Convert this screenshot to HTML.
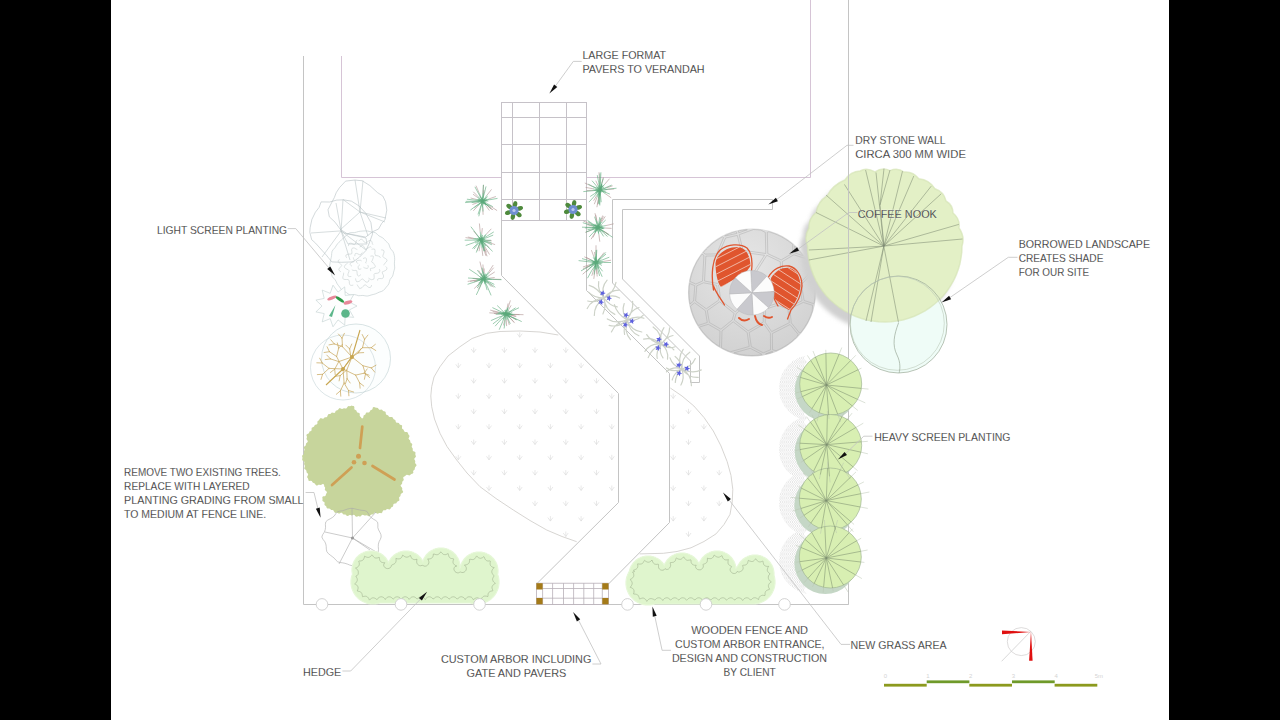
<!DOCTYPE html>
<html><head><meta charset="utf-8"><style>html,body{margin:0;padding:0;background:#000;}svg{display:block;}</style></head>
<body><svg width="1280" height="720" viewBox="0 0 1280 720">
<rect x="0" y="0" width="1280" height="720" fill="#000"/>
<rect x="111" y="0" width="1058" height="720" fill="#fff"/>
<line x1="303.5" y1="56" x2="303.5" y2="604.5" stroke="#c4c4c4" stroke-width="1"/>
<line x1="303.5" y1="604.5" x2="848.5" y2="604.5" stroke="#c4c4c4" stroke-width="1"/>
<line x1="848.5" y1="0" x2="848.5" y2="604.5" stroke="#c4c4c4" stroke-width="1"/>
<polyline points="341.5,56 341.5,177.5 501.5,177.5" stroke="#d6c4d6" stroke-width="1" fill="none"/>
<polyline points="586.5,177.5 810.5,177.5 810.5,0" stroke="#d6c4d6" stroke-width="1" fill="none"/>
<rect x="501.5" y="102.5" width="85" height="118" fill="none" stroke="#c6c2c8"/>
<line x1="512.5" y1="102.5" x2="512.5" y2="220.5" stroke="#c6c2c8" stroke-width="1"/>
<line x1="539.5" y1="102.5" x2="539.5" y2="220.5" stroke="#c6c2c8" stroke-width="1"/>
<line x1="566.5" y1="102.5" x2="566.5" y2="220.5" stroke="#c6c2c8" stroke-width="1"/>
<line x1="501.5" y1="117.5" x2="586.5" y2="117.5" stroke="#c6c2c8" stroke-width="1"/>
<line x1="501.5" y1="144.5" x2="586.5" y2="144.5" stroke="#c6c2c8" stroke-width="1"/>
<line x1="501.5" y1="172.5" x2="586.5" y2="172.5" stroke="#c6c2c8" stroke-width="1"/>
<line x1="501.5" y1="199.5" x2="586.5" y2="199.5" stroke="#c6c2c8" stroke-width="1"/>
<polyline points="501.5,220.5 501.5,275.5 618.5,393.5 618.5,502.5 536.5,584" stroke="#c4c4c4" stroke-width="1" fill="none"/>
<polyline points="586.5,220.5 586.5,290.5 669.5,373.5 669.5,522.5 608.5,584" stroke="#c4c4c4" stroke-width="1" fill="none"/>
<polyline points="612.5,283 612.5,199.5 772.5,199.5 772.5,209.5 622.5,209.5 622.5,279 699.5,356 699.5,382.5 690.5,382.5 690.5,361 612.5,283" stroke="#c4c4c4" stroke-width="1" fill="none"/>
<defs><radialGradient id="pg" cx="45%" cy="30%" r="75%"><stop offset="0" stop-color="#e6e6e6"/><stop offset="1" stop-color="#d0d0d0"/></radialGradient><filter id="blur3" x="-20%" y="-20%" width="140%" height="140%"><feGaussianBlur stdDeviation="3"/></filter><filter id="blur1" x="-20%" y="-20%" width="140%" height="140%"><feGaussianBlur stdDeviation="1.2"/></filter><filter id="blur2" x="-20%" y="-20%" width="140%" height="140%"><feGaussianBlur stdDeviation="2.2"/></filter></defs>
<circle cx="752" cy="292.5" r="64" fill="url(#pg)"/>
<path d="M693.6,301 L694.8,285.7 L689.6,283.5 L689.5,284.8 L689.3,286.3 L689.2,287.9 L689.1,289.4 L689,291 L689,292.5 L689,294 L689.1,295.6 L689.2,297.1 L689.3,298.7 L689.5,300.2 L689.7,301.7 L689.9,303.3 L690,303.9 L693.6,301Z M695.8,284 L702.5,281.1 L703.9,255.5 L702.1,254.1 L701.4,255 L700.5,256.2 L699.6,257.5 L698.8,258.8 L698,260.1 L697.2,261.4 L696.4,262.8 L695.7,264.2 L695,265.6 L694.4,267 L693.8,268.4 L693.2,269.8 L692.7,271.3 L692.2,272.7 L691.7,274.2 L691.3,275.7 L690.9,277.2 L690.5,278.7 L690.2,280.2 L690,281.5 L695.8,284Z M707.3,322.5 L705.3,310.6 L694.6,302.8 L690.5,306.1 L690.5,306.3 L690.9,307.8 L691.3,309.3 L691.7,310.8 L692.2,312.3 L692.7,313.7 L693.2,315.2 L693.8,316.6 L694.4,318 L695,319.4 L695.7,320.8 L696.4,322.2 L697.2,323.6 L698,324.9 L698.3,325.4 L707.3,322.5Z M696.8,285.8 L695.6,301 L706.3,308.8 L718.7,300.1 L716.6,285.3 L703.6,282.8 L696.8,285.8Z M705.3,254.1 L716.6,253.9 L723.6,237.5 L722.4,236.9 L722.3,236.9 L720.9,237.7 L719.6,238.5 L718.3,239.3 L717,240.1 L715.7,241 L714.5,241.9 L713.2,242.8 L712,243.8 L710.9,244.8 L709.7,245.8 L708.6,246.9 L707.5,248 L706.4,249.1 L705.3,250.2 L704.3,251.4 L703.3,252.5 L705.3,254.1Z M720,331 L708.3,324.3 L699.4,327.1 L699.6,327.5 L700.5,328.8 L701.4,330 L702.3,331.3 L703.3,332.5 L704.3,333.6 L705.3,334.8 L706.4,335.9 L707.5,337 L708.6,338.1 L709.7,339.2 L710.9,340.2 L712,341.2 L713.2,342.2 L714.5,343.1 L715.7,344 L717,344.9 L718.3,345.7 L719.5,346.5 L720,331Z M709.4,322.5 L720.9,329.2 L732.3,319.9 L734.1,313.4 L719.7,301.8 L707.3,310.5 L709.4,322.5Z M717.3,283.4 L732.6,274.7 L731.5,267.1 L717,255.9 L705.9,256.1 L704.5,281 L717.3,283.4Z M732.2,265.1 L741.2,251 L737.3,235.4 L725.6,238 L718.5,254.5 L732.2,265.1Z M725,236 L736.9,233.4 L736.2,231.5 L735.2,231.8 L733.7,232.2 L732.2,232.7 L730.8,233.2 L729.3,233.7 L727.9,234.3 L726.5,234.9 L725.1,235.5 L724.6,235.8 L725,236Z M718.6,285 L720.7,300 L735.2,311.8 L748.9,300.5 L746.4,283.9 L733.7,276.3 L718.6,285Z M721.5,347.6 L722.3,348.1 L723.7,348.8 L725.1,349.5 L726.5,350.1 L727.9,350.7 L729.3,351.3 L730.5,351.7 L749.2,346.5 L747.2,332.5 L733.2,321.8 L722,330.9 L721.5,347.6Z M743.1,250.3 L765.8,253.5 L765.3,232.4 L760.9,230.1 L759.7,230 L758.2,229.8 L756.6,229.7 L755.1,229.6 L753.5,229.5 L753.5,229.5 L739.2,234.7 L743.1,250.3Z M738.8,232.8 L747.3,229.7 L745.8,229.8 L744.3,230 L742.8,230.2 L741.2,230.4 L739.7,230.7 L738.2,231 L738.2,231 L738.8,232.8Z M733.5,266.8 L734.6,274.6 L747.3,282.1 L747.6,281.9 L764.5,255.3 L742.8,252.3 L733.5,266.8Z M733.9,352.9 L735.2,353.2 L736.7,353.6 L738.2,354 L739.7,354.3 L741.2,354.6 L742.8,354.8 L744.3,355 L745.8,355.2 L747.4,355.3 L748.9,355.4 L750.5,355.5 L752,355.5 L753.5,355.5 L755.1,355.4 L756.6,355.3 L758.2,355.2 L759.7,355 L761.2,354.8 L761.9,354.7 L762,354.4 L750.2,348.3 L733.9,352.9Z M734.3,320.1 L748.2,330.8 L763.2,322.2 L763.5,309 L750.1,302.1 L736.1,313.6 L734.3,320.1Z M750.9,300.3 L764.6,307.3 L776.7,303.5 L777.2,281.4 L748.6,283.6 L748.4,283.8 L750.9,300.3Z M750.2,281.5 L777.7,279.4 L780.7,275.6 L780.3,261.7 L766.8,255.3 L766.8,255.3 L750.2,281.5Z M751.3,346.6 L763.3,352.8 L770.5,349.8 L770.4,333.2 L763.9,324.1 L749.2,332.5 L751.3,346.6Z M765.2,322.4 L771.7,331.6 L789.3,322.7 L787.9,309.1 L777.7,305.3 L765.5,309.2 L765.2,322.4Z M771.5,351.6 L765.6,354 L765.8,354 L767.3,353.6 L768.8,353.2 L770.3,352.8 L771.8,352.3 L772.9,351.9 L771.5,351.6Z M767.8,253.6 L781.2,259.9 L792.8,253.1 L792.7,244.4 L792,243.8 L790.8,242.8 L789.5,241.9 L788.3,241 L787,240.1 L785.7,239.3 L784.4,238.5 L783.1,237.7 L781.7,236.9 L780.3,236.2 L778.9,235.5 L777.5,234.9 L776.1,234.3 L774.7,233.7 L773.2,233.2 L771.8,232.7 L770.3,232.2 L768.8,231.8 L768.7,231.8 L767.3,232.4 L767.8,253.6Z M779.2,280.7 L778.7,303.5 L788.8,307.3 L802.1,300.7 L799.5,284.9 L782,277.2 L779.2,280.7Z M772.5,349.7 L776,350.7 L776.1,350.7 L777.5,350.1 L778.9,349.5 L780.3,348.8 L781.7,348.1 L783.1,347.3 L784.4,346.5 L785.7,345.7 L787,344.9 L788.3,344 L789.5,343.1 L790.8,342.2 L792,341.2 L793.1,340.2 L794.3,339.2 L795.4,338.1 L796.5,337 L797.6,336 L798.1,334.4 L790.1,324.5 L772.4,333.5 L772.5,349.7Z M782.3,261.6 L782.7,275.3 L800.1,283 L811.3,271.2 L810.8,269.8 L810.2,268.4 L809.6,267 L809,265.6 L808.3,264.2 L807.6,262.8 L806.8,261.4 L806,260.1 L805.2,258.8 L805,258.4 L793.9,254.8 L782.3,261.6Z M789.9,308.9 L791.3,322.9 L799.5,333 L800.6,332.6 L800.7,332.5 L801.7,331.3 L802.6,330 L803.5,328.8 L804.4,327.5 L805.2,326.2 L806,324.9 L806.8,323.6 L807.6,322.2 L808.3,320.8 L809,319.4 L809.6,318 L810.2,316.6 L810.8,315.2 L811.3,313.7 L811.8,312.3 L812.2,311.2 L812.5,305.3 L803.3,302.4 L789.9,308.9Z M794.8,252.9 L803.1,255.7 L802.6,255 L801.7,253.7 L800.7,252.5 L799.7,251.4 L798.7,250.2 L797.6,249.1 L796.5,248 L795.4,246.9 L794.7,246.2 L794.8,252.9Z M801.4,284.5 L804.1,300.5 L813.5,303.6 L814,303.4 L814.1,303.3 L814.3,301.7 L814.5,300.2 L814.7,298.7 L814.8,297.1 L814.9,295.6 L815,294 L815,292.5 L815,291 L814.9,289.4 L814.8,287.9 L814.7,286.3 L814.5,284.8 L814.3,283.3 L814.1,281.7 L813.8,280.2 L813.5,278.7 L813.1,277.2 L812.7,275.7 L812.3,274.2 L812,273.3 L801.4,284.5Z" fill="none" stroke="#a8a8a8" stroke-width="0.45"/>
<clipPath id="ch1"><path d="M715.5,263 C717,253 727,247 738,247 C746,248 750,255 750.5,266 L747,271 C738,277 728,283 721,287 C717,282 715.5,272 715.5,263Z"/></clipPath>
<path d="M715.5,263 C717,253 727,247 738,247 C746,248 750,255 750.5,266 L747,271 C738,277 728,283 721,287 C717,282 715.5,272 715.5,263Z" fill="#e0552e"/>
<path d="M651.7,253.6 L794.2,181 M654.8,259.7 L797.3,187 M657.8,265.7 L800.4,193.1 M660.9,271.8 L803.5,199.2 M664,277.8 L806.6,205.2 M667.1,283.9 L809.7,211.3 M670.2,290 L812.8,217.3 M673.3,296 L815.8,223.4 M676.4,302.1 L818.9,229.4 M679.5,308.1 L822,235.5 M682.5,314.2 L825.1,241.6 M685.6,320.3 L828.2,247.6 M688.7,326.3 L831.3,253.7 M691.8,332.4 L834.4,259.7 M694.9,338.4 L837.5,265.8 M698,344.5 L840.5,271.9 M701.1,350.6 L843.6,277.9 M704.2,356.6 L846.7,284 M707.2,362.7 L849.8,290 M710.3,368.7 L852.9,296.1 M713.4,374.8 L856,302.2 M716.5,380.8 L859.1,308.2 M719.6,386.9 L862.2,314.3 M722.7,393 L865.2,320.3 M725.8,399 L868.3,326.4" stroke="#f6e0d6" stroke-width="0.7" clip-path="url(#ch1)"/>
<path d="M713.5,290 C711,275 712,258 720,250 C728,244 740,243 747,248 C752,253 752.5,263 751.5,271 M713.5,286 C716,293 721,299 724.5,305" fill="none" stroke="#e0552e" stroke-width="1.3" stroke-linecap="round" stroke-linejoin="round"/>
<path d="M739,318 C742,321 746,321 749,319 M755,316 C756,321 758,324 762,325 M764,316 C767,318 770,318 772,317" fill="none" stroke="#e0552e" stroke-width="1.9" stroke-linecap="round"/>
<clipPath id="ch2"><path d="M771,278 C776,270 783,267 790,268 C797,270 800,277 800.5,286 C799,296 795,304 789,310 C783,307 777,303 774,297 C772,291 771,284 771,278Z"/></clipPath>
<path d="M771,278 C776,270 783,267 790,268 C797,270 800,277 800.5,286 C799,296 795,304 789,310 C783,307 777,303 774,297 C772,291 771,284 771,278Z" fill="#e0552e"/>
<path d="M737.3,178 L871.5,265.1 M733.6,183.7 L867.8,270.8 M729.9,189.4 L864.1,276.5 M726.2,195.1 L860.4,282.2 M722.5,200.8 L856.7,287.9 M718.8,206.5 L853,293.7 M715.1,212.2 L849.3,299.4 M711.4,217.9 L845.6,305.1 M707.7,223.6 L841.9,310.8 M704,229.3 L838.2,316.5 M700.3,235 L834.5,322.2 M696.6,240.7 L830.8,327.9 M692.9,246.4 L827.1,333.6 M689.2,252.1 L823.4,339.3 M685.5,257.8 L819.7,345 M681.8,263.5 L816,350.7 M678.1,269.2 L812.3,356.4 M674.4,274.9 L808.6,362.1 M670.7,280.6 L804.9,367.8 M667,286.3 L801.2,373.5 M663.3,292.1 L797.5,379.2 M659.6,297.8 L793.8,384.9 M655.9,303.5 L790.1,390.6 M652.2,309.2 L786.4,396.3 M648.5,314.9 L782.7,402" stroke="#f6e0d6" stroke-width="0.7" clip-path="url(#ch2)"/>
<path d="M768.5,277 C773,269 781,265 789,266 C797,268 802,276 802,286 C801,296 797,304 791,310 L787.5,319 M769.5,279 C771,290 774,300 778,306" fill="none" stroke="#e0552e" stroke-width="1.3" stroke-linecap="round" stroke-linejoin="round"/>
<path d="" fill="none" stroke="#e0552e" stroke-width="1.9" stroke-linecap="round"/>
<path d="M751.9,292.8 L750.7,270.5 A22.3,22.3 0 0 1 766.8,276.2Z" fill="#c9c9ce" stroke="#b0b0b4" stroke-width="0.4"/>
<path d="M751.9,292.8 L766.8,276.2 A22.3,22.3 0 0 1 774.2,291.6Z" fill="#fcfcfc" stroke="#b0b0b4" stroke-width="0.4"/>
<path d="M751.9,292.8 L774.2,291.6 A22.3,22.3 0 0 1 768.5,307.7Z" fill="#c9c9ce" stroke="#b0b0b4" stroke-width="0.4"/>
<path d="M751.9,292.8 L768.5,307.7 A22.3,22.3 0 0 1 753.1,315Z" fill="#fcfcfc" stroke="#b0b0b4" stroke-width="0.4"/>
<path d="M751.9,292.8 L753.1,315 A22.3,22.3 0 0 1 737,309.3Z" fill="#c9c9ce" stroke="#b0b0b4" stroke-width="0.4"/>
<path d="M751.9,292.8 L737,309.3 A22.3,22.3 0 0 1 729.6,293.9Z" fill="#fcfcfc" stroke="#b0b0b4" stroke-width="0.4"/>
<path d="M751.9,292.8 L729.6,293.9 A22.3,22.3 0 0 1 735.3,277.8Z" fill="#c9c9ce" stroke="#b0b0b4" stroke-width="0.4"/>
<path d="M751.9,292.8 L735.3,277.8 A22.3,22.3 0 0 1 750.7,270.5Z" fill="#fcfcfc" stroke="#b0b0b4" stroke-width="0.4"/>
<path d="M807.5,246 Q803.7,236.5 809,228 Q808.3,218.7 816.2,212.5 Q817.8,201.7 827,196 Q833.1,184.5 845,180 Q850.6,171.3 860,171 Q866.6,167.3 875,171.9 Q882.4,167 890,170.6 Q897.7,167.4 904,172 Q913,171.1 918.8,178.8 Q929.5,180 935,188.8 Q943.9,191.8 946,201 Q952.8,205 953,213 Q960.3,219 959,228 Q965.1,236.5 962,246 L961.8,252 L961,257.9 L959.9,263.7 L958.2,269.5 L956.1,275.1 L953.6,280.5 L950.6,285.7 L947.2,290.7 L943.5,295.4 L939.4,299.7 L934.9,303.8 L930.2,307.5 L925.1,310.8 L919.8,313.7 L914.3,316.2 L908.6,318.3 L902.8,319.9 L896.8,321.1 L890.8,321.8 L884.8,322 L878.7,321.8 L872.7,321.1 L866.7,319.9 L860.9,318.3 L855.2,316.2 L849.7,313.7 L844.4,310.8 L839.3,307.5 L834.6,303.8 L830.1,299.7 L826,295.4 L822.3,290.7 L818.9,285.7 L815.9,280.5 L813.4,275.1 L811.3,269.5 L809.6,263.7 L808.5,257.9 L807.7,252 L807.5,246Z" transform="translate(-6,8)" fill="#d0d0d0" filter="url(#blur2)"/>
<circle cx="898.5" cy="324.5" r="48.5" fill="#effcf7"/>
<path d="M807.5,246 Q803.7,236.5 809,228 Q808.3,218.7 816.2,212.5 Q817.8,201.7 827,196 Q833.1,184.5 845,180 Q850.6,171.3 860,171 Q866.6,167.3 875,171.9 Q882.4,167 890,170.6 Q897.7,167.4 904,172 Q913,171.1 918.8,178.8 Q929.5,180 935,188.8 Q943.9,191.8 946,201 Q952.8,205 953,213 Q960.3,219 959,228 Q965.1,236.5 962,246 L961.8,252 L961,257.9 L959.9,263.7 L958.2,269.5 L956.1,275.1 L953.6,280.5 L950.6,285.7 L947.2,290.7 L943.5,295.4 L939.4,299.7 L934.9,303.8 L930.2,307.5 L925.1,310.8 L919.8,313.7 L914.3,316.2 L908.6,318.3 L902.8,319.9 L896.8,321.1 L890.8,321.8 L884.8,322 L878.7,321.8 L872.7,321.1 L866.7,319.9 L860.9,318.3 L855.2,316.2 L849.7,313.7 L844.4,310.8 L839.3,307.5 L834.6,303.8 L830.1,299.7 L826,295.4 L822.3,290.7 L818.9,285.7 L815.9,280.5 L813.4,275.1 L811.3,269.5 L809.6,263.7 L808.5,257.9 L807.7,252 L807.5,246Z" fill="#e3f0c6"/>
<path d="M807.5,246 Q803.7,236.5 809,228 Q808.3,218.7 816.2,212.5 Q817.8,201.7 827,196 Q833.1,184.5 845,180 Q850.6,171.3 860,171 Q866.6,167.3 875,171.9 Q882.4,167 890,170.6 Q897.7,167.4 904,172 Q913,171.1 918.8,178.8 Q929.5,180 935,188.8 Q943.9,191.8 946,201 Q952.8,205 953,213 Q960.3,219 959,228 Q965.1,236.5 962,246 L961.8,252 L961,257.9 L959.9,263.7 L958.2,269.5 L956.1,275.1 L953.6,280.5 L950.6,285.7 L947.2,290.7 L943.5,295.4 L939.4,299.7 L934.9,303.8 L930.2,307.5 L925.1,310.8 L919.8,313.7 L914.3,316.2 L908.6,318.3 L902.8,319.9 L896.8,321.1 L890.8,321.8 L884.8,322 L878.7,321.8 L872.7,321.1 L866.7,319.9 L860.9,318.3 L855.2,316.2 L849.7,313.7 L844.4,310.8 L839.3,307.5 L834.6,303.8 L830.1,299.7 L826,295.4 L822.3,290.7 L818.9,285.7 L815.9,280.5 L813.4,275.1 L811.3,269.5 L809.6,263.7 L808.5,257.9 L807.7,252 L807.5,246Z" fill="none" stroke="#d5e4b6" stroke-width="1.5" opacity="0.7"/>
<path d="M883.8,246.1 L816,212.5 M883.8,246.1 L826,195 M883.8,246.1 L844.4,184.4 M883.8,246.1 L865.6,170 M883.8,246.1 L876,172.5 M883.8,246.1 L902.5,171.2 M883.8,246.1 L913.8,176 M883.8,246.1 L931.2,186.2 M883.8,246.1 L941.2,193.8 M883.8,246.1 L958.8,224.4 M883.8,246.1 L962.5,239 M883.8,246.1 L808.8,260 M883.8,246.1 L808.8,250 M883.8,246.1 L898.5,322.5 M883.8,246.1 L866,321 M883.8,246.1 L871,322 M884,246 L880,205 L884,168.5 M880,205 L890,170" stroke="#7f8c74" stroke-width="0.55" fill="none"/>
<circle cx="898.5" cy="324.5" r="48.5" fill="none" stroke="#9cab98" stroke-width="0.7"/>
<circle cx="897.3" cy="323.3" r="47" fill="none" stroke="#bccab8" stroke-width="0.6"/>
<path d="M898.5,323 C894,335 892,345 897,355 C901,363 900,370 899,373" fill="none" stroke="#8b9a88" stroke-width="0.6"/>
<line x1="848.5" y1="0" x2="848.5" y2="604.5" stroke="#c4c4c4" stroke-width="1"/>
<clipPath id="hclip"><circle cx="812" cy="388" r="33"/><circle cx="812" cy="449" r="33"/><circle cx="812" cy="503" r="33"/><circle cx="812" cy="561" r="33"/></clipPath>
<path d="M774.5,350 L774.9,351 L776,352 L777.1,353 L777.5,354 L777.1,355 L776,356 L774.9,357 L774.5,358 L774.9,359 L776,360 L777.1,361 L777.5,362 L777.1,363 L776,364 L774.9,365 L774.5,366 L774.9,367 L776,368 L777.1,369 L777.5,370 L777.1,371 L776,372 L774.9,373 L774.5,374 L774.9,375 L776,376 L777.1,377 L777.5,378 L777.1,379 L776,380 L774.9,381 L774.5,382 L774.9,383 L776,384 L777.1,385 L777.5,386 L777.1,387 L776,388 L774.9,389 L774.5,390 L774.9,391 L776,392 L777.1,393 L777.5,394 L777.1,395 L776,396 L774.9,397 L774.5,398 L774.9,399 L776,400 L777.1,401 L777.5,402 L777.1,403 L776,404 L774.9,405 L774.5,406 L774.9,407 L776,408 L777.1,409 L777.5,410 L777.1,411 L776,412 L774.9,413 L774.5,414 L774.9,415 L776,416 L777.1,417 L777.5,418 L777.1,419 L776,420 L774.9,421 L774.5,422 L774.9,423 L776,424 L777.1,425 L777.5,426 L777.1,427 L776,428 L774.9,429 L774.5,430 L774.9,431 L776,432 L777.1,433 L777.5,434 L777.1,435 L776,436 L774.9,437 L774.5,438 L774.9,439 L776,440 L777.1,441 L777.5,442 L777.1,443 L776,444 L774.9,445 L774.5,446 L774.9,447 L776,448 L777.1,449 L777.5,450 L777.1,451 L776,452 L774.9,453 L774.5,454 L774.9,455 L776,456 L777.1,457 L777.5,458 L777.1,459 L776,460 L774.9,461 L774.5,462 L774.9,463 L776,464 L777.1,465 L777.5,466 L777.1,467 L776,468 L774.9,469 L774.5,470 L774.9,471 L776,472 L777.1,473 L777.5,474 L777.1,475 L776,476 L774.9,477 L774.5,478 L774.9,479 L776,480 L777.1,481 L777.5,482 L777.1,483 L776,484 L774.9,485 L774.5,486 L774.9,487 L776,488 L777.1,489 L777.5,490 L777.1,491 L776,492 L774.9,493 L774.5,494 L774.9,495 L776,496 L777.1,497 L777.5,498 L777.1,499 L776,500 L774.9,501 L774.5,502 L774.9,503 L776,504 L777.1,505 L777.5,506 L777.1,507 L776,508 L774.9,509 L774.5,510 L774.9,511 L776,512 L777.1,513 L777.5,514 L777.1,515 L776,516 L774.9,517 L774.5,518 L774.9,519 L776,520 L777.1,521 L777.5,522 L777.1,523 L776,524 L774.9,525 L774.5,526 L774.9,527 L776,528 L777.1,529 L777.5,530 L777.1,531 L776,532 L774.9,533 L774.5,534 L774.9,535 L776,536 L777.1,537 L777.5,538 L777.1,539 L776,540 L774.9,541 L774.5,542 L774.9,543 L776,544 L777.1,545 L777.5,546 L777.1,547 L776,548 L774.9,549 L774.5,550 L774.9,551 L776,552 L777.1,553 L777.5,554 L777.1,555 L776,556 L774.9,557 L774.5,558 L774.9,559 L776,560 L777.1,561 L777.5,562 L777.1,563 L776,564 L774.9,565 L774.5,566 L774.9,567 L776,568 L777.1,569 L777.5,570 L777.1,571 L776,572 L774.9,573 L774.5,574 L774.9,575 L776,576 L777.1,577 L777.5,578 L777.1,579 L776,580 L774.9,581 L774.5,582 L774.9,583 L776,584 L777.1,585 L777.5,586 L777.1,587 L776,588 L774.9,589 L774.5,590 L774.9,591 L776,592 L777.1,593 L777.5,594 L777.1,595 L776,596 L774.9,597 L774.5,598 L774.9,599 L776,600 L777.1,601 L777.5,602 L777.1,603 M776.4,350 L776.8,351 L777.9,352 L779,353 L779.4,354 L779,355 L777.9,356 L776.8,357 L776.4,358 L776.8,359 L777.9,360 L779,361 L779.4,362 L779,363 L777.9,364 L776.8,365 L776.4,366 L776.8,367 L777.9,368 L779,369 L779.4,370 L779,371 L777.9,372 L776.8,373 L776.4,374 L776.8,375 L777.9,376 L779,377 L779.4,378 L779,379 L777.9,380 L776.8,381 L776.4,382 L776.8,383 L777.9,384 L779,385 L779.4,386 L779,387 L777.9,388 L776.8,389 L776.4,390 L776.8,391 L777.9,392 L779,393 L779.4,394 L779,395 L777.9,396 L776.8,397 L776.4,398 L776.8,399 L777.9,400 L779,401 L779.4,402 L779,403 L777.9,404 L776.8,405 L776.4,406 L776.8,407 L777.9,408 L779,409 L779.4,410 L779,411 L777.9,412 L776.8,413 L776.4,414 L776.8,415 L777.9,416 L779,417 L779.4,418 L779,419 L777.9,420 L776.8,421 L776.4,422 L776.8,423 L777.9,424 L779,425 L779.4,426 L779,427 L777.9,428 L776.8,429 L776.4,430 L776.8,431 L777.9,432 L779,433 L779.4,434 L779,435 L777.9,436 L776.8,437 L776.4,438 L776.8,439 L777.9,440 L779,441 L779.4,442 L779,443 L777.9,444 L776.8,445 L776.4,446 L776.8,447 L777.9,448 L779,449 L779.4,450 L779,451 L777.9,452 L776.8,453 L776.4,454 L776.8,455 L777.9,456 L779,457 L779.4,458 L779,459 L777.9,460 L776.8,461 L776.4,462 L776.8,463 L777.9,464 L779,465 L779.4,466 L779,467 L777.9,468 L776.8,469 L776.4,470 L776.8,471 L777.9,472 L779,473 L779.4,474 L779,475 L777.9,476 L776.8,477 L776.4,478 L776.8,479 L777.9,480 L779,481 L779.4,482 L779,483 L777.9,484 L776.8,485 L776.4,486 L776.8,487 L777.9,488 L779,489 L779.4,490 L779,491 L777.9,492 L776.8,493 L776.4,494 L776.8,495 L777.9,496 L779,497 L779.4,498 L779,499 L777.9,500 L776.8,501 L776.4,502 L776.8,503 L777.9,504 L779,505 L779.4,506 L779,507 L777.9,508 L776.8,509 L776.4,510 L776.8,511 L777.9,512 L779,513 L779.4,514 L779,515 L777.9,516 L776.8,517 L776.4,518 L776.8,519 L777.9,520 L779,521 L779.4,522 L779,523 L777.9,524 L776.8,525 L776.4,526 L776.8,527 L777.9,528 L779,529 L779.4,530 L779,531 L777.9,532 L776.8,533 L776.4,534 L776.8,535 L777.9,536 L779,537 L779.4,538 L779,539 L777.9,540 L776.8,541 L776.4,542 L776.8,543 L777.9,544 L779,545 L779.4,546 L779,547 L777.9,548 L776.8,549 L776.4,550 L776.8,551 L777.9,552 L779,553 L779.4,554 L779,555 L777.9,556 L776.8,557 L776.4,558 L776.8,559 L777.9,560 L779,561 L779.4,562 L779,563 L777.9,564 L776.8,565 L776.4,566 L776.8,567 L777.9,568 L779,569 L779.4,570 L779,571 L777.9,572 L776.8,573 L776.4,574 L776.8,575 L777.9,576 L779,577 L779.4,578 L779,579 L777.9,580 L776.8,581 L776.4,582 L776.8,583 L777.9,584 L779,585 L779.4,586 L779,587 L777.9,588 L776.8,589 L776.4,590 L776.8,591 L777.9,592 L779,593 L779.4,594 L779,595 L777.9,596 L776.8,597 L776.4,598 L776.8,599 L777.9,600 L779,601 L779.4,602 L779,603 M778.3,350 L778.7,351 L779.8,352 L780.9,353 L781.3,354 L780.9,355 L779.8,356 L778.7,357 L778.3,358 L778.7,359 L779.8,360 L780.9,361 L781.3,362 L780.9,363 L779.8,364 L778.7,365 L778.3,366 L778.7,367 L779.8,368 L780.9,369 L781.3,370 L780.9,371 L779.8,372 L778.7,373 L778.3,374 L778.7,375 L779.8,376 L780.9,377 L781.3,378 L780.9,379 L779.8,380 L778.7,381 L778.3,382 L778.7,383 L779.8,384 L780.9,385 L781.3,386 L780.9,387 L779.8,388 L778.7,389 L778.3,390 L778.7,391 L779.8,392 L780.9,393 L781.3,394 L780.9,395 L779.8,396 L778.7,397 L778.3,398 L778.7,399 L779.8,400 L780.9,401 L781.3,402 L780.9,403 L779.8,404 L778.7,405 L778.3,406 L778.7,407 L779.8,408 L780.9,409 L781.3,410 L780.9,411 L779.8,412 L778.7,413 L778.3,414 L778.7,415 L779.8,416 L780.9,417 L781.3,418 L780.9,419 L779.8,420 L778.7,421 L778.3,422 L778.7,423 L779.8,424 L780.9,425 L781.3,426 L780.9,427 L779.8,428 L778.7,429 L778.3,430 L778.7,431 L779.8,432 L780.9,433 L781.3,434 L780.9,435 L779.8,436 L778.7,437 L778.3,438 L778.7,439 L779.8,440 L780.9,441 L781.3,442 L780.9,443 L779.8,444 L778.7,445 L778.3,446 L778.7,447 L779.8,448 L780.9,449 L781.3,450 L780.9,451 L779.8,452 L778.7,453 L778.3,454 L778.7,455 L779.8,456 L780.9,457 L781.3,458 L780.9,459 L779.8,460 L778.7,461 L778.3,462 L778.7,463 L779.8,464 L780.9,465 L781.3,466 L780.9,467 L779.8,468 L778.7,469 L778.3,470 L778.7,471 L779.8,472 L780.9,473 L781.3,474 L780.9,475 L779.8,476 L778.7,477 L778.3,478 L778.7,479 L779.8,480 L780.9,481 L781.3,482 L780.9,483 L779.8,484 L778.7,485 L778.3,486 L778.7,487 L779.8,488 L780.9,489 L781.3,490 L780.9,491 L779.8,492 L778.7,493 L778.3,494 L778.7,495 L779.8,496 L780.9,497 L781.3,498 L780.9,499 L779.8,500 L778.7,501 L778.3,502 L778.7,503 L779.8,504 L780.9,505 L781.3,506 L780.9,507 L779.8,508 L778.7,509 L778.3,510 L778.7,511 L779.8,512 L780.9,513 L781.3,514 L780.9,515 L779.8,516 L778.7,517 L778.3,518 L778.7,519 L779.8,520 L780.9,521 L781.3,522 L780.9,523 L779.8,524 L778.7,525 L778.3,526 L778.7,527 L779.8,528 L780.9,529 L781.3,530 L780.9,531 L779.8,532 L778.7,533 L778.3,534 L778.7,535 L779.8,536 L780.9,537 L781.3,538 L780.9,539 L779.8,540 L778.7,541 L778.3,542 L778.7,543 L779.8,544 L780.9,545 L781.3,546 L780.9,547 L779.8,548 L778.7,549 L778.3,550 L778.7,551 L779.8,552 L780.9,553 L781.3,554 L780.9,555 L779.8,556 L778.7,557 L778.3,558 L778.7,559 L779.8,560 L780.9,561 L781.3,562 L780.9,563 L779.8,564 L778.7,565 L778.3,566 L778.7,567 L779.8,568 L780.9,569 L781.3,570 L780.9,571 L779.8,572 L778.7,573 L778.3,574 L778.7,575 L779.8,576 L780.9,577 L781.3,578 L780.9,579 L779.8,580 L778.7,581 L778.3,582 L778.7,583 L779.8,584 L780.9,585 L781.3,586 L780.9,587 L779.8,588 L778.7,589 L778.3,590 L778.7,591 L779.8,592 L780.9,593 L781.3,594 L780.9,595 L779.8,596 L778.7,597 L778.3,598 L778.7,599 L779.8,600 L780.9,601 L781.3,602 L780.9,603 M780.2,350 L780.6,351 L781.7,352 L782.8,353 L783.2,354 L782.8,355 L781.7,356 L780.6,357 L780.2,358 L780.6,359 L781.7,360 L782.8,361 L783.2,362 L782.8,363 L781.7,364 L780.6,365 L780.2,366 L780.6,367 L781.7,368 L782.8,369 L783.2,370 L782.8,371 L781.7,372 L780.6,373 L780.2,374 L780.6,375 L781.7,376 L782.8,377 L783.2,378 L782.8,379 L781.7,380 L780.6,381 L780.2,382 L780.6,383 L781.7,384 L782.8,385 L783.2,386 L782.8,387 L781.7,388 L780.6,389 L780.2,390 L780.6,391 L781.7,392 L782.8,393 L783.2,394 L782.8,395 L781.7,396 L780.6,397 L780.2,398 L780.6,399 L781.7,400 L782.8,401 L783.2,402 L782.8,403 L781.7,404 L780.6,405 L780.2,406 L780.6,407 L781.7,408 L782.8,409 L783.2,410 L782.8,411 L781.7,412 L780.6,413 L780.2,414 L780.6,415 L781.7,416 L782.8,417 L783.2,418 L782.8,419 L781.7,420 L780.6,421 L780.2,422 L780.6,423 L781.7,424 L782.8,425 L783.2,426 L782.8,427 L781.7,428 L780.6,429 L780.2,430 L780.6,431 L781.7,432 L782.8,433 L783.2,434 L782.8,435 L781.7,436 L780.6,437 L780.2,438 L780.6,439 L781.7,440 L782.8,441 L783.2,442 L782.8,443 L781.7,444 L780.6,445 L780.2,446 L780.6,447 L781.7,448 L782.8,449 L783.2,450 L782.8,451 L781.7,452 L780.6,453 L780.2,454 L780.6,455 L781.7,456 L782.8,457 L783.2,458 L782.8,459 L781.7,460 L780.6,461 L780.2,462 L780.6,463 L781.7,464 L782.8,465 L783.2,466 L782.8,467 L781.7,468 L780.6,469 L780.2,470 L780.6,471 L781.7,472 L782.8,473 L783.2,474 L782.8,475 L781.7,476 L780.6,477 L780.2,478 L780.6,479 L781.7,480 L782.8,481 L783.2,482 L782.8,483 L781.7,484 L780.6,485 L780.2,486 L780.6,487 L781.7,488 L782.8,489 L783.2,490 L782.8,491 L781.7,492 L780.6,493 L780.2,494 L780.6,495 L781.7,496 L782.8,497 L783.2,498 L782.8,499 L781.7,500 L780.6,501 L780.2,502 L780.6,503 L781.7,504 L782.8,505 L783.2,506 L782.8,507 L781.7,508 L780.6,509 L780.2,510 L780.6,511 L781.7,512 L782.8,513 L783.2,514 L782.8,515 L781.7,516 L780.6,517 L780.2,518 L780.6,519 L781.7,520 L782.8,521 L783.2,522 L782.8,523 L781.7,524 L780.6,525 L780.2,526 L780.6,527 L781.7,528 L782.8,529 L783.2,530 L782.8,531 L781.7,532 L780.6,533 L780.2,534 L780.6,535 L781.7,536 L782.8,537 L783.2,538 L782.8,539 L781.7,540 L780.6,541 L780.2,542 L780.6,543 L781.7,544 L782.8,545 L783.2,546 L782.8,547 L781.7,548 L780.6,549 L780.2,550 L780.6,551 L781.7,552 L782.8,553 L783.2,554 L782.8,555 L781.7,556 L780.6,557 L780.2,558 L780.6,559 L781.7,560 L782.8,561 L783.2,562 L782.8,563 L781.7,564 L780.6,565 L780.2,566 L780.6,567 L781.7,568 L782.8,569 L783.2,570 L782.8,571 L781.7,572 L780.6,573 L780.2,574 L780.6,575 L781.7,576 L782.8,577 L783.2,578 L782.8,579 L781.7,580 L780.6,581 L780.2,582 L780.6,583 L781.7,584 L782.8,585 L783.2,586 L782.8,587 L781.7,588 L780.6,589 L780.2,590 L780.6,591 L781.7,592 L782.8,593 L783.2,594 L782.8,595 L781.7,596 L780.6,597 L780.2,598 L780.6,599 L781.7,600 L782.8,601 L783.2,602 L782.8,603 M782.1,350 L782.5,351 L783.6,352 L784.7,353 L785.1,354 L784.7,355 L783.6,356 L782.5,357 L782.1,358 L782.5,359 L783.6,360 L784.7,361 L785.1,362 L784.7,363 L783.6,364 L782.5,365 L782.1,366 L782.5,367 L783.6,368 L784.7,369 L785.1,370 L784.7,371 L783.6,372 L782.5,373 L782.1,374 L782.5,375 L783.6,376 L784.7,377 L785.1,378 L784.7,379 L783.6,380 L782.5,381 L782.1,382 L782.5,383 L783.6,384 L784.7,385 L785.1,386 L784.7,387 L783.6,388 L782.5,389 L782.1,390 L782.5,391 L783.6,392 L784.7,393 L785.1,394 L784.7,395 L783.6,396 L782.5,397 L782.1,398 L782.5,399 L783.6,400 L784.7,401 L785.1,402 L784.7,403 L783.6,404 L782.5,405 L782.1,406 L782.5,407 L783.6,408 L784.7,409 L785.1,410 L784.7,411 L783.6,412 L782.5,413 L782.1,414 L782.5,415 L783.6,416 L784.7,417 L785.1,418 L784.7,419 L783.6,420 L782.5,421 L782.1,422 L782.5,423 L783.6,424 L784.7,425 L785.1,426 L784.7,427 L783.6,428 L782.5,429 L782.1,430 L782.5,431 L783.6,432 L784.7,433 L785.1,434 L784.7,435 L783.6,436 L782.5,437 L782.1,438 L782.5,439 L783.6,440 L784.7,441 L785.1,442 L784.7,443 L783.6,444 L782.5,445 L782.1,446 L782.5,447 L783.6,448 L784.7,449 L785.1,450 L784.7,451 L783.6,452 L782.5,453 L782.1,454 L782.5,455 L783.6,456 L784.7,457 L785.1,458 L784.7,459 L783.6,460 L782.5,461 L782.1,462 L782.5,463 L783.6,464 L784.7,465 L785.1,466 L784.7,467 L783.6,468 L782.5,469 L782.1,470 L782.5,471 L783.6,472 L784.7,473 L785.1,474 L784.7,475 L783.6,476 L782.5,477 L782.1,478 L782.5,479 L783.6,480 L784.7,481 L785.1,482 L784.7,483 L783.6,484 L782.5,485 L782.1,486 L782.5,487 L783.6,488 L784.7,489 L785.1,490 L784.7,491 L783.6,492 L782.5,493 L782.1,494 L782.5,495 L783.6,496 L784.7,497 L785.1,498 L784.7,499 L783.6,500 L782.5,501 L782.1,502 L782.5,503 L783.6,504 L784.7,505 L785.1,506 L784.7,507 L783.6,508 L782.5,509 L782.1,510 L782.5,511 L783.6,512 L784.7,513 L785.1,514 L784.7,515 L783.6,516 L782.5,517 L782.1,518 L782.5,519 L783.6,520 L784.7,521 L785.1,522 L784.7,523 L783.6,524 L782.5,525 L782.1,526 L782.5,527 L783.6,528 L784.7,529 L785.1,530 L784.7,531 L783.6,532 L782.5,533 L782.1,534 L782.5,535 L783.6,536 L784.7,537 L785.1,538 L784.7,539 L783.6,540 L782.5,541 L782.1,542 L782.5,543 L783.6,544 L784.7,545 L785.1,546 L784.7,547 L783.6,548 L782.5,549 L782.1,550 L782.5,551 L783.6,552 L784.7,553 L785.1,554 L784.7,555 L783.6,556 L782.5,557 L782.1,558 L782.5,559 L783.6,560 L784.7,561 L785.1,562 L784.7,563 L783.6,564 L782.5,565 L782.1,566 L782.5,567 L783.6,568 L784.7,569 L785.1,570 L784.7,571 L783.6,572 L782.5,573 L782.1,574 L782.5,575 L783.6,576 L784.7,577 L785.1,578 L784.7,579 L783.6,580 L782.5,581 L782.1,582 L782.5,583 L783.6,584 L784.7,585 L785.1,586 L784.7,587 L783.6,588 L782.5,589 L782.1,590 L782.5,591 L783.6,592 L784.7,593 L785.1,594 L784.7,595 L783.6,596 L782.5,597 L782.1,598 L782.5,599 L783.6,600 L784.7,601 L785.1,602 L784.7,603 M784,350 L784.4,351 L785.5,352 L786.6,353 L787,354 L786.6,355 L785.5,356 L784.4,357 L784,358 L784.4,359 L785.5,360 L786.6,361 L787,362 L786.6,363 L785.5,364 L784.4,365 L784,366 L784.4,367 L785.5,368 L786.6,369 L787,370 L786.6,371 L785.5,372 L784.4,373 L784,374 L784.4,375 L785.5,376 L786.6,377 L787,378 L786.6,379 L785.5,380 L784.4,381 L784,382 L784.4,383 L785.5,384 L786.6,385 L787,386 L786.6,387 L785.5,388 L784.4,389 L784,390 L784.4,391 L785.5,392 L786.6,393 L787,394 L786.6,395 L785.5,396 L784.4,397 L784,398 L784.4,399 L785.5,400 L786.6,401 L787,402 L786.6,403 L785.5,404 L784.4,405 L784,406 L784.4,407 L785.5,408 L786.6,409 L787,410 L786.6,411 L785.5,412 L784.4,413 L784,414 L784.4,415 L785.5,416 L786.6,417 L787,418 L786.6,419 L785.5,420 L784.4,421 L784,422 L784.4,423 L785.5,424 L786.6,425 L787,426 L786.6,427 L785.5,428 L784.4,429 L784,430 L784.4,431 L785.5,432 L786.6,433 L787,434 L786.6,435 L785.5,436 L784.4,437 L784,438 L784.4,439 L785.5,440 L786.6,441 L787,442 L786.6,443 L785.5,444 L784.4,445 L784,446 L784.4,447 L785.5,448 L786.6,449 L787,450 L786.6,451 L785.5,452 L784.4,453 L784,454 L784.4,455 L785.5,456 L786.6,457 L787,458 L786.6,459 L785.5,460 L784.4,461 L784,462 L784.4,463 L785.5,464 L786.6,465 L787,466 L786.6,467 L785.5,468 L784.4,469 L784,470 L784.4,471 L785.5,472 L786.6,473 L787,474 L786.6,475 L785.5,476 L784.4,477 L784,478 L784.4,479 L785.5,480 L786.6,481 L787,482 L786.6,483 L785.5,484 L784.4,485 L784,486 L784.4,487 L785.5,488 L786.6,489 L787,490 L786.6,491 L785.5,492 L784.4,493 L784,494 L784.4,495 L785.5,496 L786.6,497 L787,498 L786.6,499 L785.5,500 L784.4,501 L784,502 L784.4,503 L785.5,504 L786.6,505 L787,506 L786.6,507 L785.5,508 L784.4,509 L784,510 L784.4,511 L785.5,512 L786.6,513 L787,514 L786.6,515 L785.5,516 L784.4,517 L784,518 L784.4,519 L785.5,520 L786.6,521 L787,522 L786.6,523 L785.5,524 L784.4,525 L784,526 L784.4,527 L785.5,528 L786.6,529 L787,530 L786.6,531 L785.5,532 L784.4,533 L784,534 L784.4,535 L785.5,536 L786.6,537 L787,538 L786.6,539 L785.5,540 L784.4,541 L784,542 L784.4,543 L785.5,544 L786.6,545 L787,546 L786.6,547 L785.5,548 L784.4,549 L784,550 L784.4,551 L785.5,552 L786.6,553 L787,554 L786.6,555 L785.5,556 L784.4,557 L784,558 L784.4,559 L785.5,560 L786.6,561 L787,562 L786.6,563 L785.5,564 L784.4,565 L784,566 L784.4,567 L785.5,568 L786.6,569 L787,570 L786.6,571 L785.5,572 L784.4,573 L784,574 L784.4,575 L785.5,576 L786.6,577 L787,578 L786.6,579 L785.5,580 L784.4,581 L784,582 L784.4,583 L785.5,584 L786.6,585 L787,586 L786.6,587 L785.5,588 L784.4,589 L784,590 L784.4,591 L785.5,592 L786.6,593 L787,594 L786.6,595 L785.5,596 L784.4,597 L784,598 L784.4,599 L785.5,600 L786.6,601 L787,602 L786.6,603 M785.9,350 L786.3,351 L787.4,352 L788.5,353 L788.9,354 L788.5,355 L787.4,356 L786.3,357 L785.9,358 L786.3,359 L787.4,360 L788.5,361 L788.9,362 L788.5,363 L787.4,364 L786.3,365 L785.9,366 L786.3,367 L787.4,368 L788.5,369 L788.9,370 L788.5,371 L787.4,372 L786.3,373 L785.9,374 L786.3,375 L787.4,376 L788.5,377 L788.9,378 L788.5,379 L787.4,380 L786.3,381 L785.9,382 L786.3,383 L787.4,384 L788.5,385 L788.9,386 L788.5,387 L787.4,388 L786.3,389 L785.9,390 L786.3,391 L787.4,392 L788.5,393 L788.9,394 L788.5,395 L787.4,396 L786.3,397 L785.9,398 L786.3,399 L787.4,400 L788.5,401 L788.9,402 L788.5,403 L787.4,404 L786.3,405 L785.9,406 L786.3,407 L787.4,408 L788.5,409 L788.9,410 L788.5,411 L787.4,412 L786.3,413 L785.9,414 L786.3,415 L787.4,416 L788.5,417 L788.9,418 L788.5,419 L787.4,420 L786.3,421 L785.9,422 L786.3,423 L787.4,424 L788.5,425 L788.9,426 L788.5,427 L787.4,428 L786.3,429 L785.9,430 L786.3,431 L787.4,432 L788.5,433 L788.9,434 L788.5,435 L787.4,436 L786.3,437 L785.9,438 L786.3,439 L787.4,440 L788.5,441 L788.9,442 L788.5,443 L787.4,444 L786.3,445 L785.9,446 L786.3,447 L787.4,448 L788.5,449 L788.9,450 L788.5,451 L787.4,452 L786.3,453 L785.9,454 L786.3,455 L787.4,456 L788.5,457 L788.9,458 L788.5,459 L787.4,460 L786.3,461 L785.9,462 L786.3,463 L787.4,464 L788.5,465 L788.9,466 L788.5,467 L787.4,468 L786.3,469 L785.9,470 L786.3,471 L787.4,472 L788.5,473 L788.9,474 L788.5,475 L787.4,476 L786.3,477 L785.9,478 L786.3,479 L787.4,480 L788.5,481 L788.9,482 L788.5,483 L787.4,484 L786.3,485 L785.9,486 L786.3,487 L787.4,488 L788.5,489 L788.9,490 L788.5,491 L787.4,492 L786.3,493 L785.9,494 L786.3,495 L787.4,496 L788.5,497 L788.9,498 L788.5,499 L787.4,500 L786.3,501 L785.9,502 L786.3,503 L787.4,504 L788.5,505 L788.9,506 L788.5,507 L787.4,508 L786.3,509 L785.9,510 L786.3,511 L787.4,512 L788.5,513 L788.9,514 L788.5,515 L787.4,516 L786.3,517 L785.9,518 L786.3,519 L787.4,520 L788.5,521 L788.9,522 L788.5,523 L787.4,524 L786.3,525 L785.9,526 L786.3,527 L787.4,528 L788.5,529 L788.9,530 L788.5,531 L787.4,532 L786.3,533 L785.9,534 L786.3,535 L787.4,536 L788.5,537 L788.9,538 L788.5,539 L787.4,540 L786.3,541 L785.9,542 L786.3,543 L787.4,544 L788.5,545 L788.9,546 L788.5,547 L787.4,548 L786.3,549 L785.9,550 L786.3,551 L787.4,552 L788.5,553 L788.9,554 L788.5,555 L787.4,556 L786.3,557 L785.9,558 L786.3,559 L787.4,560 L788.5,561 L788.9,562 L788.5,563 L787.4,564 L786.3,565 L785.9,566 L786.3,567 L787.4,568 L788.5,569 L788.9,570 L788.5,571 L787.4,572 L786.3,573 L785.9,574 L786.3,575 L787.4,576 L788.5,577 L788.9,578 L788.5,579 L787.4,580 L786.3,581 L785.9,582 L786.3,583 L787.4,584 L788.5,585 L788.9,586 L788.5,587 L787.4,588 L786.3,589 L785.9,590 L786.3,591 L787.4,592 L788.5,593 L788.9,594 L788.5,595 L787.4,596 L786.3,597 L785.9,598 L786.3,599 L787.4,600 L788.5,601 L788.9,602 L788.5,603 M787.8,350 L788.2,351 L789.3,352 L790.4,353 L790.8,354 L790.4,355 L789.3,356 L788.2,357 L787.8,358 L788.2,359 L789.3,360 L790.4,361 L790.8,362 L790.4,363 L789.3,364 L788.2,365 L787.8,366 L788.2,367 L789.3,368 L790.4,369 L790.8,370 L790.4,371 L789.3,372 L788.2,373 L787.8,374 L788.2,375 L789.3,376 L790.4,377 L790.8,378 L790.4,379 L789.3,380 L788.2,381 L787.8,382 L788.2,383 L789.3,384 L790.4,385 L790.8,386 L790.4,387 L789.3,388 L788.2,389 L787.8,390 L788.2,391 L789.3,392 L790.4,393 L790.8,394 L790.4,395 L789.3,396 L788.2,397 L787.8,398 L788.2,399 L789.3,400 L790.4,401 L790.8,402 L790.4,403 L789.3,404 L788.2,405 L787.8,406 L788.2,407 L789.3,408 L790.4,409 L790.8,410 L790.4,411 L789.3,412 L788.2,413 L787.8,414 L788.2,415 L789.3,416 L790.4,417 L790.8,418 L790.4,419 L789.3,420 L788.2,421 L787.8,422 L788.2,423 L789.3,424 L790.4,425 L790.8,426 L790.4,427 L789.3,428 L788.2,429 L787.8,430 L788.2,431 L789.3,432 L790.4,433 L790.8,434 L790.4,435 L789.3,436 L788.2,437 L787.8,438 L788.2,439 L789.3,440 L790.4,441 L790.8,442 L790.4,443 L789.3,444 L788.2,445 L787.8,446 L788.2,447 L789.3,448 L790.4,449 L790.8,450 L790.4,451 L789.3,452 L788.2,453 L787.8,454 L788.2,455 L789.3,456 L790.4,457 L790.8,458 L790.4,459 L789.3,460 L788.2,461 L787.8,462 L788.2,463 L789.3,464 L790.4,465 L790.8,466 L790.4,467 L789.3,468 L788.2,469 L787.8,470 L788.2,471 L789.3,472 L790.4,473 L790.8,474 L790.4,475 L789.3,476 L788.2,477 L787.8,478 L788.2,479 L789.3,480 L790.4,481 L790.8,482 L790.4,483 L789.3,484 L788.2,485 L787.8,486 L788.2,487 L789.3,488 L790.4,489 L790.8,490 L790.4,491 L789.3,492 L788.2,493 L787.8,494 L788.2,495 L789.3,496 L790.4,497 L790.8,498 L790.4,499 L789.3,500 L788.2,501 L787.8,502 L788.2,503 L789.3,504 L790.4,505 L790.8,506 L790.4,507 L789.3,508 L788.2,509 L787.8,510 L788.2,511 L789.3,512 L790.4,513 L790.8,514 L790.4,515 L789.3,516 L788.2,517 L787.8,518 L788.2,519 L789.3,520 L790.4,521 L790.8,522 L790.4,523 L789.3,524 L788.2,525 L787.8,526 L788.2,527 L789.3,528 L790.4,529 L790.8,530 L790.4,531 L789.3,532 L788.2,533 L787.8,534 L788.2,535 L789.3,536 L790.4,537 L790.8,538 L790.4,539 L789.3,540 L788.2,541 L787.8,542 L788.2,543 L789.3,544 L790.4,545 L790.8,546 L790.4,547 L789.3,548 L788.2,549 L787.8,550 L788.2,551 L789.3,552 L790.4,553 L790.8,554 L790.4,555 L789.3,556 L788.2,557 L787.8,558 L788.2,559 L789.3,560 L790.4,561 L790.8,562 L790.4,563 L789.3,564 L788.2,565 L787.8,566 L788.2,567 L789.3,568 L790.4,569 L790.8,570 L790.4,571 L789.3,572 L788.2,573 L787.8,574 L788.2,575 L789.3,576 L790.4,577 L790.8,578 L790.4,579 L789.3,580 L788.2,581 L787.8,582 L788.2,583 L789.3,584 L790.4,585 L790.8,586 L790.4,587 L789.3,588 L788.2,589 L787.8,590 L788.2,591 L789.3,592 L790.4,593 L790.8,594 L790.4,595 L789.3,596 L788.2,597 L787.8,598 L788.2,599 L789.3,600 L790.4,601 L790.8,602 L790.4,603 M789.7,350 L790.1,351 L791.2,352 L792.3,353 L792.7,354 L792.3,355 L791.2,356 L790.1,357 L789.7,358 L790.1,359 L791.2,360 L792.3,361 L792.7,362 L792.3,363 L791.2,364 L790.1,365 L789.7,366 L790.1,367 L791.2,368 L792.3,369 L792.7,370 L792.3,371 L791.2,372 L790.1,373 L789.7,374 L790.1,375 L791.2,376 L792.3,377 L792.7,378 L792.3,379 L791.2,380 L790.1,381 L789.7,382 L790.1,383 L791.2,384 L792.3,385 L792.7,386 L792.3,387 L791.2,388 L790.1,389 L789.7,390 L790.1,391 L791.2,392 L792.3,393 L792.7,394 L792.3,395 L791.2,396 L790.1,397 L789.7,398 L790.1,399 L791.2,400 L792.3,401 L792.7,402 L792.3,403 L791.2,404 L790.1,405 L789.7,406 L790.1,407 L791.2,408 L792.3,409 L792.7,410 L792.3,411 L791.2,412 L790.1,413 L789.7,414 L790.1,415 L791.2,416 L792.3,417 L792.7,418 L792.3,419 L791.2,420 L790.1,421 L789.7,422 L790.1,423 L791.2,424 L792.3,425 L792.7,426 L792.3,427 L791.2,428 L790.1,429 L789.7,430 L790.1,431 L791.2,432 L792.3,433 L792.7,434 L792.3,435 L791.2,436 L790.1,437 L789.7,438 L790.1,439 L791.2,440 L792.3,441 L792.7,442 L792.3,443 L791.2,444 L790.1,445 L789.7,446 L790.1,447 L791.2,448 L792.3,449 L792.7,450 L792.3,451 L791.2,452 L790.1,453 L789.7,454 L790.1,455 L791.2,456 L792.3,457 L792.7,458 L792.3,459 L791.2,460 L790.1,461 L789.7,462 L790.1,463 L791.2,464 L792.3,465 L792.7,466 L792.3,467 L791.2,468 L790.1,469 L789.7,470 L790.1,471 L791.2,472 L792.3,473 L792.7,474 L792.3,475 L791.2,476 L790.1,477 L789.7,478 L790.1,479 L791.2,480 L792.3,481 L792.7,482 L792.3,483 L791.2,484 L790.1,485 L789.7,486 L790.1,487 L791.2,488 L792.3,489 L792.7,490 L792.3,491 L791.2,492 L790.1,493 L789.7,494 L790.1,495 L791.2,496 L792.3,497 L792.7,498 L792.3,499 L791.2,500 L790.1,501 L789.7,502 L790.1,503 L791.2,504 L792.3,505 L792.7,506 L792.3,507 L791.2,508 L790.1,509 L789.7,510 L790.1,511 L791.2,512 L792.3,513 L792.7,514 L792.3,515 L791.2,516 L790.1,517 L789.7,518 L790.1,519 L791.2,520 L792.3,521 L792.7,522 L792.3,523 L791.2,524 L790.1,525 L789.7,526 L790.1,527 L791.2,528 L792.3,529 L792.7,530 L792.3,531 L791.2,532 L790.1,533 L789.7,534 L790.1,535 L791.2,536 L792.3,537 L792.7,538 L792.3,539 L791.2,540 L790.1,541 L789.7,542 L790.1,543 L791.2,544 L792.3,545 L792.7,546 L792.3,547 L791.2,548 L790.1,549 L789.7,550 L790.1,551 L791.2,552 L792.3,553 L792.7,554 L792.3,555 L791.2,556 L790.1,557 L789.7,558 L790.1,559 L791.2,560 L792.3,561 L792.7,562 L792.3,563 L791.2,564 L790.1,565 L789.7,566 L790.1,567 L791.2,568 L792.3,569 L792.7,570 L792.3,571 L791.2,572 L790.1,573 L789.7,574 L790.1,575 L791.2,576 L792.3,577 L792.7,578 L792.3,579 L791.2,580 L790.1,581 L789.7,582 L790.1,583 L791.2,584 L792.3,585 L792.7,586 L792.3,587 L791.2,588 L790.1,589 L789.7,590 L790.1,591 L791.2,592 L792.3,593 L792.7,594 L792.3,595 L791.2,596 L790.1,597 L789.7,598 L790.1,599 L791.2,600 L792.3,601 L792.7,602 L792.3,603 M791.6,350 L792,351 L793.1,352 L794.2,353 L794.6,354 L794.2,355 L793.1,356 L792,357 L791.6,358 L792,359 L793.1,360 L794.2,361 L794.6,362 L794.2,363 L793.1,364 L792,365 L791.6,366 L792,367 L793.1,368 L794.2,369 L794.6,370 L794.2,371 L793.1,372 L792,373 L791.6,374 L792,375 L793.1,376 L794.2,377 L794.6,378 L794.2,379 L793.1,380 L792,381 L791.6,382 L792,383 L793.1,384 L794.2,385 L794.6,386 L794.2,387 L793.1,388 L792,389 L791.6,390 L792,391 L793.1,392 L794.2,393 L794.6,394 L794.2,395 L793.1,396 L792,397 L791.6,398 L792,399 L793.1,400 L794.2,401 L794.6,402 L794.2,403 L793.1,404 L792,405 L791.6,406 L792,407 L793.1,408 L794.2,409 L794.6,410 L794.2,411 L793.1,412 L792,413 L791.6,414 L792,415 L793.1,416 L794.2,417 L794.6,418 L794.2,419 L793.1,420 L792,421 L791.6,422 L792,423 L793.1,424 L794.2,425 L794.6,426 L794.2,427 L793.1,428 L792,429 L791.6,430 L792,431 L793.1,432 L794.2,433 L794.6,434 L794.2,435 L793.1,436 L792,437 L791.6,438 L792,439 L793.1,440 L794.2,441 L794.6,442 L794.2,443 L793.1,444 L792,445 L791.6,446 L792,447 L793.1,448 L794.2,449 L794.6,450 L794.2,451 L793.1,452 L792,453 L791.6,454 L792,455 L793.1,456 L794.2,457 L794.6,458 L794.2,459 L793.1,460 L792,461 L791.6,462 L792,463 L793.1,464 L794.2,465 L794.6,466 L794.2,467 L793.1,468 L792,469 L791.6,470 L792,471 L793.1,472 L794.2,473 L794.6,474 L794.2,475 L793.1,476 L792,477 L791.6,478 L792,479 L793.1,480 L794.2,481 L794.6,482 L794.2,483 L793.1,484 L792,485 L791.6,486 L792,487 L793.1,488 L794.2,489 L794.6,490 L794.2,491 L793.1,492 L792,493 L791.6,494 L792,495 L793.1,496 L794.2,497 L794.6,498 L794.2,499 L793.1,500 L792,501 L791.6,502 L792,503 L793.1,504 L794.2,505 L794.6,506 L794.2,507 L793.1,508 L792,509 L791.6,510 L792,511 L793.1,512 L794.2,513 L794.6,514 L794.2,515 L793.1,516 L792,517 L791.6,518 L792,519 L793.1,520 L794.2,521 L794.6,522 L794.2,523 L793.1,524 L792,525 L791.6,526 L792,527 L793.1,528 L794.2,529 L794.6,530 L794.2,531 L793.1,532 L792,533 L791.6,534 L792,535 L793.1,536 L794.2,537 L794.6,538 L794.2,539 L793.1,540 L792,541 L791.6,542 L792,543 L793.1,544 L794.2,545 L794.6,546 L794.2,547 L793.1,548 L792,549 L791.6,550 L792,551 L793.1,552 L794.2,553 L794.6,554 L794.2,555 L793.1,556 L792,557 L791.6,558 L792,559 L793.1,560 L794.2,561 L794.6,562 L794.2,563 L793.1,564 L792,565 L791.6,566 L792,567 L793.1,568 L794.2,569 L794.6,570 L794.2,571 L793.1,572 L792,573 L791.6,574 L792,575 L793.1,576 L794.2,577 L794.6,578 L794.2,579 L793.1,580 L792,581 L791.6,582 L792,583 L793.1,584 L794.2,585 L794.6,586 L794.2,587 L793.1,588 L792,589 L791.6,590 L792,591 L793.1,592 L794.2,593 L794.6,594 L794.2,595 L793.1,596 L792,597 L791.6,598 L792,599 L793.1,600 L794.2,601 L794.6,602 L794.2,603 M793.5,350 L793.9,351 L795,352 L796.1,353 L796.5,354 L796.1,355 L795,356 L793.9,357 L793.5,358 L793.9,359 L795,360 L796.1,361 L796.5,362 L796.1,363 L795,364 L793.9,365 L793.5,366 L793.9,367 L795,368 L796.1,369 L796.5,370 L796.1,371 L795,372 L793.9,373 L793.5,374 L793.9,375 L795,376 L796.1,377 L796.5,378 L796.1,379 L795,380 L793.9,381 L793.5,382 L793.9,383 L795,384 L796.1,385 L796.5,386 L796.1,387 L795,388 L793.9,389 L793.5,390 L793.9,391 L795,392 L796.1,393 L796.5,394 L796.1,395 L795,396 L793.9,397 L793.5,398 L793.9,399 L795,400 L796.1,401 L796.5,402 L796.1,403 L795,404 L793.9,405 L793.5,406 L793.9,407 L795,408 L796.1,409 L796.5,410 L796.1,411 L795,412 L793.9,413 L793.5,414 L793.9,415 L795,416 L796.1,417 L796.5,418 L796.1,419 L795,420 L793.9,421 L793.5,422 L793.9,423 L795,424 L796.1,425 L796.5,426 L796.1,427 L795,428 L793.9,429 L793.5,430 L793.9,431 L795,432 L796.1,433 L796.5,434 L796.1,435 L795,436 L793.9,437 L793.5,438 L793.9,439 L795,440 L796.1,441 L796.5,442 L796.1,443 L795,444 L793.9,445 L793.5,446 L793.9,447 L795,448 L796.1,449 L796.5,450 L796.1,451 L795,452 L793.9,453 L793.5,454 L793.9,455 L795,456 L796.1,457 L796.5,458 L796.1,459 L795,460 L793.9,461 L793.5,462 L793.9,463 L795,464 L796.1,465 L796.5,466 L796.1,467 L795,468 L793.9,469 L793.5,470 L793.9,471 L795,472 L796.1,473 L796.5,474 L796.1,475 L795,476 L793.9,477 L793.5,478 L793.9,479 L795,480 L796.1,481 L796.5,482 L796.1,483 L795,484 L793.9,485 L793.5,486 L793.9,487 L795,488 L796.1,489 L796.5,490 L796.1,491 L795,492 L793.9,493 L793.5,494 L793.9,495 L795,496 L796.1,497 L796.5,498 L796.1,499 L795,500 L793.9,501 L793.5,502 L793.9,503 L795,504 L796.1,505 L796.5,506 L796.1,507 L795,508 L793.9,509 L793.5,510 L793.9,511 L795,512 L796.1,513 L796.5,514 L796.1,515 L795,516 L793.9,517 L793.5,518 L793.9,519 L795,520 L796.1,521 L796.5,522 L796.1,523 L795,524 L793.9,525 L793.5,526 L793.9,527 L795,528 L796.1,529 L796.5,530 L796.1,531 L795,532 L793.9,533 L793.5,534 L793.9,535 L795,536 L796.1,537 L796.5,538 L796.1,539 L795,540 L793.9,541 L793.5,542 L793.9,543 L795,544 L796.1,545 L796.5,546 L796.1,547 L795,548 L793.9,549 L793.5,550 L793.9,551 L795,552 L796.1,553 L796.5,554 L796.1,555 L795,556 L793.9,557 L793.5,558 L793.9,559 L795,560 L796.1,561 L796.5,562 L796.1,563 L795,564 L793.9,565 L793.5,566 L793.9,567 L795,568 L796.1,569 L796.5,570 L796.1,571 L795,572 L793.9,573 L793.5,574 L793.9,575 L795,576 L796.1,577 L796.5,578 L796.1,579 L795,580 L793.9,581 L793.5,582 L793.9,583 L795,584 L796.1,585 L796.5,586 L796.1,587 L795,588 L793.9,589 L793.5,590 L793.9,591 L795,592 L796.1,593 L796.5,594 L796.1,595 L795,596 L793.9,597 L793.5,598 L793.9,599 L795,600 L796.1,601 L796.5,602 L796.1,603 M795.4,350 L795.8,351 L796.9,352 L798,353 L798.4,354 L798,355 L796.9,356 L795.8,357 L795.4,358 L795.8,359 L796.9,360 L798,361 L798.4,362 L798,363 L796.9,364 L795.8,365 L795.4,366 L795.8,367 L796.9,368 L798,369 L798.4,370 L798,371 L796.9,372 L795.8,373 L795.4,374 L795.8,375 L796.9,376 L798,377 L798.4,378 L798,379 L796.9,380 L795.8,381 L795.4,382 L795.8,383 L796.9,384 L798,385 L798.4,386 L798,387 L796.9,388 L795.8,389 L795.4,390 L795.8,391 L796.9,392 L798,393 L798.4,394 L798,395 L796.9,396 L795.8,397 L795.4,398 L795.8,399 L796.9,400 L798,401 L798.4,402 L798,403 L796.9,404 L795.8,405 L795.4,406 L795.8,407 L796.9,408 L798,409 L798.4,410 L798,411 L796.9,412 L795.8,413 L795.4,414 L795.8,415 L796.9,416 L798,417 L798.4,418 L798,419 L796.9,420 L795.8,421 L795.4,422 L795.8,423 L796.9,424 L798,425 L798.4,426 L798,427 L796.9,428 L795.8,429 L795.4,430 L795.8,431 L796.9,432 L798,433 L798.4,434 L798,435 L796.9,436 L795.8,437 L795.4,438 L795.8,439 L796.9,440 L798,441 L798.4,442 L798,443 L796.9,444 L795.8,445 L795.4,446 L795.8,447 L796.9,448 L798,449 L798.4,450 L798,451 L796.9,452 L795.8,453 L795.4,454 L795.8,455 L796.9,456 L798,457 L798.4,458 L798,459 L796.9,460 L795.8,461 L795.4,462 L795.8,463 L796.9,464 L798,465 L798.4,466 L798,467 L796.9,468 L795.8,469 L795.4,470 L795.8,471 L796.9,472 L798,473 L798.4,474 L798,475 L796.9,476 L795.8,477 L795.4,478 L795.8,479 L796.9,480 L798,481 L798.4,482 L798,483 L796.9,484 L795.8,485 L795.4,486 L795.8,487 L796.9,488 L798,489 L798.4,490 L798,491 L796.9,492 L795.8,493 L795.4,494 L795.8,495 L796.9,496 L798,497 L798.4,498 L798,499 L796.9,500 L795.8,501 L795.4,502 L795.8,503 L796.9,504 L798,505 L798.4,506 L798,507 L796.9,508 L795.8,509 L795.4,510 L795.8,511 L796.9,512 L798,513 L798.4,514 L798,515 L796.9,516 L795.8,517 L795.4,518 L795.8,519 L796.9,520 L798,521 L798.4,522 L798,523 L796.9,524 L795.8,525 L795.4,526 L795.8,527 L796.9,528 L798,529 L798.4,530 L798,531 L796.9,532 L795.8,533 L795.4,534 L795.8,535 L796.9,536 L798,537 L798.4,538 L798,539 L796.9,540 L795.8,541 L795.4,542 L795.8,543 L796.9,544 L798,545 L798.4,546 L798,547 L796.9,548 L795.8,549 L795.4,550 L795.8,551 L796.9,552 L798,553 L798.4,554 L798,555 L796.9,556 L795.8,557 L795.4,558 L795.8,559 L796.9,560 L798,561 L798.4,562 L798,563 L796.9,564 L795.8,565 L795.4,566 L795.8,567 L796.9,568 L798,569 L798.4,570 L798,571 L796.9,572 L795.8,573 L795.4,574 L795.8,575 L796.9,576 L798,577 L798.4,578 L798,579 L796.9,580 L795.8,581 L795.4,582 L795.8,583 L796.9,584 L798,585 L798.4,586 L798,587 L796.9,588 L795.8,589 L795.4,590 L795.8,591 L796.9,592 L798,593 L798.4,594 L798,595 L796.9,596 L795.8,597 L795.4,598 L795.8,599 L796.9,600 L798,601 L798.4,602 L798,603 M797.3,350 L797.7,351 L798.8,352 L799.9,353 L800.3,354 L799.9,355 L798.8,356 L797.7,357 L797.3,358 L797.7,359 L798.8,360 L799.9,361 L800.3,362 L799.9,363 L798.8,364 L797.7,365 L797.3,366 L797.7,367 L798.8,368 L799.9,369 L800.3,370 L799.9,371 L798.8,372 L797.7,373 L797.3,374 L797.7,375 L798.8,376 L799.9,377 L800.3,378 L799.9,379 L798.8,380 L797.7,381 L797.3,382 L797.7,383 L798.8,384 L799.9,385 L800.3,386 L799.9,387 L798.8,388 L797.7,389 L797.3,390 L797.7,391 L798.8,392 L799.9,393 L800.3,394 L799.9,395 L798.8,396 L797.7,397 L797.3,398 L797.7,399 L798.8,400 L799.9,401 L800.3,402 L799.9,403 L798.8,404 L797.7,405 L797.3,406 L797.7,407 L798.8,408 L799.9,409 L800.3,410 L799.9,411 L798.8,412 L797.7,413 L797.3,414 L797.7,415 L798.8,416 L799.9,417 L800.3,418 L799.9,419 L798.8,420 L797.7,421 L797.3,422 L797.7,423 L798.8,424 L799.9,425 L800.3,426 L799.9,427 L798.8,428 L797.7,429 L797.3,430 L797.7,431 L798.8,432 L799.9,433 L800.3,434 L799.9,435 L798.8,436 L797.7,437 L797.3,438 L797.7,439 L798.8,440 L799.9,441 L800.3,442 L799.9,443 L798.8,444 L797.7,445 L797.3,446 L797.7,447 L798.8,448 L799.9,449 L800.3,450 L799.9,451 L798.8,452 L797.7,453 L797.3,454 L797.7,455 L798.8,456 L799.9,457 L800.3,458 L799.9,459 L798.8,460 L797.7,461 L797.3,462 L797.7,463 L798.8,464 L799.9,465 L800.3,466 L799.9,467 L798.8,468 L797.7,469 L797.3,470 L797.7,471 L798.8,472 L799.9,473 L800.3,474 L799.9,475 L798.8,476 L797.7,477 L797.3,478 L797.7,479 L798.8,480 L799.9,481 L800.3,482 L799.9,483 L798.8,484 L797.7,485 L797.3,486 L797.7,487 L798.8,488 L799.9,489 L800.3,490 L799.9,491 L798.8,492 L797.7,493 L797.3,494 L797.7,495 L798.8,496 L799.9,497 L800.3,498 L799.9,499 L798.8,500 L797.7,501 L797.3,502 L797.7,503 L798.8,504 L799.9,505 L800.3,506 L799.9,507 L798.8,508 L797.7,509 L797.3,510 L797.7,511 L798.8,512 L799.9,513 L800.3,514 L799.9,515 L798.8,516 L797.7,517 L797.3,518 L797.7,519 L798.8,520 L799.9,521 L800.3,522 L799.9,523 L798.8,524 L797.7,525 L797.3,526 L797.7,527 L798.8,528 L799.9,529 L800.3,530 L799.9,531 L798.8,532 L797.7,533 L797.3,534 L797.7,535 L798.8,536 L799.9,537 L800.3,538 L799.9,539 L798.8,540 L797.7,541 L797.3,542 L797.7,543 L798.8,544 L799.9,545 L800.3,546 L799.9,547 L798.8,548 L797.7,549 L797.3,550 L797.7,551 L798.8,552 L799.9,553 L800.3,554 L799.9,555 L798.8,556 L797.7,557 L797.3,558 L797.7,559 L798.8,560 L799.9,561 L800.3,562 L799.9,563 L798.8,564 L797.7,565 L797.3,566 L797.7,567 L798.8,568 L799.9,569 L800.3,570 L799.9,571 L798.8,572 L797.7,573 L797.3,574 L797.7,575 L798.8,576 L799.9,577 L800.3,578 L799.9,579 L798.8,580 L797.7,581 L797.3,582 L797.7,583 L798.8,584 L799.9,585 L800.3,586 L799.9,587 L798.8,588 L797.7,589 L797.3,590 L797.7,591 L798.8,592 L799.9,593 L800.3,594 L799.9,595 L798.8,596 L797.7,597 L797.3,598 L797.7,599 L798.8,600 L799.9,601 L800.3,602 L799.9,603 M799.2,350 L799.6,351 L800.7,352 L801.8,353 L802.2,354 L801.8,355 L800.7,356 L799.6,357 L799.2,358 L799.6,359 L800.7,360 L801.8,361 L802.2,362 L801.8,363 L800.7,364 L799.6,365 L799.2,366 L799.6,367 L800.7,368 L801.8,369 L802.2,370 L801.8,371 L800.7,372 L799.6,373 L799.2,374 L799.6,375 L800.7,376 L801.8,377 L802.2,378 L801.8,379 L800.7,380 L799.6,381 L799.2,382 L799.6,383 L800.7,384 L801.8,385 L802.2,386 L801.8,387 L800.7,388 L799.6,389 L799.2,390 L799.6,391 L800.7,392 L801.8,393 L802.2,394 L801.8,395 L800.7,396 L799.6,397 L799.2,398 L799.6,399 L800.7,400 L801.8,401 L802.2,402 L801.8,403 L800.7,404 L799.6,405 L799.2,406 L799.6,407 L800.7,408 L801.8,409 L802.2,410 L801.8,411 L800.7,412 L799.6,413 L799.2,414 L799.6,415 L800.7,416 L801.8,417 L802.2,418 L801.8,419 L800.7,420 L799.6,421 L799.2,422 L799.6,423 L800.7,424 L801.8,425 L802.2,426 L801.8,427 L800.7,428 L799.6,429 L799.2,430 L799.6,431 L800.7,432 L801.8,433 L802.2,434 L801.8,435 L800.7,436 L799.6,437 L799.2,438 L799.6,439 L800.7,440 L801.8,441 L802.2,442 L801.8,443 L800.7,444 L799.6,445 L799.2,446 L799.6,447 L800.7,448 L801.8,449 L802.2,450 L801.8,451 L800.7,452 L799.6,453 L799.2,454 L799.6,455 L800.7,456 L801.8,457 L802.2,458 L801.8,459 L800.7,460 L799.6,461 L799.2,462 L799.6,463 L800.7,464 L801.8,465 L802.2,466 L801.8,467 L800.7,468 L799.6,469 L799.2,470 L799.6,471 L800.7,472 L801.8,473 L802.2,474 L801.8,475 L800.7,476 L799.6,477 L799.2,478 L799.6,479 L800.7,480 L801.8,481 L802.2,482 L801.8,483 L800.7,484 L799.6,485 L799.2,486 L799.6,487 L800.7,488 L801.8,489 L802.2,490 L801.8,491 L800.7,492 L799.6,493 L799.2,494 L799.6,495 L800.7,496 L801.8,497 L802.2,498 L801.8,499 L800.7,500 L799.6,501 L799.2,502 L799.6,503 L800.7,504 L801.8,505 L802.2,506 L801.8,507 L800.7,508 L799.6,509 L799.2,510 L799.6,511 L800.7,512 L801.8,513 L802.2,514 L801.8,515 L800.7,516 L799.6,517 L799.2,518 L799.6,519 L800.7,520 L801.8,521 L802.2,522 L801.8,523 L800.7,524 L799.6,525 L799.2,526 L799.6,527 L800.7,528 L801.8,529 L802.2,530 L801.8,531 L800.7,532 L799.6,533 L799.2,534 L799.6,535 L800.7,536 L801.8,537 L802.2,538 L801.8,539 L800.7,540 L799.6,541 L799.2,542 L799.6,543 L800.7,544 L801.8,545 L802.2,546 L801.8,547 L800.7,548 L799.6,549 L799.2,550 L799.6,551 L800.7,552 L801.8,553 L802.2,554 L801.8,555 L800.7,556 L799.6,557 L799.2,558 L799.6,559 L800.7,560 L801.8,561 L802.2,562 L801.8,563 L800.7,564 L799.6,565 L799.2,566 L799.6,567 L800.7,568 L801.8,569 L802.2,570 L801.8,571 L800.7,572 L799.6,573 L799.2,574 L799.6,575 L800.7,576 L801.8,577 L802.2,578 L801.8,579 L800.7,580 L799.6,581 L799.2,582 L799.6,583 L800.7,584 L801.8,585 L802.2,586 L801.8,587 L800.7,588 L799.6,589 L799.2,590 L799.6,591 L800.7,592 L801.8,593 L802.2,594 L801.8,595 L800.7,596 L799.6,597 L799.2,598 L799.6,599 L800.7,600 L801.8,601 L802.2,602 L801.8,603 M801.1,350 L801.5,351 L802.6,352 L803.7,353 L804.1,354 L803.7,355 L802.6,356 L801.5,357 L801.1,358 L801.5,359 L802.6,360 L803.7,361 L804.1,362 L803.7,363 L802.6,364 L801.5,365 L801.1,366 L801.5,367 L802.6,368 L803.7,369 L804.1,370 L803.7,371 L802.6,372 L801.5,373 L801.1,374 L801.5,375 L802.6,376 L803.7,377 L804.1,378 L803.7,379 L802.6,380 L801.5,381 L801.1,382 L801.5,383 L802.6,384 L803.7,385 L804.1,386 L803.7,387 L802.6,388 L801.5,389 L801.1,390 L801.5,391 L802.6,392 L803.7,393 L804.1,394 L803.7,395 L802.6,396 L801.5,397 L801.1,398 L801.5,399 L802.6,400 L803.7,401 L804.1,402 L803.7,403 L802.6,404 L801.5,405 L801.1,406 L801.5,407 L802.6,408 L803.7,409 L804.1,410 L803.7,411 L802.6,412 L801.5,413 L801.1,414 L801.5,415 L802.6,416 L803.7,417 L804.1,418 L803.7,419 L802.6,420 L801.5,421 L801.1,422 L801.5,423 L802.6,424 L803.7,425 L804.1,426 L803.7,427 L802.6,428 L801.5,429 L801.1,430 L801.5,431 L802.6,432 L803.7,433 L804.1,434 L803.7,435 L802.6,436 L801.5,437 L801.1,438 L801.5,439 L802.6,440 L803.7,441 L804.1,442 L803.7,443 L802.6,444 L801.5,445 L801.1,446 L801.5,447 L802.6,448 L803.7,449 L804.1,450 L803.7,451 L802.6,452 L801.5,453 L801.1,454 L801.5,455 L802.6,456 L803.7,457 L804.1,458 L803.7,459 L802.6,460 L801.5,461 L801.1,462 L801.5,463 L802.6,464 L803.7,465 L804.1,466 L803.7,467 L802.6,468 L801.5,469 L801.1,470 L801.5,471 L802.6,472 L803.7,473 L804.1,474 L803.7,475 L802.6,476 L801.5,477 L801.1,478 L801.5,479 L802.6,480 L803.7,481 L804.1,482 L803.7,483 L802.6,484 L801.5,485 L801.1,486 L801.5,487 L802.6,488 L803.7,489 L804.1,490 L803.7,491 L802.6,492 L801.5,493 L801.1,494 L801.5,495 L802.6,496 L803.7,497 L804.1,498 L803.7,499 L802.6,500 L801.5,501 L801.1,502 L801.5,503 L802.6,504 L803.7,505 L804.1,506 L803.7,507 L802.6,508 L801.5,509 L801.1,510 L801.5,511 L802.6,512 L803.7,513 L804.1,514 L803.7,515 L802.6,516 L801.5,517 L801.1,518 L801.5,519 L802.6,520 L803.7,521 L804.1,522 L803.7,523 L802.6,524 L801.5,525 L801.1,526 L801.5,527 L802.6,528 L803.7,529 L804.1,530 L803.7,531 L802.6,532 L801.5,533 L801.1,534 L801.5,535 L802.6,536 L803.7,537 L804.1,538 L803.7,539 L802.6,540 L801.5,541 L801.1,542 L801.5,543 L802.6,544 L803.7,545 L804.1,546 L803.7,547 L802.6,548 L801.5,549 L801.1,550 L801.5,551 L802.6,552 L803.7,553 L804.1,554 L803.7,555 L802.6,556 L801.5,557 L801.1,558 L801.5,559 L802.6,560 L803.7,561 L804.1,562 L803.7,563 L802.6,564 L801.5,565 L801.1,566 L801.5,567 L802.6,568 L803.7,569 L804.1,570 L803.7,571 L802.6,572 L801.5,573 L801.1,574 L801.5,575 L802.6,576 L803.7,577 L804.1,578 L803.7,579 L802.6,580 L801.5,581 L801.1,582 L801.5,583 L802.6,584 L803.7,585 L804.1,586 L803.7,587 L802.6,588 L801.5,589 L801.1,590 L801.5,591 L802.6,592 L803.7,593 L804.1,594 L803.7,595 L802.6,596 L801.5,597 L801.1,598 L801.5,599 L802.6,600 L803.7,601 L804.1,602 L803.7,603 M803,350 L803.4,351 L804.5,352 L805.6,353 L806,354 L805.6,355 L804.5,356 L803.4,357 L803,358 L803.4,359 L804.5,360 L805.6,361 L806,362 L805.6,363 L804.5,364 L803.4,365 L803,366 L803.4,367 L804.5,368 L805.6,369 L806,370 L805.6,371 L804.5,372 L803.4,373 L803,374 L803.4,375 L804.5,376 L805.6,377 L806,378 L805.6,379 L804.5,380 L803.4,381 L803,382 L803.4,383 L804.5,384 L805.6,385 L806,386 L805.6,387 L804.5,388 L803.4,389 L803,390 L803.4,391 L804.5,392 L805.6,393 L806,394 L805.6,395 L804.5,396 L803.4,397 L803,398 L803.4,399 L804.5,400 L805.6,401 L806,402 L805.6,403 L804.5,404 L803.4,405 L803,406 L803.4,407 L804.5,408 L805.6,409 L806,410 L805.6,411 L804.5,412 L803.4,413 L803,414 L803.4,415 L804.5,416 L805.6,417 L806,418 L805.6,419 L804.5,420 L803.4,421 L803,422 L803.4,423 L804.5,424 L805.6,425 L806,426 L805.6,427 L804.5,428 L803.4,429 L803,430 L803.4,431 L804.5,432 L805.6,433 L806,434 L805.6,435 L804.5,436 L803.4,437 L803,438 L803.4,439 L804.5,440 L805.6,441 L806,442 L805.6,443 L804.5,444 L803.4,445 L803,446 L803.4,447 L804.5,448 L805.6,449 L806,450 L805.6,451 L804.5,452 L803.4,453 L803,454 L803.4,455 L804.5,456 L805.6,457 L806,458 L805.6,459 L804.5,460 L803.4,461 L803,462 L803.4,463 L804.5,464 L805.6,465 L806,466 L805.6,467 L804.5,468 L803.4,469 L803,470 L803.4,471 L804.5,472 L805.6,473 L806,474 L805.6,475 L804.5,476 L803.4,477 L803,478 L803.4,479 L804.5,480 L805.6,481 L806,482 L805.6,483 L804.5,484 L803.4,485 L803,486 L803.4,487 L804.5,488 L805.6,489 L806,490 L805.6,491 L804.5,492 L803.4,493 L803,494 L803.4,495 L804.5,496 L805.6,497 L806,498 L805.6,499 L804.5,500 L803.4,501 L803,502 L803.4,503 L804.5,504 L805.6,505 L806,506 L805.6,507 L804.5,508 L803.4,509 L803,510 L803.4,511 L804.5,512 L805.6,513 L806,514 L805.6,515 L804.5,516 L803.4,517 L803,518 L803.4,519 L804.5,520 L805.6,521 L806,522 L805.6,523 L804.5,524 L803.4,525 L803,526 L803.4,527 L804.5,528 L805.6,529 L806,530 L805.6,531 L804.5,532 L803.4,533 L803,534 L803.4,535 L804.5,536 L805.6,537 L806,538 L805.6,539 L804.5,540 L803.4,541 L803,542 L803.4,543 L804.5,544 L805.6,545 L806,546 L805.6,547 L804.5,548 L803.4,549 L803,550 L803.4,551 L804.5,552 L805.6,553 L806,554 L805.6,555 L804.5,556 L803.4,557 L803,558 L803.4,559 L804.5,560 L805.6,561 L806,562 L805.6,563 L804.5,564 L803.4,565 L803,566 L803.4,567 L804.5,568 L805.6,569 L806,570 L805.6,571 L804.5,572 L803.4,573 L803,574 L803.4,575 L804.5,576 L805.6,577 L806,578 L805.6,579 L804.5,580 L803.4,581 L803,582 L803.4,583 L804.5,584 L805.6,585 L806,586 L805.6,587 L804.5,588 L803.4,589 L803,590 L803.4,591 L804.5,592 L805.6,593 L806,594 L805.6,595 L804.5,596 L803.4,597 L803,598 L803.4,599 L804.5,600 L805.6,601 L806,602 L805.6,603" fill="none" stroke="#cdcdcd" stroke-width="0.45" clip-path="url(#hclip)"/>
<circle cx="825.7" cy="390" r="31" fill="#c5d7c6"/>
<circle cx="825.7" cy="451.5" r="31" fill="#c5d7c6"/>
<circle cx="825.3" cy="505" r="31" fill="#c5d7c6"/>
<circle cx="825.3" cy="563" r="31" fill="#c5d7c6"/>
<circle cx="830.7" cy="384" r="31" fill="#d8efb2" stroke="#a2b893" stroke-width="0.7"/>
<circle cx="830.7" cy="445.5" r="31" fill="#d8efb2" stroke="#a2b893" stroke-width="0.7"/>
<circle cx="830.3" cy="499" r="31" fill="#d8efb2" stroke="#a2b893" stroke-width="0.7"/>
<circle cx="830.3" cy="557" r="31" fill="#d8efb2" stroke="#a2b893" stroke-width="0.7"/>
<path d="M826.5,385 L861.4,388.4 M826.5,385 L857.6,399.4 M826.5,385 L852.5,406.1 M826.5,385 L837.7,414.2 M826.5,385 L828.7,414.9 M826.5,385 L819.2,412.8 M826.5,385 L811.9,408.7 M826.5,385 L802.4,396.6 M826.5,385 L800.7,391.7 M826.5,385 L800.4,377.4 M826.5,385 L802.6,370.8 M826.5,385 L810.6,360.4 M826.5,385 L815.4,357 M826.5,385 L825.9,353.4 M826.5,385 L839.1,354.2 M826.5,385 L850.8,360.4 M826.5,385 L858.2,369.7" stroke="#7d9070" stroke-width="0.55" fill="none"/>
<path d="M861.4,388.4 L868.5,389.1 M857.6,399.4 L865.3,402.9 M852.5,406.1 L857.8,410.4 M837.7,414.2 L840.6,421.9 M828.7,414.9 L829,418.9 M819.2,412.8 L817,421.5 M811.9,408.7 L809.4,412.9 M802.4,396.6 L797.2,399 M800.7,391.7 L795.9,393 M800.4,377.4 L795.6,376 M802.6,370.8 L796.8,367.3 M810.6,360.4 L807.4,355.4 M815.4,357 L813,351 M825.9,353.4 L825.8,349.8 M839.1,354.2 L841.8,347.5 M850.8,360.4 L855.8,355.3 M858.2,369.7 L861.5,368.1" stroke="#b8c4b0" stroke-width="0.5" fill="none"/>
<path d="M826.7,444.6 L861,452.2 M826.7,444.6 L853.1,466.9 M826.7,444.6 L845.8,472.6 M826.7,444.6 L829.5,476.5 M826.7,444.6 L820.3,474.7 M826.7,444.6 L813.5,471.3 M826.7,444.6 L803.6,460.5 M826.7,444.6 L800,449.6 M826.7,444.6 L799.8,443.2 M826.7,444.6 L804.3,429.2 M826.7,444.6 L810.4,422.1 M826.7,444.6 L814.2,419.3 M826.7,444.6 L827.4,414.7 M826.7,444.6 L842,416.6 M826.7,444.6 L847.2,419.2 M826.7,444.6 L855.9,427.5 M826.7,444.6 L861.5,441.8" stroke="#7d9070" stroke-width="0.55" fill="none"/>
<path d="M861,452.2 L867.9,453.8 M853.1,466.9 L857.6,470.7 M845.8,472.6 L850.2,479 M829.5,476.5 L830.1,482.5 M820.3,474.7 L819.4,479 M813.5,471.3 L811.2,476 M803.6,460.5 L800.8,462.5 M800,449.6 L795.6,450.4 M799.8,443.2 L796.5,443.1 M804.3,429.2 L798.2,424.9 M810.4,422.1 L806.5,416.6 M814.2,419.3 L812,414.8 M827.4,414.7 L827.4,411 M842,416.6 L844.5,412.1 M847.2,419.2 L852.1,413.1 M855.9,427.5 L863.3,423.2 M861.5,441.8 L867.8,441.3" stroke="#b8c4b0" stroke-width="0.5" fill="none"/>
<path d="M826.3,500.6 L851.1,521.9 M826.3,500.6 L847.4,524.9 M826.3,500.6 L835.5,529.6 M826.3,500.6 L821.4,528.7 M826.3,500.6 L810.8,523.1 M826.3,500.6 L804,515.3 M826.3,500.6 L800.8,508.5 M826.3,500.6 L799.3,498.2 M826.3,500.6 L801.3,488.1 M826.3,500.6 L807.5,478 M826.3,500.6 L812.8,473.4 M826.3,500.6 L827.5,468.1 M826.3,500.6 L840.4,469.7 M826.3,500.6 L851.4,476.3 M826.3,500.6 L857.9,484.9 M826.3,500.6 L860.8,493.7 M826.3,500.6 L860.3,507" stroke="#7d9070" stroke-width="0.55" fill="none"/>
<path d="M851.1,521.9 L854.1,524.5 M847.4,524.9 L853.3,531.7 M835.5,529.6 L836.6,533.1 M821.4,528.7 L820.5,533.7 M810.8,523.1 L808.4,526.8 M804,515.3 L799.9,518.1 M800.8,508.5 L792.6,511 M799.3,498.2 L790.8,497.4 M801.3,488.1 L798.4,486.6 M807.5,478 L803.3,473 M812.8,473.4 L810.9,469.7 M827.5,468.1 L827.7,461.6 M840.4,469.7 L843.6,462.7 M851.4,476.3 L856,471.9 M857.9,484.9 L863.9,481.9 M860.8,493.7 L869.4,492 M860.3,507 L867.8,508.4" stroke="#b8c4b0" stroke-width="0.5" fill="none"/>
<path d="M826.3,558 L843.6,585 M826.3,558 L832.6,587.9 M826.3,558 L823.6,587.3 M826.3,558 L814.2,583.5 M826.3,558 L807.9,578.4 M826.3,558 L802.1,570 M826.3,558 L799.7,561.7 M826.3,558 L800.8,547.4 M826.3,558 L804.9,539.3 M826.3,558 L811.6,532.3 M826.3,558 L824.8,526.5 M826.3,558 L835.7,526.5 M826.3,558 L849.3,532.5 M826.3,558 L856.7,540.8 M826.3,558 L860.8,551.3 M826.3,558 L860.9,562 M826.3,558 L855.6,574.9" stroke="#7d9070" stroke-width="0.55" fill="none"/>
<path d="M843.6,585 L848.3,592.3 M832.6,587.9 L833.3,591.3 M823.6,587.3 L823.1,592.8 M814.2,583.5 L812.5,586.9 M807.9,578.4 L804.1,582.6 M802.1,570 L797,572.5 M799.7,561.7 L796.2,562.2 M800.8,547.4 L795.7,545.2 M804.9,539.3 L799.3,534.4 M811.6,532.3 L809.9,529.4 M824.8,526.5 L824.5,520 M835.7,526.5 L837.7,520 M849.3,532.5 L852.8,528.7 M856.7,540.8 L861.2,538.2 M860.8,551.3 L867.6,550 M860.9,562 L864.4,562.4 M855.6,574.9 L861.9,578.6" stroke="#b8c4b0" stroke-width="0.5" fill="none"/>
<path d="M352.7,406 L351.7,405.5 L350.8,406 L349.8,406.2 L348.7,406 L347.8,406.4 L347.1,407.6 L346.3,408.5 L345.2,408.4 L344.1,408.2 L343.2,408.6 L342.3,409.1 L341.1,408.7 L339.9,408.1 L339,408.6 L338.3,409.6 L337.4,410.2 L336.4,410.4 L335.6,411 L335.2,412.2 L334.4,412.9 L333.1,412.7 L331.9,412.5 L331.1,413.2 L330.4,413.9 L329.3,414 L328.2,414.2 L327.7,415.2 L327.3,416.6 L326.5,417.2 L325.3,417.2 L324.4,417.6 L323.7,418.5 L322.7,418.7 L321.4,418.2 L320.2,418.2 L319.5,419.2 L319,420.2 L318.2,420.7 L317.4,421.4 L317.4,422.6 L317.4,423.8 L316.6,424.5 L315.3,424.8 L314.5,425.4 L314.1,426.4 L313.4,427.1 L312.2,427.4 L311.6,428.1 L311.6,429.5 L311.4,430.7 L310.4,431.2 L309.5,431.6 L309.2,432.5 L308.9,433.3 L307.9,433.8 L306.6,434.5 L306.4,435.5 L306.9,436.6 L306.9,437.6 L306.5,438.6 L306.7,439.6 L307.6,440.7 L307.8,441.8 L306.9,442.7 L306,443.5 L305.9,444.5 L305.7,445.5 L304.7,446.2 L303.8,447 L303.9,448 L304.5,449.3 L304.4,450.3 L303.8,451.2 L303.7,452.2 L304.1,453.2 L303.9,454.1 L302.7,455 L302,456 L302.3,457 L302.5,458 L302.2,459.1 L302.2,460.1 L303.1,460.9 L304.2,461.6 L304.4,462.6 L304.1,463.8 L304.3,464.8 L304.8,465.6 L304.8,466.7 L304.3,467.9 L304.4,468.9 L305.4,469.6 L306.3,470.4 L306.5,471.4 L306.6,472.4 L307.5,473.2 L308.2,474.1 L307.9,475.2 L307.2,476.4 L307.2,477.4 L307.9,478.3 L308.3,479.3 L308.4,480.4 L309.3,481 L310.7,480.8 L311.8,481 L312.4,481.9 L312.9,482.8 L313.9,483.1 L314.7,483.4 L315.4,484.5 L316.3,485.6 L317.3,485.5 L318.4,484.8 L319.4,484.7 L320.4,485.1 L321.4,484.8 L322.6,484.1 L323.8,484.3 L324.2,485.5 L324.2,486.4 L324.8,487 L325.2,487.8 L324.9,488.9 L324.8,490 L325.7,490.8 L326.8,491.7 L326.9,492.8 L326.3,493.6 L325.9,494.5 L325.7,495.6 L324.8,496.2 L323.3,496.3 L322.3,497 L322.4,498.2 L322.6,499.1 L322.4,500.1 L322.5,501 L323.6,501.7 L324.5,502.3 L324.6,503.2 L324.4,504.5 L325,505.4 L325.9,505.9 L326.4,506.8 L326.7,508 L327.5,508.6 L328.9,508.5 L330,508.7 L330.6,509.4 L331.3,510.1 L332.4,510.1 L333.3,510.3 L334,511.4 L334.7,512.6 L335.6,512.9 L336.8,512.6 L337.7,512.9 L338.6,513.6 L339.6,513.5 L340.9,512.8 L341.9,512.8 L342.7,513.7 L343.5,514.4 L344.6,514.4 L345.5,514.5 L346.4,515.4 L347.3,516.1 L348.4,515.7 L349.5,515 L350.5,515 L351.5,515.4 L352.5,515.3 L353.5,514.8 L354.5,515.1 L355.4,516.2 L356.5,516.8 L357.5,516.4 L358.4,516.1 L359.5,516.4 L360.5,516.5 L361.4,515.6 L362.4,514.7 L363.4,514.9 L364.4,515.5 L365.4,515.5 L366.4,515.2 L367.4,515.5 L368.6,516.2 L369.6,516.2 L370.4,515.2 L371.3,514.4 L372.3,514.4 L373.3,514.2 L374.1,513.3 L375,512.6 L376.1,513.1 L377.3,513.8 L378.3,513.6 L379.2,513.1 L380.2,513 L381.4,513.2 L382.2,512.5 L382.7,511.2 L383.4,510.3 L384.5,510.3 L385.6,510.2 L386.3,509.4 L387.2,509 L388.5,509.3 L389.7,509.5 L390.5,508.8 L391,507.7 L391.8,507.1 L392.8,506.7 L393.2,505.7 L393.3,504.5 L393.9,503.7 L395.3,503.6 L396.4,503.2 L396.8,502.3 L397.5,501.5 L398.6,501 L399.4,500.4 L399.3,499.1 L399,497.8 L399.4,496.9 L400.3,496.2 L400.6,495.2 L400.7,494.2 L401.4,493.5 L402.7,492.8 L403.2,491.8 L402.6,490.7 L402.1,489.8 L402.3,488.7 L402.1,487.8 L401.2,486.8 L400.5,485.8 L401,484.7 L402,483.9 L402.2,482.9 L402.2,481.9 L402.8,481 L403.7,480.2 L403.7,479.3 L403.2,478.1 L403.4,476.9 L404.3,476.5 L405.2,476.1 L405.9,475.2 L406.8,474.7 L408,475.1 L409.3,475.5 L410.2,475 L410.9,474.2 L411.9,473.8 L412.9,473.6 L413.4,472.6 L413.1,471.5 L413.2,470.7 L414.2,470.1 L414.8,469.2 L414.8,468.2 L415.1,467.2 L416,466.3 L416.6,465.3 L416.1,464.2 L415.2,463.3 L415.1,462.3 L415.3,461.3 L414.9,460.3 L414.3,459.3 L414.5,458.3 L415.5,457.2 L416,456.2 L415.5,455.2 L415.3,454.2 L415.5,453.1 L415.3,452.1 L414.1,451.5 L412.9,451 L412.7,450 L412.8,448.8 L412.4,447.9 L411.7,447.1 L411.8,446 L412.3,444.7 L412.1,443.8 L411,443.1 L410.3,442.2 L410.3,441.2 L410,440.2 L409.1,439.5 L408.5,438.6 L409,437.4 L409.5,436.2 L409.2,435.2 L408.4,434.5 L408.1,433.5 L407.7,432.4 L406.7,432 L405.3,432 L404.3,431.6 L403.9,430.5 L403.4,429.6 L402.5,429.1 L401.9,428.2 L402.1,426.9 L402.1,425.6 L401.2,425.1 L400,424.7 L399.4,423.9 L398.9,423 L397.8,422.7 L396.6,422.8 L395.8,422.1 L395.6,420.8 L395,419.8 L394,419.4 L393.3,418.8 L392.8,417.7 L392.2,416.9 L390.8,417 L389.5,417.1 L388.8,416.4 L388.2,415.5 L387.3,415.1 L386.3,414.8 L385.8,413.7 L385.7,412.3 L385.1,411.5 L383.9,411.3 L383,410.9 L382.4,410 L381.5,409.4 L380.2,409.7 L379.2,409.8 L378.6,408.9 L377.9,407.9 L376.9,407.7 L375.9,407.8 L374.9,407.3 L373.7,406.9 L372.8,407.5 L372.5,408.9 L371.9,409.8 L370.9,410.1 L370.1,410.7 L369.7,411.8 L369,412.5 L367.6,412.4 L366.3,412.5 L365.7,413.4 L365.4,414.4 L364.5,415 L363.6,415.5 L363.4,416.7 L363.1,418.1 L362,418.5 L361.3,417.7 L360.9,417 L360.1,416.5 L359.7,415.6 L359.8,414.3 L359.6,413.2 L358.5,412.8 L357.3,412.4 L356.7,411.5 L356.4,410.6 L355.5,410 L354.5,409.5 L354.3,408.5 L354.4,407 L353.7,406Z" fill="#c7d59c"/>
<path d="M360,448 L362.3,426.5 M351.5,467.5 L332,485 M372.5,466 L394.5,479.5" fill="none" stroke="#cfa055" stroke-width="2.7" stroke-linecap="round"/>
<circle cx="358.5" cy="456.3" r="2.5" fill="#cfa055"/>
<circle cx="354" cy="462.3" r="2.3" fill="#cfa055"/>
<circle cx="364.5" cy="463" r="2.3" fill="#cfa055"/>
<path d="M380.3,539.4 Q378.8,541.7 378.4,544.1 Q378.1,546.5 378.5,549.5 Q379,552.6 376.1,553.7 Q373.1,554.7 371.5,556.6 Q370,558.4 368.5,560.8 Q367.1,563.2 364.4,563.4 Q361.7,563.6 359.3,564.2 Q356.9,564.9 354.5,565.5 Q352,566.1 349.6,565 Q347.3,563.9 344.9,563.3 Q342.6,562.7 340,562.5 Q337.4,562.3 335.9,560.1 Q334.4,558 332.3,556.6 Q330.3,555.2 328.3,553.5 Q326.3,551.8 326.3,549.1 Q326.4,546.3 325.8,544 Q325.2,541.7 323,539.4 Q320.8,537 322.7,534.6 Q324.7,532.2 325.2,529.8 Q325.8,527.5 325.4,524.5 Q325,521.4 327.7,520.1 Q330.3,518.8 332.4,517.5 Q334.5,516.2 335.8,513.7 Q337.1,511.2 339.8,511.1 Q342.5,511 344.8,510 Q347.1,509.1 349.5,508.5 Q352,507.9 354.4,508.7 Q356.8,509.5 359.3,509.9 Q361.7,510.4 364.4,510.5 Q367.2,510.7 368.3,513.5 Q369.4,516.3 371.3,517.7 Q373.2,519.2 375.8,520.5 Q378.4,521.8 377.9,524.8 Q377.4,527.8 378.6,529.9 Q379.9,532.1 380.9,534.5 Q381.8,537 380.3,539.4Z" fill="none" stroke="#a9a9a9" stroke-width="0.6"/>
<path d="M352.5,538 L352,508 M352.5,538 L325,532 M352.5,538 L339,564 M352.5,538 L376,512 M352.5,538 L378,553 M352.5,538 L370,550" stroke="#a9a9a9" stroke-width="0.6" fill="none"/>
<circle cx="352.5" cy="538" r="1.6" fill="#999"/>
<path d="M394.6,266 Q395,268.1 394.2,270.1 Q393.5,272.1 393.2,274.2 Q392.9,276.4 391.3,277.9 Q389.7,279.4 389.4,281.7 Q389.1,284.1 387.6,285.6 Q386.1,287.2 384.8,289 Q383.5,290.9 381.3,291.5 Q379.1,292.1 377.2,293.1 Q375.3,294.1 373.2,294.5 Q371.1,294.9 369.1,295.7 Q367.1,296.4 364.9,295.8 Q362.8,295.2 360.7,295.6 Q358.6,296.1 356.6,295.1 Q354.7,294.2 352.2,294.9 Q349.7,295.6 348.1,293.9 Q346.4,292.2 344.3,291.6 Q342.1,290.9 340.9,288.9 Q339.7,287 338.3,285.4 Q336.9,283.8 336.2,281.7 Q335.4,279.7 333.6,278.2 Q331.8,276.8 331.6,274.5 Q331.4,272.3 330.2,270.3 Q329,268.4 329.5,266.1 Q330,263.9 330.3,261.8 Q330.7,259.7 331.2,257.6 Q331.7,255.6 331.7,253.3 Q331.7,251 333.4,249.4 Q335.1,247.9 336,246 Q336.9,244 338.6,242.7 Q340.2,241.3 341.6,239.7 Q343.1,238.2 344.7,236.8 Q346.3,235.4 348,233.9 Q349.7,232.4 352.1,232.6 Q354.5,232.9 356.5,232.1 Q358.5,231.3 360.7,231.2 Q362.8,231 365,230.9 Q367.2,230.7 369.2,231.4 Q371.3,232.2 373.6,232.3 Q375.8,232.4 377.3,234.3 Q378.8,236.2 380.9,236.9 Q383,237.6 384.3,239.4 Q385.6,241.1 387.3,242.4 Q389.1,243.7 389.5,246 Q389.9,248.3 391.5,249.8 Q393.2,251.3 393.8,253.4 Q394.4,255.4 394.6,257.6 Q394.8,259.7 394.5,261.8 Q394.2,263.9 394.6,266Z" fill="#fdfefe" stroke="#bdcacb" stroke-width="0.6"/>
<path d="M367.8,265.1 L368.3,266.4 L368.1,267.7 L367.2,268.5 L365.6,268.2 L364.3,267.8 L363.4,267.2 M361.3,268.8 L360,269.2 L358.6,269.2 L358.2,268 L358.1,266.7 L359.3,265.2 L359.4,264.5 M357.9,263.7 L356.8,262.5 L356.4,261 L357.8,260.4 L359.4,260.3 L360.5,260.3 L361.6,260.9 M363,258.6 L364.2,258.1 L365.6,257.8 L366.4,258.8 L366.5,260.3 L366.2,261.7 L365.6,262.8 L366.3,263.2 M374,264.2 L374.9,265.3 L375.3,266.5 L374.7,267.5 L373.2,268 L371.6,268.3 L370.4,268.6 L370.5,269.6 L370.8,271.1 M360.9,274.6 L359.6,275.6 L358.3,276 L357.4,275.2 L357.1,273.3 L357,271.8 L356.7,270.7 L355.9,270.4 L354.4,270.5 L352.8,270.3 L351.8,269.6 M352,266.3 L350.8,265.4 L350.1,264.4 L350.5,263.2 L351.5,262.2 L353.3,261.6 L354,260.9 L354.3,260.1 L353.5,258.7 L353.3,257.4 M354.8,256.2 L354.9,254.9 L355.3,253.6 L356.5,253.4 L357.9,253.9 L359.2,254.6 L360.1,254.8 L360.9,254.6 L361.6,253.2 L362.5,252.3 M370.4,256.2 L372.2,255.9 L373.4,256.3 L373.2,257.8 L372.8,259.1 L372.3,260.4 L371.6,261.5 L371.9,262.2 L373,262.9 L374.3,263.8 M379.3,269.2 L379.8,270.5 L379.6,271.7 L378.9,272.7 L377.5,273.2 L375.9,273.4 L374.6,273.6 L374,274.3 L374.1,275.9 L374.2,277.6 L373.9,279.1 L372.7,279.5 L371.5,279.7 L369.9,279 L368.4,278 M369,279.6 L368.5,281.5 L367.4,282.1 L366.2,282.1 L364.9,281.2 L363.6,279.7 L362.6,279 L361.6,279.2 L360.5,280.3 L359.1,281.4 L357.9,281.7 L356.6,281.7 L355.9,280.2 L355.5,278.4 M351.3,276.5 L349.6,276.6 L348.3,276.2 L347.8,275.1 L348.2,273.4 L348.9,271.7 L349,270.6 L348.3,269.8 L347,269.2 L345.6,268.5 L344.6,267.6 L344.4,266.4 L345,265.2 L346.3,264.1 L347.7,263.1 M346.7,257.9 L345.9,256.4 L345.9,255.2 L347,254.5 L348.4,254.1 L350.2,254.1 L351.5,254 L351.9,253.1 L351.9,251.7 L351.6,249.7 L352.1,248.4 L353.1,247.9 L354.5,248.1 L356.2,249.1 L357.3,249.5 M359.9,247.3 L360.8,245.8 L361.8,245.2 L363,245.4 L364,246.9 L364.8,248.3 L365.7,249 L366.7,248.8 L367.9,248.1 L369.3,247.2 L370.8,246.7 L371.6,247.5 M371.5,249.3 L373,249 L374.5,249 L375,250.3 L375,251.9 L374.8,253.5 L375.2,254.5 L375.4,255.5 L377,255.7 L378.7,256.1 L379.9,256.8 L380.4,257.9 M385.7,266.4 L386.8,267.7 L386.9,268.8 L386.4,269.9 L385.1,270.7 L383.7,271.3 L382.3,271.9 L382.3,272.9 L383,274.4 L383.6,275.9 L383.4,277.2 L382.9,278.2 L381.6,278.6 L379.8,278.5 L378.5,278.7 L377.7,279.2 L377.6,280.6 M371.6,285 L371.1,286.8 L370.1,287.5 L368.9,287.5 L367.6,286.6 L366.3,285.5 L365.2,284.8 L364.2,285.1 L363.2,286.4 L362.1,287.6 L360.9,288.2 L359.7,288.6 L358.8,287.2 L357.9,286 L357.1,284.6 M353.3,285.1 L351.9,285.4 L350.7,285.3 L349.7,284.6 L349.3,283.1 L349.3,281.3 L348.9,280.2 L348.1,279.5 L346.5,279.5 L345,279.5 L343.5,279.2 L342.8,278.2 L342.9,276.7 L343.4,275.1 L343.6,273.8 L343.6,272.7 M340.9,271.8 L339.7,271.1 L339.1,270.2 L338.8,269.1 L339.7,267.9 L340.8,266.7 L341.7,265.6 L341.2,264.7 L340.4,263.8 L339.2,262.7 L338,261.6 L338.2,260.5 L339.6,259.6 M348.4,246.1 L348.6,244.7 L349.1,243.5 L350.3,243.2 L351.6,243.4 L353.2,244.3 L354.4,244.6 L355.3,244 L355.8,242.6 L356.4,240.8 L357.3,239.8 M358.8,241.2 L359.8,239.9 L360.9,239.2 L362,239.4 L363.2,240.5 L364.2,242 L365.2,242.7 L366.2,242.7 L367.4,241.8 L368.8,240.9 L370.1,240.4 L371.2,240.7 L372,241.9 L372.4,243.8 L373,244.8 M381.2,249.9 L383,250 L384,250.8 L384.1,252 L383.6,253.6 L383,255.1 L382.8,256.3 L383.4,257.1 L384.3,258 L385.8,258.7 L386.9,259.7 L387,260.8 L386.2,262.1 L384.9,263.2 L384.1,264.3 L383.8,265.3" fill="none" stroke="#c2cccc" stroke-width="0.55"/>
<path d="M343.6,199.8 L336.7,200.1 L329.6,202 L321.1,201.9 L319.1,207.4 L315.4,212.2 L311.9,219.4 L310.1,227.8 L309.8,232.3 L311.7,239.7 L315.6,243.2 L320.7,248.9 L326.3,255.1 L331.8,261.9 L341.3,262.3 L353.2,261.9 L359.5,257.1 L366.1,250.4 L369.3,243.1 L372.5,234.1 L370.9,222.5 L365.7,213.2 L359.1,206 L351.5,201.2Z" fill="none" stroke="#b6c0c2" stroke-width="0.6"/>
<path d="M355.1,180 L358,180.4 L362.1,180.7 L369.9,185.6 L377.5,192.6 L382.8,196 L385.6,201.8 L386.8,210.2 L384.9,219.9 L381.7,223.4 L378.5,229.1 L372.8,231.6 L365.7,237.1 L356.7,235.4 L346.8,233.5 L340.3,229.3 L335.1,222.2 L329.3,216.8 L328,209.7 L334.3,197.6 L336.3,192.5 L339.6,187.5 L345.6,181.1Z" fill="none" stroke="#b6c0c2" stroke-width="0.6"/>
<path d="M360,212 L355,180 M360,212 L363,180.5 M360,212 L386,218 M360,212 L385,222 M360,212 L368,236 M360,212 L340,230 M360,212 L343,199.5 M341.1,230.9 L336,203 M341.1,230.9 L343,199.5 M341.1,230.9 L311,233 M341.1,230.9 L322,257 M341.1,230.9 L350,260 M341.1,230.9 L366,250 M341.1,230.9 L344,233 L366,238 L367,244 L348,244Z" stroke="#b6c0c2" stroke-width="0.55" fill="none"/>
<path d="M357,306 L349.4,309.9 L353.7,317.4 L345.2,316.6 L344.7,325.1 L338,319.9 L333,326.8 L330.2,318.7 L322.2,321.9 L324.2,313.6 L315.9,311.9 L322,306 L315.9,300.1 L324.2,298.4 L322.2,290.1 L330.2,293.3 L333,285.2 L338,292.1 L344.7,286.9 L345.2,295.4 L353.7,294.6 L349.4,302.1Z" fill="#fdfefe" stroke="#bccbcc" stroke-width="0.55"/>
<ellipse cx="332" cy="298" rx="5" ry="1.6" transform="rotate(-20 332 298)" fill="#e8889a"/>
<ellipse cx="348" cy="302.5" rx="4.5" ry="1.8" transform="rotate(-15 348 302.5)" fill="#e8889a"/>
<ellipse cx="340" cy="299.5" rx="5" ry="1.5" transform="rotate(35 340 299.5)" fill="#2f9a4a"/>
<path d="M335.5,305 L329,316 L332,317 Z" fill="#5cb68a"/>
<circle cx="345.5" cy="313.5" r="4.3" fill="#5cb68a"/>
<circle cx="356" cy="358.5" r="34.5" fill="#fcfefe" stroke="#bed0d2" stroke-width="0.6"/>
<circle cx="343" cy="367.5" r="32.5" fill="none" stroke="#c4d4d6" stroke-width="0.6"/>
<path d="M352,357 L362.9,365.7 M362.9,365.7 L371.3,367.9 M371.3,367.9 L376,365.2 M371.3,367.9 L374.7,372.1 M362.9,365.7 L365.5,374 M365.5,374 L369.6,377.5 M365.5,374 L364.4,379.3 M352,357 L346.8,370 M346.8,370 L347.1,378.7 M347.1,378.7 L350.2,383 M347.1,378.7 L345.4,383.8 M346.8,370 L340.2,375.6 M340.2,375.6 L339.1,380.9 M340.2,375.6 L334.9,376.4 M352,357 L338.8,361.6 M338.8,361.6 L334.7,369.2 M334.7,369.2 L335.2,374.6 M334.7,369.2 L330.4,372.5 M338.8,361.6 L330.5,358.9 M330.5,358.9 L325.2,359.6 M330.5,358.9 L326.8,355.1 M352,357 L342.5,346.7 M342.5,346.7 L334.3,343.9 M334.3,343.9 L329,344.9 M334.3,343.9 L330.8,339.8 M342.5,346.7 L342,338.1 M342,338.1 L338.4,334 M342,338.1 L344.4,333.3 M352,357 L362.5,347.7 M362.5,347.7 L364.6,339.3 M364.6,339.3 L362.2,334.5 M364.6,339.3 L367.9,335.1 M362.5,347.7 L371.2,347.7 M371.2,347.7 L375.4,344.3 M371.2,347.7 L375.8,350.5 M343,369 L355.6,375.1 M355.6,375.1 L364.1,373.2 M364.1,373.2 L367.2,368.9 M364.1,373.2 L369.1,375.2 M355.6,375.1 L359.6,382.8 M359.6,382.8 L363.8,386.1 M359.6,382.8 L360.1,388.2 M343,369 L344.1,383 M344.1,383 L348.5,390.5 M348.5,390.5 L353.6,392 M348.5,390.5 L348.9,395.8 M344.1,383 L340.4,390.8 M340.4,390.8 L340.8,396.2 M340.4,390.8 L336.3,394.3 M343,369 L329,368.4 M329,368.4 L322.6,374.3 M322.6,374.3 L321,379.4 M322.6,374.3 L317.3,374.6 M329,368.4 L322.2,363 M322.2,363 L316.8,362.8 M322.2,363 L319.7,358.2 M343,369 L336.6,356.5 M336.6,356.5 L329.4,351.7 M329.4,351.7 L324.1,352.5 M329.4,351.7 L327.1,346.8 M336.6,356.5 L338.7,348.1 M338.7,348.1 L337.3,342.9 M338.7,348.1 L342.4,344.3 M343,369 L351,357.5 M351,357.5 L349.6,348.9 M349.6,348.9 L345.8,345.1 M349.6,348.9 L351.8,344 M351,357.5 L358.3,352.9 M358.3,352.9 L361.3,348.4 M358.3,352.9 L363.7,352.6" stroke="#c9aa62" stroke-width="0.75" fill="none" stroke-linecap="round"/>
<path d="M343,369 L326,385 M352,357 L360,330 M352,357 L343,369" stroke="#c8a650" stroke-width="1.1" fill="none"/>
<circle cx="352" cy="357" r="2" fill="#c8a650"/><circle cx="343" cy="369" r="2" fill="#c8a650"/>
<path d="M460,565.8 L459.9,565.1 L459.8,564.5 L459.7,563.9 L459.6,563.3 L459.5,562.7 L459.4,562.1 L459.2,561.5 L459,560.9 L458.8,560.3 L458.6,559.7 L458.3,559.2 L458,558.6 L457.8,558 L457.5,557.5 L457.1,557 L456.8,556.4 L456.4,555.9 L456.1,555.4 L455.7,554.9 L455.3,554.5 L454.9,554 L454.4,553.6 L454,553.1 L453.5,552.7 L453.1,552.3 L452.6,551.9 L452.1,551.6 L451.6,551.2 L451,550.9 L450.5,550.5 L450,550.2 L449.4,550 L448.8,549.7 L448.3,549.4 L447.7,549.2 L447.1,549 L446.5,548.8 L445.9,548.6 L445.3,548.5 L444.7,548.4 L444.1,548.3 L443.5,548.2 L442.9,548.1 L442.2,548 L441.6,548 L441,548 L440.4,548 L439.8,548 L439.1,548.1 L438.5,548.2 L437.9,548.3 L437.3,548.4 L436.7,548.5 L436.1,548.6 L435.5,548.8 L434.9,549 L434.3,549.2 L433.7,549.4 L433.2,549.7 L432.6,550 L432,550.2 L431.5,550.5 L431,550.9 L430.4,551.2 L429.9,551.6 L429.4,551.9 L428.9,552.3 L428.5,552.7 L428,553.1 L427.6,553.6 L427.1,554 L426.7,554.5 L426.3,554.9 L425.9,555.4 L425.6,555.9 L425.2,556.4 L424.9,557 L424.5,557.5 L424.2,558 L424,558.6 L423.7,559.2 L423.4,559.7 L423.2,560.3 L423,560.9 L422.9,561.3 L422.8,561 L422.5,560.5 L422.1,560 L421.8,559.4 L421.4,558.9 L421.1,558.4 L420.7,557.9 L420.3,557.5 L419.9,557 L419.4,556.6 L419,556.1 L418.5,555.7 L418.1,555.3 L417.6,554.9 L417.1,554.6 L416.6,554.2 L416,553.9 L415.5,553.5 L415,553.2 L414.4,553 L413.8,552.7 L413.3,552.4 L412.7,552.2 L412.1,552 L411.5,551.8 L410.9,551.6 L410.3,551.5 L409.7,551.4 L409.1,551.3 L408.5,551.2 L407.9,551.1 L407.2,551 L406.6,551 L406,551 L405.4,551 L404.8,551 L404.1,551.1 L403.5,551.2 L402.9,551.3 L402.3,551.4 L401.7,551.5 L401.1,551.6 L400.5,551.8 L399.9,552 L399.3,552.2 L398.7,552.4 L398.2,552.7 L397.6,553 L397,553.2 L396.5,553.5 L396,553.9 L395.4,554.2 L394.9,554.6 L394.4,554.9 L393.9,555.3 L393.5,555.7 L393,556.1 L392.6,556.6 L392.1,557 L391.7,557.5 L391.3,557.9 L390.9,558.4 L390.6,558.9 L390.2,559.4 L389.9,560 L389.5,560.5 L389.2,561 L389,561.6 L388.7,562.2 L388.5,562.6 L388.3,562.2 L388,561.6 L387.8,561 L387.5,560.5 L387.1,560 L386.8,559.4 L386.4,558.9 L386.1,558.4 L385.7,557.9 L385.3,557.5 L384.9,557 L384.4,556.6 L384,556.1 L383.5,555.7 L383.1,555.3 L382.6,554.9 L382.1,554.6 L381.6,554.2 L381,553.9 L380.5,553.5 L380,553.2 L379.4,553 L378.8,552.7 L378.3,552.4 L377.7,552.2 L377.1,552 L376.5,551.8 L375.9,551.6 L375.3,551.5 L374.7,551.4 L374.1,551.3 L373.5,551.2 L372.9,551.1 L372.2,551 L371.6,551 L371,551 L370.4,551 L369.8,551 L369.1,551.1 L368.5,551.2 L367.9,551.3 L367.3,551.4 L366.7,551.5 L366.1,551.6 L365.5,551.8 L364.9,552 L364.3,552.2 L363.7,552.4 L363.2,552.7 L362.6,553 L362,553.2 L361.5,553.5 L361,553.9 L360.4,554.2 L359.9,554.6 L359.4,554.9 L358.9,555.3 L358.5,555.7 L358,556.1 L357.6,556.6 L357.1,557 L356.7,557.5 L356.3,557.9 L355.9,558.4 L355.6,558.9 L355.2,559.4 L354.9,560 L354.5,560.5 L354.2,561 L354,561.6 L353.7,562.2 L353.4,562.7 L353.2,563.3 L353,563.9 L352.8,564.5 L352.6,565.1 L352.5,565.7 L352.4,566.3 L352.3,566.9 L352.2,567.5 L352.1,568.1 L352,568.8 L352,569.4 L352,570 L352,570.6 L352,571.2 L352.1,571.9 L352.2,572.5 L352.3,573.1 L352.4,573.7 L352.5,574.1 L352.4,574.3 L352.2,574.9 L351.9,575.6 L351.7,576.3 L351.6,577 L351.4,577.7 L351.3,578.4 L351.2,579.1 L351.1,579.8 L351,580.6 L351,581.3 L351,582 L351,582.7 L351,583.4 L351.1,584.2 L351.2,584.9 L351.3,585.6 L351.4,586.3 L351.6,587 L351.7,587.7 L351.9,588.4 L352.2,589.1 L352.4,589.7 L352.7,590.4 L353,591.1 L353.3,591.7 L353.6,592.4 L353.9,593 L354.3,593.6 L354.7,594.2 L355.1,594.8 L355.5,595.4 L356,596 L356.5,596.5 L356.9,597 L357.4,597.6 L358,598.1 L358.5,598.5 L359,599 L359.6,599.5 L360.2,599.9 L360.8,600.3 L361.4,600.7 L362,601.1 L362.6,601.4 L363.3,601.7 L363.9,602 L364.6,602.3 L365.3,602.6 L365.9,602.8 L366.6,603.1 L367.3,603.3 L368,603.4 L368.7,603.6 L369.4,603.7 L370.1,603.8 L370.8,603.9 L371.6,604 L372.3,604 L373,604 L373.7,604 L374.4,604 L375.2,603.9 L375.9,603.8 L376.6,603.7 L377.3,603.6 L378,603.4 L378.7,603.3 L379.4,603.1 L379.6,603 L470.4,603 L470.6,603.1 L471.3,603.3 L472,603.4 L472.7,603.6 L473.4,603.7 L474.1,603.8 L474.8,603.9 L475.6,604 L476.3,604 L477,604 L477.7,604 L478.4,604 L479.2,603.9 L479.9,603.8 L480.6,603.7 L481.3,603.6 L482,603.4 L482.7,603.3 L483.4,603.1 L484.1,602.8 L484.7,602.6 L485.4,602.3 L486.1,602 L486.7,601.7 L487.4,601.4 L488,601.1 L488.6,600.7 L489.2,600.3 L489.8,599.9 L490.4,599.5 L491,599 L491.5,598.5 L492,598.1 L492.6,597.6 L493.1,597 L493.5,596.5 L494,596 L494.5,595.4 L494.9,594.8 L495.3,594.2 L495.7,593.6 L496.1,593 L496.4,592.4 L496.7,591.7 L497,591.1 L497.3,590.4 L497.6,589.7 L497.8,589.1 L498.1,588.4 L498.3,587.7 L498.4,587 L498.6,586.3 L498.7,585.6 L498.8,584.9 L498.9,584.2 L499,583.4 L499,582.7 L499,582 L499,581.3 L499,580.6 L498.9,579.8 L498.8,579.1 L498.7,578.4 L498.6,577.7 L498.4,577 L498.3,576.3 L498.1,575.6 L497.8,574.9 L497.7,574.5 L497.7,574.1 L497.8,573.5 L497.9,572.9 L498,572.2 L498,571.6 L498,571 L498,570.4 L498,569.8 L497.9,569.1 L497.8,568.5 L497.7,567.9 L497.6,567.3 L497.5,566.7 L497.4,566.1 L497.2,565.5 L497,564.9 L496.8,564.3 L496.6,563.7 L496.3,563.2 L496,562.6 L495.8,562 L495.5,561.5 L495.1,561 L494.8,560.4 L494.4,559.9 L494.1,559.4 L493.7,558.9 L493.3,558.5 L492.9,558 L492.4,557.6 L492,557.1 L491.5,556.7 L491.1,556.3 L490.6,555.9 L490.1,555.6 L489.6,555.2 L489,554.9 L488.5,554.5 L488,554.2 L487.4,554 L486.8,553.7 L486.3,553.4 L485.7,553.2 L485.1,553 L484.5,552.8 L483.9,552.6 L483.3,552.5 L482.7,552.4 L482.1,552.3 L481.5,552.2 L480.9,552.1 L480.2,552 L479.6,552 L479,552 L478.4,552 L477.8,552 L477.1,552.1 L476.5,552.2 L475.9,552.3 L475.3,552.4 L474.7,552.5 L474.1,552.6 L473.5,552.8 L472.9,553 L472.3,553.2 L471.7,553.4 L471.2,553.7 L470.6,554 L470,554.2 L469.5,554.5 L469,554.9 L468.4,555.2 L467.9,555.6 L467.4,555.9 L466.9,556.3 L466.5,556.7 L466,557.1 L465.6,557.6 L465.1,558 L464.7,558.5 L464.3,558.9 L463.9,559.4 L463.6,559.9 L463.2,560.4 L462.9,561 L462.5,561.5 L462.2,562 L462,562.6 L461.7,563.2 L461.4,563.7 L461.2,564.3 L461,564.9 L460.8,565.5 L460.6,566.1 L460.5,566.7 L460.4,567.3 L460.3,567.7 L460,568 L460,568 L460,567.6 L460,567 L460,566.4 L460,565.8Z" fill="#dff5cd" stroke="#e6f7d8" stroke-width="1.2"/>
<path d="M456.8,566 L455.3,565.4 L454.6,564.9 L454.1,564.4 L453.6,563.9 L453.3,563.4 L453.1,562.9 L453,562.3 L453,561.7 L453.1,561 L453.3,560.1 L453.8,559.1 L453.2,558.7 L452.2,558.6 L451.5,558.5 L450.8,558.3 L450.2,558 L449.8,557.7 L449.4,557.3 L449.1,556.8 L448.8,556.1 L448.6,555.4 L448.4,554.4 L448.1,553.5 L447.1,554.1 L446.3,554.4 L445.6,554.6 L445,554.7 L444.4,554.6 L443.8,554.5 L443.3,554.3 L442.8,553.9 L442.2,553.4 L441.6,552.8 L441,551.8 L440.3,552.4 L439.8,553.2 L439.2,553.7 L438.7,554.1 L438.2,554.4 L437.7,554.6 L437.1,554.7 L436.5,554.7 L435.8,554.6 L435,554.4 L434.1,554 L433.3,554 L433.3,555.1 L433.1,555.9 L432.9,556.6 L432.6,557.2 L432.3,557.6 L431.8,558 L431.3,558.3 L430.7,558.6 L430,558.8 L429.1,559 L427.7,558.9 L428.3,560 L428.6,560.8 L428.8,561.6 L428.9,562.2 L428.8,562.9 L428.4,564.1 L427.5,565.2 L426.5,565.9 L425.2,566.2 L424,566.1 L423,565.4 L422.1,565.3 L420.8,565.8 L419.5,565.6 L418.4,565 L417.6,564.3 L417.2,563.8 L417,563.3 L416.8,562.7 L416.7,562 L416.7,561.3 L416.8,560.3 L417,559.2 L415.8,559.5 L414.9,559.6 L414.2,559.6 L413.5,559.4 L413,559.2 L412.5,559 L412.1,558.6 L411.6,558.1 L411.3,557.5 L410.9,556.7 L410.6,555.6 L409.8,555.8 L409,556.4 L408.4,556.8 L407.7,557 L407.1,557.2 L406.6,557.2 L406,557.1 L405.4,556.9 L404.8,556.6 L404.1,556.2 L403.4,555.6 L402.6,555.2 L402.2,556.3 L401.8,557 L401.4,557.6 L401,558.1 L400.5,558.4 L400,558.7 L399.4,558.8 L398.8,558.9 L398,558.9 L397.1,558.8 L395.9,558.4 L396,559.4 L396.1,560.4 L396,561.1 L395.9,561.8 L395.7,562.3 L395.4,562.8 L395,563.3 L394.5,563.7 L393.9,564 L393.1,564.5 L392,564.9 L391.3,565.5 L391,566.8 L390.2,567.8 L389,568.4 L387.7,568.6 L386.3,568.4 L385.2,567.8 L384.3,566.8 L383.7,565.6 L383.7,564.7 L384.1,563.8 L384.8,562.7 L383.4,562.7 L382.5,562.5 L381.8,562.3 L381.2,562 L380.8,561.7 L380.4,561.3 L380,560.8 L379.8,560.2 L379.6,559.5 L379.4,558.6 L379.4,557.5 L378.7,557.4 L377.8,557.8 L377,558 L376.3,558 L375.7,558 L375.2,557.9 L374.6,557.7 L374.1,557.3 L373.6,556.9 L373.1,556.3 L372.6,555.5 L371.9,554.8 L371.3,555.7 L370.7,556.4 L370.1,556.8 L369.5,557.1 L369,557.3 L368.4,557.4 L367.8,557.4 L367.2,557.3 L366.5,557.1 L365.7,556.8 L364.7,556.1 L364.4,557 L364.2,557.9 L363.9,558.6 L363.6,559.2 L363.3,559.7 L362.9,560.1 L362.4,560.4 L361.8,560.7 L361.1,560.8 L360.3,561 L359.3,561 L358.7,561.4 L359.1,562.4 L359.3,563.2 L359.3,563.9 L359.3,564.5 L359.2,565.1 L358.9,565.6 L358.6,566.1 L358.2,566.6 L357.6,567.1 L356.8,567.6 L355.5,568.1 L356.6,568.8 L357.2,569.5 L357.7,570.1 L358,570.7 L358.2,571.2 L358.3,571.8 L358.3,572.4 L358.3,573.5 L357.9,574.7 L357.1,575.6 L356.1,576 L356,576.6 L356.6,577.5 L357,578.2 L357.2,578.9 L357.3,579.5 L357.3,580.1 L357.2,580.7 L357,581.2 L356.6,581.8 L356.2,582.5 L355.5,583.2 L354.7,583.9 L355.9,584.4 L356.6,584.9 L357.1,585.5 L357.5,586 L357.8,586.5 L358,587 L358.1,587.7 L358.1,588.3 L357.9,589.1 L357.7,589.9 L357.2,590.9 L358,591.2 L358.9,591.4 L359.7,591.6 L360.3,591.9 L360.9,592.2 L361.3,592.6 L361.6,593.1 L361.9,593.7 L362.1,594.3 L362.3,595.1 L362.3,596.1 L362.7,596.8 L363.7,596.4 L364.5,596.3 L365.3,596.2 L365.9,596.3 L366.5,596.4 L367,596.6 L367.5,597 L368,597.5 L368.5,598.1 L368.9,598.9 L369.4,600.1 L370.2,599.3 L370.9,598.7 L371.5,598.3 L372.2,598 L372.8,597.8 L373.4,597.8 L373.9,597.9 L374.6,598.1 L375.2,598.4 L375.9,598.8 L376.8,599.5 L377.4,599.3 L377.9,598.4 L378.8,597.6 L379.7,597.1 L380.4,596.9 L381.1,596.8 L381.8,596.8 L382.5,597 L383.2,597.3 L383.9,597.8 L384.6,598.5 L385.3,599.5 L386,598.4 L386.7,597.7 L387.4,597.3 L388.1,597 L388.8,596.8 L389.5,596.8 L390.2,596.9 L390.9,597.2 L391.6,597.6 L392.3,598.2 L393,599.1 L393.7,598.7 L394.4,598 L395.1,597.4 L395.8,597.1 L396.5,596.9 L397.2,596.8 L397.9,596.9 L398.6,597.1 L399.3,597.4 L400,597.9 L400.7,598.7 L401.4,599.2 L402.1,598.2 L402.8,597.6 L403.5,597.2 L404.2,596.9 L404.9,596.8 L405.6,596.8 L406.3,597 L407,597.2 L407.7,597.7 L408.4,598.3 L409.1,599.4 L409.8,598.6 L410.5,597.9 L411.2,597.4 L411.9,597 L412.6,596.9 L413.3,596.8 L414,596.9 L414.7,597.1 L415.4,597.5 L416.1,598 L416.8,598.8 L417.5,599 L418.2,598.1 L418.9,597.5 L419.6,597.2 L420.3,596.9 L421,596.8 L421.7,596.8 L422.5,597 L423.2,597.3 L423.9,597.8 L424.6,598.4 L425.3,599.7 L426,598.4 L426.7,597.8 L427.4,597.3 L428.1,597 L428.8,596.8 L429.5,596.8 L430.2,596.9 L430.9,597.2 L431.6,597.6 L432.3,598.1 L433,599 L433.7,598.8 L434.4,598 L435.1,597.5 L435.8,597.1 L436.5,596.9 L437.2,596.8 L437.9,596.9 L438.6,597 L439.3,597.4 L440,597.9 L440.7,598.6 L441.4,599.3 L442.1,598.3 L442.8,597.7 L443.5,597.2 L444.2,597 L444.9,596.8 L445.6,596.8 L446.3,597 L447,597.2 L447.7,597.7 L448.4,598.3 L449.1,599.2 L449.8,598.6 L450.5,597.9 L451.2,597.4 L451.9,597.1 L452.6,596.9 L453.3,596.8 L454,596.9 L454.7,597.1 L455.4,597.5 L456.1,598 L456.8,598.8 L457.5,599 L458.2,598.2 L458.9,597.6 L459.6,597.2 L460.3,596.9 L461,596.8 L461.7,596.8 L462.4,597 L463.1,597.3 L463.8,597.7 L464.5,598.4 L465.2,599.6 L465.9,598.5 L466.6,597.8 L467.3,597.3 L468,597 L468.7,596.8 L469.4,596.8 L470.2,596.9 L471.4,597.2 L472.1,597.8 L472.6,598.5 L473,599.5 L473.7,599.5 L474.5,598.8 L475.1,598.4 L475.8,598.1 L476.4,597.9 L477,597.8 L477.6,597.8 L478.2,598 L478.8,598.3 L479.5,598.7 L480.2,599.2 L481.1,599.9 L481.5,598.7 L481.9,598 L482.3,597.4 L482.8,596.9 L483.3,596.5 L483.8,596.3 L484.4,596.1 L485.1,596.1 L485.8,596.1 L486.7,596.2 L487.8,596.6 L488,595.8 L488,594.9 L488.1,594.1 L488.3,593.4 L488.6,592.8 L488.9,592.4 L489.4,592 L489.9,591.6 L490.5,591.3 L491.3,591.1 L492.3,590.9 L493,590.5 L492.5,589.5 L492.2,588.7 L492,588 L492,587.3 L492.1,586.7 L492.3,586.2 L492.6,585.7 L493,585.1 L493.5,584.6 L494.2,584 L495.4,583.4 L494.5,582.7 L493.8,582.1 L493.3,581.5 L493,580.9 L492.8,580.3 L492.6,579.8 L492.6,579.2 L492.7,578.5 L493,577.8 L493.3,577.1 L493.9,576.2 L493.7,575.3 L492.8,574.3 L492.3,573.5 L492,572.8 L491.8,572.2 L491.8,571.6 L491.8,571.1 L492,570.5 L492.3,569.9 L492.7,569.2 L493.3,568.5 L494.2,567.6 L492.9,567.3 L492.1,566.9 L491.5,566.5 L491,566 L490.6,565.6 L490.4,565.1 L490.2,564.5 L490.1,563.9 L490.1,563.2 L490.2,562.3 L490.4,561.2 L489.8,560.9 L488.8,561 L488,561 L487.3,560.9 L486.7,560.7 L486.2,560.4 L485.8,560.1 L485.4,559.6 L485,559 L484.7,558.3 L484.4,557.4 L483.9,556.6 L483,557.3 L482.3,557.8 L481.6,558 L481,558.2 L480.4,558.3 L479.9,558.2 L479.3,558 L478.7,557.8 L478.1,557.4 L477.4,556.8 L476.6,555.9 L476.1,556.7 L475.7,557.5 L475.2,558.2 L474.8,558.7 L474.3,559 L473.8,559.3 L473.2,559.5 L472.6,559.6 L471.9,559.5 L471.1,559.4 L470.1,559.2 L469.5,559.4 L469.6,560.5 L469.5,561.3 L469.4,562 L469.2,562.6 L468.9,563.1 L468.6,563.5 L468.1,563.9 L467.5,564.3 L466.8,564.6 L465.9,564.9 L464.4,565 L465.4,566.1 L465.9,566.8 L466.2,567.5 L466.3,568.2 L466.3,569.2 L465.8,570.5 L465.1,571.4 L464.2,572.1 L463,572.5 L461.8,572.5 L460.7,572 L459.8,572.2 L458.6,572.8 L457.3,572.8 L456.1,572.4 L455,571.6 L454.3,570.4 L453.9,569.1 L454,568 L454.4,567.4 L454.9,566.7Z" fill="none" stroke="#9aab8a" stroke-width="0.55"/>
<path d="M735.9,568.1 L735.8,567.5 L735.7,566.9 L735.6,566.3 L735.5,565.7 L735.4,565.1 L735.2,564.5 L735,563.9 L734.8,563.3 L734.6,562.7 L734.3,562.2 L734,561.6 L733.8,561 L733.5,560.5 L733.1,560 L732.8,559.4 L732.4,558.9 L732.1,558.4 L731.7,557.9 L731.3,557.5 L730.9,557 L730.4,556.6 L730,556.1 L729.5,555.7 L729.1,555.3 L728.6,554.9 L728.1,554.6 L727.6,554.2 L727,553.9 L726.5,553.5 L726,553.2 L725.4,553 L724.8,552.7 L724.3,552.4 L723.7,552.2 L723.1,552 L722.5,551.8 L721.9,551.6 L721.3,551.5 L720.7,551.4 L720.1,551.3 L719.5,551.2 L718.9,551.1 L718.2,551 L717.6,551 L717,551 L716.4,551 L715.8,551 L715.1,551.1 L714.5,551.2 L713.9,551.3 L713.3,551.4 L712.7,551.5 L712.1,551.6 L711.5,551.8 L710.9,552 L710.3,552.2 L709.7,552.4 L709.2,552.7 L708.6,553 L708,553.2 L707.5,553.5 L707,553.9 L706.4,554.2 L705.9,554.6 L705.4,554.9 L704.9,555.3 L704.5,555.7 L704,556.1 L703.6,556.6 L703.1,557 L702.7,557.5 L702.3,557.9 L701.9,558.4 L701.6,558.9 L701.2,559.4 L700.9,560 L700.5,560.5 L700.2,561 L700,561.6 L699.7,562.2 L699.4,562.7 L699.2,563.3 L699.1,563.7 L699,563.6 L698.8,563 L698.5,562.5 L698.1,562 L697.8,561.4 L697.4,560.9 L697.1,560.4 L696.7,559.9 L696.3,559.5 L695.9,559 L695.4,558.6 L695,558.1 L694.5,557.7 L694.1,557.3 L693.6,556.9 L693.1,556.6 L692.6,556.2 L692,555.9 L691.5,555.5 L691,555.2 L690.4,555 L689.8,554.7 L689.3,554.4 L688.7,554.2 L688.1,554 L687.5,553.8 L686.9,553.6 L686.3,553.5 L685.7,553.4 L685.1,553.3 L684.5,553.2 L683.9,553.1 L683.2,553 L682.6,553 L682,553 L681.4,553 L680.8,553 L680.1,553.1 L679.5,553.2 L678.9,553.3 L678.3,553.4 L677.7,553.5 L677.1,553.6 L676.5,553.8 L675.9,554 L675.3,554.2 L674.7,554.4 L674.2,554.7 L673.6,555 L673,555.2 L672.5,555.5 L672,555.9 L671.4,556.2 L670.9,556.6 L670.4,556.9 L669.9,557.3 L669.5,557.7 L669,558.1 L668.6,558.6 L668.1,559 L667.7,559.5 L667.3,559.9 L666.9,560.4 L666.6,560.9 L666.2,561.4 L665.9,562 L665.5,562.5 L665.2,563 L665,563.6 L664.7,564.2 L664.4,564.7 L664.3,565.2 L664.1,565 L663.8,564.4 L663.4,563.9 L663.1,563.4 L662.7,562.9 L662.3,562.5 L661.9,562 L661.4,561.6 L661,561.1 L660.5,560.7 L660.1,560.3 L659.6,559.9 L659.1,559.6 L658.6,559.2 L658,558.9 L657.5,558.5 L657,558.2 L656.4,558 L655.8,557.7 L655.3,557.4 L654.7,557.2 L654.1,557 L653.5,556.8 L652.9,556.6 L652.3,556.5 L651.7,556.4 L651.1,556.3 L650.5,556.2 L649.9,556.1 L649.2,556 L648.6,556 L648,556 L647.4,556 L646.8,556 L646.1,556.1 L645.5,556.2 L644.9,556.3 L644.3,556.4 L643.7,556.5 L643.1,556.6 L642.5,556.8 L641.9,557 L641.3,557.2 L640.7,557.4 L640.2,557.7 L639.6,558 L639,558.2 L638.5,558.5 L638,558.9 L637.4,559.2 L636.9,559.6 L636.4,559.9 L635.9,560.3 L635.5,560.7 L635,561.1 L634.6,561.6 L634.1,562 L633.7,562.5 L633.3,562.9 L632.9,563.4 L632.6,563.9 L632.2,564.4 L631.9,565 L631.5,565.5 L631.2,566 L631,566.6 L630.7,567.2 L630.4,567.7 L630.2,568.3 L630,568.9 L629.8,569.5 L629.6,570.1 L629.5,570.7 L629.4,571.3 L629.4,571.3 L629.3,571.4 L628.9,572 L628.6,572.6 L628.3,573.3 L628,573.9 L627.7,574.6 L627.4,575.3 L627.2,575.9 L626.9,576.6 L626.7,577.3 L626.6,578 L626.4,578.7 L626.3,579.4 L626.2,580.1 L626.1,580.8 L626,581.6 L626,582.3 L626,583 L626,583.7 L626,584.4 L626.1,585.2 L626.2,585.9 L626.3,586.6 L626.4,587.3 L626.6,588 L626.7,588.7 L626.9,589.4 L627.2,590.1 L627.4,590.7 L627.7,591.4 L628,592.1 L628.3,592.7 L628.6,593.4 L628.9,594 L629.3,594.6 L629.7,595.2 L630.1,595.8 L630.5,596.4 L631,597 L631.5,597.5 L631.9,598 L632.4,598.6 L633,599.1 L633.5,599.5 L634,600 L634.6,600.5 L635.2,600.9 L635.8,601.3 L636.4,601.7 L637,602.1 L637.6,602.4 L638.3,602.7 L638.9,603 L639.6,603.3 L640.3,603.6 L640.9,603.8 L641.6,604.1 L642.3,604.3 L643,604.4 L643.7,604.6 L644.4,604.7 L645.1,604.8 L645.8,604.9 L646.6,605 L647.3,605 L648,605 L648.7,605 L649.4,605 L650.2,604.9 L650.9,604.8 L651.6,604.7 L652.3,604.6 L653,604.4 L653.7,604.3 L654.4,604.1 L654.6,604 L753,604 L753.7,604 L754.4,604 L755.2,603.9 L755.9,603.8 L756.6,603.7 L757.3,603.6 L758,603.4 L758.7,603.3 L759.4,603.1 L760.1,602.8 L760.7,602.6 L761.4,602.3 L762.1,602 L762.7,601.7 L763.4,601.4 L764,601.1 L764.6,600.7 L765.2,600.3 L765.8,599.9 L766.4,599.5 L767,599 L767.5,598.5 L768,598.1 L768.6,597.6 L769.1,597 L769.5,596.5 L770,596 L770.5,595.4 L770.9,594.8 L771.3,594.2 L771.7,593.6 L772.1,593 L772.4,592.4 L772.7,591.7 L773,591.1 L773.3,590.4 L773.6,589.7 L773.8,589.1 L774.1,588.4 L774.3,587.7 L774.4,587 L774.6,586.3 L774.7,585.6 L774.8,584.9 L774.9,584.2 L775,583.4 L775,582.7 L775,582 L775,581.3 L775,580.6 L774.9,579.8 L774.8,579.1 L774.7,578.4 L774.6,577.7 L774.4,577 L774.3,576.3 L774.1,575.6 L774,575.3 L774,575.2 L774,574.6 L774,574 L774,573.4 L774,572.8 L773.9,572.1 L773.8,571.5 L773.7,570.9 L773.6,570.3 L773.5,569.7 L773.4,569.1 L773.2,568.5 L773,567.9 L772.8,567.3 L772.6,566.7 L772.3,566.2 L772,565.6 L771.8,565 L771.5,564.5 L771.1,564 L770.8,563.4 L770.4,562.9 L770.1,562.4 L769.7,561.9 L769.3,561.5 L768.9,561 L768.4,560.6 L768,560.1 L767.5,559.7 L767.1,559.3 L766.6,558.9 L766.1,558.6 L765.6,558.2 L765,557.9 L764.5,557.5 L764,557.2 L763.4,557 L762.8,556.7 L762.3,556.4 L761.7,556.2 L761.1,556 L760.5,555.8 L759.9,555.6 L759.3,555.5 L758.7,555.4 L758.1,555.3 L757.5,555.2 L756.9,555.1 L756.2,555 L755.6,555 L755,555 L754.4,555 L753.8,555 L753.1,555.1 L752.5,555.2 L751.9,555.3 L751.3,555.4 L750.7,555.5 L750.1,555.6 L749.5,555.8 L748.9,556 L748.3,556.2 L747.7,556.4 L747.2,556.7 L746.6,557 L746,557.2 L745.5,557.5 L745,557.9 L744.4,558.2 L743.9,558.6 L743.4,558.9 L742.9,559.3 L742.5,559.7 L742,560.1 L741.6,560.6 L741.1,561 L740.7,561.5 L740.3,561.9 L739.9,562.4 L739.6,562.9 L739.2,563.4 L738.9,564 L738.5,564.5 L738.2,565 L738,565.6 L737.7,566.2 L737.7,566.2 L737.4,566.4 L736.9,567 L736.5,567.5 L736,568 L735.9,568.1 L735.9,568.1Z" fill="#dff5cd" stroke="#e6f7d8" stroke-width="1.2"/>
<path d="M632.5,572 L633.5,573.3 L633.7,574.3 L633.8,575 L633.8,575.7 L633.7,576.3 L633.4,576.8 L633.1,577.3 L632.7,577.8 L632.1,578.3 L631.4,578.8 L630.4,579.2 L630.5,579.9 L631.1,580.7 L631.6,581.3 L631.9,582 L632.1,582.6 L632.2,583.2 L632.2,583.8 L632,584.4 L631.8,585 L631.4,585.7 L630.8,586.5 L630.2,587.3 L631.3,587.7 L632.1,588.1 L632.7,588.5 L633.2,589 L633.6,589.4 L633.8,590 L634,590.6 L634,591.2 L634,592 L633.9,592.8 L633.5,594 L634.3,594.1 L635.3,594.1 L636.1,594.3 L636.7,594.4 L637.3,594.7 L637.8,595 L638.2,595.5 L638.5,596 L638.8,596.7 L639.1,597.4 L639.3,598.4 L639.7,599.1 L640.7,598.5 L641.5,598.3 L642.2,598.1 L642.8,598.1 L643.4,598.1 L644,598.3 L644.5,598.6 L645.1,599 L645.6,599.5 L646.2,600.3 L646.8,601.4 L647.5,600.5 L648.1,599.8 L648.7,599.3 L649.3,599 L649.8,598.7 L650.4,598.6 L651,598.6 L651.7,598.7 L652.4,598.9 L653.4,599.2 L654.3,599.9 L655.1,599.9 L655.8,599.1 L656.5,598.5 L657.2,598.1 L657.9,597.9 L658.6,597.8 L659.3,597.8 L660,598 L660.7,598.3 L661.4,598.8 L662.1,599.5 L662.8,600.5 L663.5,599.4 L664.2,598.7 L664.9,598.3 L665.6,598 L666.3,597.8 L667,597.8 L667.7,597.9 L668.4,598.2 L669.1,598.6 L669.8,599.2 L670.5,600.1 L671.2,599.7 L671.9,599 L672.6,598.4 L673.3,598.1 L674,597.9 L674.7,597.8 L675.4,597.9 L676.1,598.1 L676.8,598.4 L677.5,598.9 L678.2,599.6 L678.9,600.2 L679.6,599.2 L680.3,598.6 L681,598.2 L681.7,597.9 L682.4,597.8 L683.1,597.8 L683.8,598 L684.5,598.2 L685.2,598.7 L685.9,599.3 L686.6,600.3 L687.3,599.6 L688,598.9 L688.7,598.4 L689.4,598 L690.1,597.9 L690.8,597.8 L691.5,597.9 L692.2,598.1 L692.9,598.5 L693.6,599 L694.3,599.8 L695,600 L695.7,599.1 L696.4,598.6 L697.1,598.2 L697.8,597.9 L698.5,597.8 L699.2,597.8 L699.9,598 L700.6,598.3 L701.3,598.8 L702,599.4 L702.7,600.8 L703.4,599.4 L704.1,598.8 L704.8,598.3 L705.5,598 L706.2,597.8 L706.9,597.8 L707.6,597.9 L708.3,598.2 L709,598.6 L709.7,599.1 L710.4,600 L711.1,599.8 L711.8,599 L712.5,598.5 L713.2,598.1 L713.9,597.9 L714.6,597.8 L715.3,597.9 L716,598 L716.7,598.4 L717.4,598.9 L718.1,599.6 L718.8,600.3 L719.5,599.3 L720.2,598.7 L720.9,598.2 L721.6,598 L722.3,597.8 L723,597.8 L723.7,597.9 L724.4,598.2 L725.1,598.6 L725.8,599.2 L726.5,600.2 L727.2,599.6 L727.9,598.9 L728.6,598.4 L729.3,598.1 L730,597.9 L730.7,597.8 L731.4,597.9 L732.1,598.1 L732.8,598.4 L733.5,599 L734.2,599.7 L734.9,600.1 L735.6,599.2 L736.3,598.6 L737,598.2 L737.7,597.9 L738.4,597.8 L739.1,597.8 L739.8,598 L740.5,598.3 L741.2,598.7 L742,599.4 L742.7,600.5 L743.4,599.5 L744.1,598.8 L744.8,598.3 L745.5,598 L746.2,597.8 L746.9,597.8 L747.6,597.9 L748.3,598.1 L749,598.5 L749.7,599.1 L750.4,599.9 L751.1,599.9 L751.8,599.1 L752.5,598.5 L753.1,598.1 L753.7,597.9 L754.3,597.8 L754.9,597.7 L755.5,597.8 L756.1,598 L756.8,598.4 L757.6,598.9 L758.6,599.6 L758.8,598.4 L759.2,597.5 L759.6,596.9 L760,596.4 L760.4,596 L760.9,595.7 L761.5,595.5 L762.2,595.3 L762.9,595.3 L763.8,595.4 L764.9,595.6 L765.1,594.9 L765,593.9 L765.1,593.1 L765.2,592.5 L765.4,591.9 L765.7,591.4 L766.1,590.9 L766.6,590.5 L767.2,590.2 L768,589.9 L768.9,589.6 L769.7,589.2 L769.1,588.2 L768.7,587.5 L768.5,586.8 L768.4,586.1 L768.4,585.5 L768.5,584.9 L768.8,584.4 L769.1,583.8 L769.6,583.2 L770.3,582.6 L771.3,581.9 L770.6,581.3 L769.8,580.7 L769.3,580.2 L768.9,579.6 L768.6,579.1 L768.4,578.5 L768.3,577.9 L768.3,577 L768.5,575.8 L769,575 L769.8,574.3 L770,573.7 L769.1,573.1 L768.5,572.5 L768,572 L767.7,571.5 L767.4,571 L767.3,570.4 L767.3,569.8 L767.4,569.1 L767.6,568.4 L767.9,567.5 L768.7,566.3 L767.3,566.4 L766.4,566.3 L765.7,566.1 L765.1,565.8 L764.6,565.5 L764.2,565.1 L763.8,564.6 L763.6,564 L763.4,563.3 L763.2,562.5 L763.1,561.4 L762.5,561.2 L761.5,561.6 L760.8,561.8 L760.1,561.9 L759.5,561.9 L758.9,561.8 L758.4,561.6 L757.9,561.3 L757.3,560.8 L756.8,560.3 L756.3,559.5 L755.6,558.7 L755,559.7 L754.4,560.3 L753.8,560.8 L753.3,561.2 L752.7,561.4 L752.2,561.5 L751.6,561.5 L751,561.4 L750.3,561.2 L749.4,560.9 L748.4,560.3 L748.1,561.1 L747.9,562 L747.7,562.8 L747.4,563.4 L747.1,563.9 L746.7,564.3 L746.2,564.6 L745.6,564.9 L745,565.1 L744.2,565.2 L743.2,565.3 L742.5,565.6 L742.9,566.6 L743.1,567.4 L743.2,568.1 L742.9,569.2 L742.3,570.3 L741.8,570.8 L741.3,571.1 L740.6,571.4 L739.6,571.9 L738.4,572 L737.2,571.4 L736.5,572.6 L735.4,573.3 L734.2,573.5 L732.8,573.3 L731.7,572.6 L730.8,571.6 L730.2,570.4 L730.1,569.2 L730.4,568.4 L730.9,567.7 L731.6,566.9 L731.4,566.3 L730.5,565.9 L729.8,565.5 L729.2,565.1 L728.8,564.7 L728.4,564.2 L728.2,563.7 L728,563.1 L728,562.4 L728,561.7 L728.1,560.7 L728.4,559.6 L727.2,559.9 L726.3,559.9 L725.6,559.9 L724.9,559.7 L724.4,559.5 L723.9,559.2 L723.5,558.8 L723.1,558.3 L722.7,557.7 L722.4,556.9 L722.1,555.8 L721.3,555.9 L720.5,556.5 L719.8,556.9 L719.2,557.1 L718.6,557.2 L718,557.2 L717.5,557.1 L716.9,556.9 L716.3,556.6 L715.6,556.2 L714.9,555.5 L714.1,555.1 L713.7,556.1 L713.3,556.9 L712.9,557.4 L712.4,557.9 L711.9,558.2 L711.4,558.5 L710.8,558.6 L710.2,558.6 L709.4,558.6 L708.6,558.5 L707.4,558.1 L707.4,559 L707.4,560 L707.3,560.8 L707.2,561.4 L707,562 L706.7,562.4 L706.3,562.9 L705.8,563.2 L705.2,563.6 L704.4,563.9 L703.4,564.1 L703,564.7 L703.4,566 L703.2,567.2 L702.5,568.4 L701.5,569.2 L700.3,569.8 L698.9,569.8 L697.6,569.5 L696.6,568.8 L695.8,567.8 L695.6,566.6 L696.2,565.2 L694.8,565.3 L693.9,565.1 L693.2,564.8 L692.6,564.5 L692.1,564.1 L691.8,563.7 L691.5,563.2 L691.2,562.6 L691.1,561.9 L691,561.1 L691,560 L690.3,559.8 L689.4,560.1 L688.6,560.2 L687.9,560.3 L687.3,560.3 L686.7,560.1 L686.2,559.9 L685.7,559.5 L685.2,559 L684.7,558.4 L684.2,557.6 L683.7,556.8 L682.9,557.7 L682.3,558.3 L681.7,558.8 L681.2,559.1 L680.6,559.3 L680,559.3 L679.5,559.3 L678.8,559.2 L678.1,558.9 L677.3,558.6 L676.4,557.9 L676,558.6 L675.7,559.6 L675.5,560.3 L675.1,560.9 L674.8,561.4 L674.3,561.7 L673.9,562 L673.3,562.3 L672.6,562.4 L671.8,562.5 L670.8,562.5 L670.1,562.8 L670.4,563.8 L670.6,564.6 L670.6,565.3 L670.6,566 L670.4,566.5 L670.1,567.1 L669.5,568.1 L668.5,569 L667.4,569.4 L666.2,569.4 L665,568.6 L664.2,569.7 L663,570.2 L661.7,570.2 L660.4,569.8 L659.4,569 L658.9,568.3 L658.7,567.8 L658.5,567.2 L658.5,566.5 L658.5,565.6 L658.6,564.6 L658.2,564.1 L657.2,564.3 L656.3,564.4 L655.7,564.3 L655.1,564.2 L654.5,564 L654,563.7 L653.6,563.3 L653.2,562.7 L652.8,562.1 L652.4,561.2 L652,560 L651.1,561 L650.4,561.5 L649.8,561.8 L649.2,562.1 L648.6,562.2 L648,562.2 L647.4,562.1 L646.8,561.9 L646.2,561.5 L645.5,561.1 L644.7,560.3 L644.1,560.8 L643.7,561.7 L643.3,562.4 L642.9,562.9 L642.5,563.4 L642,563.7 L641.5,563.9 L640.9,564 L640.2,564.1 L639.4,564.1 L638.5,563.9 L637.6,563.9 L637.8,565.1 L637.8,565.9 L637.8,566.6 L637.6,567.3 L637.4,567.8 L637.1,568.3 L636.7,568.7 L636.2,569.1 L635.5,569.4 L634.7,569.8 L633.5,570.1 L634,570.9 L634.5,571.7Z" fill="none" stroke="#9aab8a" stroke-width="0.55"/>
<path d="M476.6,199.5 L470.6,198 M487.8,205.5 L493.1,210 M489.2,198.8 L495.9,196.5 M479.3,193.4 L476,185.7 M477.9,205.9 L473.3,210.8 M477.9,196.4 L473.3,191.8 M487.1,205.3 L491.7,209.6 M483,193 L483.5,184.9 M477.4,202.7 L472.4,204.5 M482.8,207.9 L483.1,214.8 M486,205.7 L489.4,210.5 M477.7,197.6 L473,194.2 M483.3,195.6 L484,190.2 M489.8,205.8 L497.1,210.6 M487,195.2 L491.5,189.4" stroke="#ae9290" stroke-width="0.6" fill="none"/>
<path d="M483.1,200.2 L476.6,199.5 M487.1,198.9 L476.5,205.5 M476.5,205.5 L470.4,210.1 M483.5,200.3 L482.7,206.2 M482.7,206.2 L483,211.5 M478,200.1 L490,199.7 M490,199.7 L497.5,198.4 M484.6,204.4 L478.7,193.9 M478.7,193.9 L474.9,186.8 M482.1,200.9 L487.8,205.5 M481.7,199.8 L487.7,203.9 M487.7,203.9 L492.9,206.7 M483.3,200 L480.3,207.7 M480.3,207.7 L478,214.4 M483.4,202.5 L489.2,198.8 M483.3,201.4 L473.8,201.8 M473.8,201.8 L465.1,202.6 M483.5,203 L479.3,193.4 M485.9,197.8 L477.9,205.9 M486.3,205 L477.9,196.4 M488.3,201.1 L474.7,200.1 M474.7,200.1 L466.9,199.2 M482.5,200.1 L487.1,205.3 M482.3,199.7 L484.3,193.7 M484.3,193.7 L486,186.4 M485.1,199.9 L474.1,201.2 M474.1,201.2 L465.7,201.4 M487.7,196.6 L478.5,204.4 M478.5,204.4 L474.4,207.7 M486.4,200.3 L477,201.8 M477,201.8 L471.6,202.6 M483.5,204.2 L483,193 M486.1,200.3 L477.4,202.7 M481.6,201.1 L482.8,207.9 M478.7,199.5 L486.7,204.7 M486.7,204.7 L490.9,208.4 M482.3,204.7 L483,192.9 M483,192.9 L483.4,184.8 M480.3,196.5 L486,205.7 M484.6,202.3 L477.7,197.6 M482.5,199.5 L480.6,208.6 M480.6,208.6 L478.8,216.3 M481.1,203.3 L483.3,195.6 M480.8,202 L489.8,205.8 M481.9,202.4 L487,195.2" stroke="#5aa97a" stroke-width="0.6" fill="none"/>
<path d="M486.4,240.4 L491.8,240.8 M481.9,248 L482.8,255.9 M474.4,238.5 L467.8,237 M486.1,234.4 L491.3,228.8 M477.3,235.5 L473.6,231 M479,245.3 L477.1,250.6 M484.1,248.1 L487.1,256.3 M485.2,243.9 L489.4,247.8 M481.7,234.1 L482.3,228.1 M488.1,242.3 L495.1,244.6 M483.7,246.2 L486.5,252.4 M473.2,238.8 L465.5,237.6 M485.2,247.3 L489.5,254.5 M480.2,231.7 L479.4,223.5 M483.4,247.9 L485.9,255.8 M480,245.6 L479.1,251.2" stroke="#ae9290" stroke-width="0.6" fill="none"/>
<path d="M479.2,238.7 L486.4,240.4 M481.6,239.6 L481.9,248 M484.9,239.3 L474.4,238.5 M479.4,240 L487.1,237.6 M487.1,237.6 L493.2,235.1 M480.3,238 L482.4,245.6 M482.4,245.6 L483.9,251.3 M485.6,234.6 L477.4,244.6 M477.4,244.6 L473.9,249.1 M481,241.7 L486.1,234.4 M480.7,239.7 L477.3,235.5 M485.9,246.1 L476,233.4 M476,233.4 L470.9,226.7 M482.4,237 L479,245.3 M480.3,235.4 L484.1,248.1 M475.1,243 L487.4,235.9 M487.4,235.9 L493.8,231.9 M483,237.6 L473.3,242.8 M473.3,242.8 L465.7,245.5 M480.2,239.7 L485.2,243.9 M482.3,240.3 L472.9,240.1 M472.9,240.1 L464.7,240.2 M480.9,240.4 L486.2,241.3 M486.2,241.3 L491.5,242.6 M481.9,244.1 L481.7,234.1 M480.4,238.1 L476.7,244.3 M476.7,244.3 L472.4,248.6 M478.9,240.6 L488.1,242.3 M479.4,237.3 L483.7,246.2 M484.4,240.3 L473.2,238.8 M479.1,237.4 L486.8,245.7 M486.8,245.7 L492.6,251.4 M480.4,238.3 L485.2,247.3 M482.6,235.2 L478.7,246.2 M478.7,246.2 L476.3,252.5 M481.4,241.4 L480.2,231.7 M480.1,238.9 L483.4,247.9 M480.9,237.6 L482.9,245.5 M482.9,245.5 L484.7,251 M477.5,238.5 L486.5,242.4 M486.5,242.4 L491.9,244.8 M481,239.2 L480,245.6 M479.5,239.3 L485.9,240.2 M485.9,240.2 L490.9,240.3" stroke="#5aa97a" stroke-width="0.6" fill="none"/>
<path d="M488.6,272 L493.2,265.1 M489.4,278.2 L494.7,277.5 M483.5,271.8 L482.9,264.5 M481.2,284.2 L478.3,289.4 M475.8,280.2 L467.7,281.4 M481.3,274.6 L478.6,270.3 M488.8,273.3 L493.7,267.7 M478.9,280.4 L473.8,281.9 M482,270.3 L479.9,261.6 M489.4,275.4 L494.8,271.9 M492.5,279.2 L501,279.4 M488.7,283.1 L493.4,287.2 M484.1,273.7 L484.2,268.5 M478.3,278.7 L472.6,278.5 M479.1,283.8 L474.2,288.6 M477,280.2 L470,281.3" stroke="#ae9290" stroke-width="0.6" fill="none"/>
<path d="M483.6,278.1 L489.1,281.7 M489.1,281.7 L494.3,284.4 M480,277.4 L489.7,283.1 M489.7,283.1 L495.3,287.3 M486,274.2 L480.6,282.6 M480.6,282.6 L477.2,286.2 M480,282.5 L488.6,272 M481.6,277.8 L489.4,278.2 M486.4,276.5 L480.6,283.5 M480.6,283.5 L477.2,288 M485.1,282.7 L483.5,271.8 M486.6,276.7 L481.2,284.2 M487.3,277.4 L475.8,280.2 M484.6,279.6 L481.3,274.6 M481.2,278.8 L492.8,279.4 M492.8,279.4 L501.6,279.7 M482,280.6 L488.8,273.3 M484.9,284.3 L483,273.3 M483,273.3 L482.1,267.7 M483.4,278.8 L480.7,274.6 M480.7,274.6 L477.3,270.2 M487.4,283 L476.6,274.1 M476.6,274.1 L469.2,269.2 M484.8,278.1 L478.9,280.4 M485.1,280.5 L482,270.3 M478.5,283.1 L489.4,275.4 M480.2,279.7 L492.5,279.2 M481.1,274.4 L488.7,283.1 M485,278.3 L475.8,281.6 M475.8,281.6 L467.6,284.3 M480.4,276.6 L487.6,282.8 M487.6,282.8 L491.3,286.7 M485.4,282.5 L484.1,273.7 M480.9,273.1 L487.6,287.2 M487.6,287.2 L491.1,295.4 M490.3,278.9 L478.3,278.7 M483.8,279.7 L476,278.5 M476,278.5 L468,278 M486.8,275.2 L479.1,283.8 M483.5,277.6 L485.6,284.5 M485.6,284.5 L487.1,290.1 M485.4,273.6 L480.1,287 M480.1,287 L476.3,294.9 M484.8,279.7 L477,280.2" stroke="#5aa97a" stroke-width="0.6" fill="none"/>
<path d="M499.4,312.8 L492.7,311.6 M504.8,319.7 L503.5,325.4 M506.3,320 L506.6,326.1 M510,317.9 L513.9,321.8 M507.7,319.5 L509.3,325 M498.1,312 L490.2,310.1 M507,308.7 L508.1,303.4 M511.2,315.1 L516.4,316.2 M500,313.7 L494,313.5 M497.6,313.4 L489.3,312.8 M514.7,314.4 L523.5,314.7 M510.9,315.2 L515.8,316.5 M508.6,309.7 L511.1,305.4 M510.4,318.5 L514.7,323.1 M511,316.8 L516,319.7 M508.2,307.2 L510.4,300.4 M512.8,314.4 L519.5,314.7" stroke="#ae9290" stroke-width="0.6" fill="none"/>
<path d="M509.8,316.6 L499.2,310.8 M499.2,310.8 L492.4,307.6 M503.1,316.1 L510.8,310.9 M510.8,310.9 L515.6,307.8 M512,314.4 L499.4,312.8 M510.4,313.7 L500.8,314.1 M500.8,314.1 L495.7,314.3 M501.2,314.5 L512.5,310.9 M512.5,310.9 L519,307.7 M507.9,307.6 L504.8,319.7 M506.1,313.4 L506.3,320 M507,314.6 L508.1,319 M508.1,319 L510.3,323.9 M504.9,312.2 L510,317.9 M504.7,310.2 L507.7,319.5 M506.5,314.4 L498.1,312 M503.5,319.3 L507,308.7 M506.7,310.1 L502.6,321.8 M502.6,321.8 L499.2,329.7 M503.2,313.1 L511.2,315.1 M512.6,314.2 L500,313.7 M506.4,311.9 L499.5,318.9 M499.5,318.9 L492.9,323.9 M509.5,318 L501.6,309.8 M501.6,309.8 L497.2,305.5 M512.2,312.5 L498.5,317.3 M498.5,317.3 L490.9,320.6 M510.4,313.5 L497.6,313.4 M505.5,309.7 L505.1,321.3 M505.1,321.3 L504.1,328.5 M502,313.5 L513.8,317.8 M513.8,317.8 L521.7,321.6 M504.8,314.8 L514.7,314.4 M502.3,312 L510.9,315.2 M510.1,312.1 L500.5,320.1 M500.5,320.1 L495.1,326.2 M507.1,314.4 L508.6,309.7 M504.6,312.4 L510.4,318.5 M504.1,313.4 L511,316.8 M505.6,315.8 L508.2,307.2 M503.3,312.4 L511.6,317 M511.6,317 L517.1,320 M503.1,314.5 L512.8,314.4" stroke="#5aa97a" stroke-width="0.6" fill="none"/>
<path d="M592.8,188.7 L585.6,187.4 M606.3,187.9 L612.7,185.8 M598.9,197.3 L597.7,204.7 M601.7,183.6 L603.4,177.3 M599.5,181.1 L599,172.2 M596.8,195.4 L593.6,200.7 M598.4,198.6 L596.9,207.2 M604.7,184.3 L609.5,178.7 M593.5,190.3 L586.9,190.5 M597.1,197.1 L594.3,204.2 M597.9,185.4 L595.8,180.7 M592.4,186.5 L584.8,183 M605.6,193.9 L611.2,197.8 M607.1,189.5 L614.2,189" stroke="#ae9290" stroke-width="0.6" fill="none"/>
<path d="M606.2,192.1 L592.8,188.7 M597,190.6 L606.3,187.9 M601.5,184.2 L598.9,197.3 M601.1,186.3 L599.8,197.2 M599.8,197.2 L599.5,204.4 M600.3,191.5 L596,185.4 M596,185.4 L592,180.7 M601.5,192.1 L594.1,187.1 M594.1,187.1 L588.3,184.2 M598.9,191 L599.9,181.8 M599.9,181.8 L599.9,173.5 M598.3,195.6 L601.7,183.6 M600,191.4 L599.5,181.1 M599.4,188.4 L600.6,196.1 M600.6,196.1 L601.2,202.2 M604.1,187 L595.1,193.3 M595.1,193.3 L590.2,196.5 M600.9,192.3 L600.5,181.2 M600.5,181.2 L600.9,172.3 M603.1,185.6 L596.8,195.4 M599.9,186.5 L598.4,198.6 M601.8,184.4 L599.1,196.9 M599.1,196.9 L598.3,203.9 M599,185.3 L599.9,197.8 M599.9,197.8 L599.8,205.5 M602.9,185.5 L594.4,196.1 M594.4,196.1 L588.9,202.2 M599.4,195.4 L601.6,184.2 M601.6,184.2 L603.3,178.4 M597.8,192.2 L604.7,184.3 M600.6,191.3 L593.5,190.3 M596.4,191.4 L608.3,189.1 M608.3,189.1 L616.5,188.2 M602,184.7 L597.1,197.1 M600.1,195.1 L598.7,182.6 M598.7,182.6 L597.3,175.2 M601.9,189.9 L591.6,190.8 M591.6,190.8 L583.3,191.6 M595.1,192.9 L605.8,187.6 M605.8,187.6 L611.7,185.1 M599.8,191.7 L597.9,185.4 M595.5,189.1 L604.9,192.1 M604.9,192.1 L609.9,194.1 M602.7,190.1 L592.4,186.5 M596.7,187.5 L605.6,193.9 M595.7,191.1 L607.1,189.5" stroke="#5aa97a" stroke-width="0.6" fill="none"/>
<path d="M590.7,224.3 L583.4,221 M596.5,220.3 L595,213.2 M596.9,221.1 L595.7,214.8 M595.5,232.5 L592.9,237.5 M603.3,231.2 L608.6,235 M604.8,228 L611.6,228.4 M592.5,226.1 L587.1,224.7 M600.4,221.5 L602.7,215.5 M600.8,222 L603.5,216.4 M605.8,225.6 L613.7,223.8 M598.9,234.6 L599.8,241.7 M591.7,229.9 L585.4,232.4 M601.7,221.9 L605.3,216.3 M603.4,230.9 L608.8,234.3 M594.6,233.3 L591.1,239.2" stroke="#ae9290" stroke-width="0.6" fill="none"/>
<path d="M603.4,228.2 L590.4,225.1 M590.4,225.1 L582.8,222.7 M603.4,228.7 L590.7,224.3 M598.5,233.3 L596.5,220.3 M598.6,226.3 L596.9,221.1 M597.2,227.7 L595.5,232.5 M595.2,223.8 L600.8,232 M600.8,232 L603.6,236.4 M599.6,227.7 L591.5,227.7 M591.5,227.7 L584.9,227.9 M604.3,228.1 L590,227.3 M590,227.3 L582,227.2 M593.6,225.1 L603.3,231.2 M603,228.4 L592.9,224.6 M592.9,224.6 L587.9,221.7 M596,228.1 L605.3,232.4 M605.3,232.4 L612.6,237.3 M592,227.9 L604.8,228 M598,227.5 L591.9,229.8 M591.9,229.8 L585.8,232.2 M600.9,229.6 L592.5,226.1 M597,230.7 L598.9,222.3 M598.9,222.3 L599.8,217.1 M596.9,231.4 L599.5,222.8 M599.5,222.8 L601,218 M595.1,232.3 L600.4,221.5 M598.8,228.6 L600.8,222 M600,232.1 L596.3,222.1 M596.3,222.1 L594.6,216.7 M593.9,232.4 L601.8,223.8 M601.8,223.8 L605.7,220 M595.5,227.5 L605.8,225.6 M597.3,225.3 L598.9,234.6 M602.5,226.4 L591.7,229.9 M600.3,228.1 L592.7,223.9 M592.7,223.9 L587.4,220.3 M598.9,224.6 L593.6,232.2 M593.6,232.2 L589.2,236.9 M594.6,224.7 L602.7,232 M602.7,232 L607.5,236.5 M595.4,230 L601.7,221.9 M602.3,225.4 L592.7,228.7 M592.7,228.7 L587.4,229.8 M597.3,226.9 L603.4,230.9 M600.1,224 L594.6,233.3" stroke="#5aa97a" stroke-width="0.6" fill="none"/>
<path d="M589.3,268.4 L582.6,274.3 M596.6,269.5 L597.2,276.5 M596.5,268.2 L597.1,274 M595.3,257.3 L594.5,252 M593.9,269.1 L591.8,275.8 M594.9,270.7 L593.8,278.9 M596,253.9 L596,245.3 M590.2,259.6 L584.3,256.8 M591.1,265.1 L586.2,267.6 M589.4,264.8 L582.9,267 M589.5,265.7 L583,268.9 M603.6,261.4 L611.1,260.2 M593.7,256.3 L591.4,250.1 M591,259.9 L586,257.2 M600.1,257.5 L604.2,252.4" stroke="#ae9290" stroke-width="0.6" fill="none"/>
<path d="M600,258.3 L591.8,270.4 M591.8,270.4 L587.5,278.2 M595.2,262.3 L603.5,262.5 M603.5,262.5 L611,262.5 M602.2,263.4 L589,260.6 M589,260.6 L582,258.6 M595.4,263.8 L601,258.3 M601,258.3 L606,254.1 M596.4,259.7 L599.1,269.7 M599.1,269.7 L602.2,276.8 M597.8,261.7 L589.3,268.4 M596,258.4 L597.8,269.2 M597.8,269.2 L599.6,275.9 M595,260.1 L596.6,269.5 M594.6,260.7 L596.5,268.2 M592.1,262.9 L602.6,259.8 M602.6,259.8 L609.3,257.2 M595.7,266.9 L595.3,257.3 M593.3,257.5 L599.3,266.9 M599.3,266.9 L602.6,271.3 M595.4,262.7 L595,268.5 M595,268.5 L594,274.5 M596.7,261.4 L593.9,269.1 M595.7,256.5 L594.9,270.7 M596.5,262.7 L596,253.9 M599,264.2 L590.2,259.6 M596.7,261.9 L591.1,265.1 M596.9,262.4 L588.5,266.7 M588.5,266.7 L581,270.9 M596.1,266.8 L596.4,256.1 M596.4,256.1 L596.8,249.8 M600.9,263.5 L587.3,261.6 M587.3,261.6 L578.6,260.6 M597.6,261.5 L589.4,264.8 M599.2,261 L589.5,265.7 M592.6,261.7 L603.6,261.4 M597.8,261.2 L591.1,267.2 M591.1,267.2 L586.3,271.8 M598.7,268.7 L593.7,256.3 M601.9,265.4 L591,259.9 M592.2,264.3 L600.9,257.5 M600.9,257.5 L605.8,252.4 M595.1,264.1 L600.1,257.5 M595.5,269.5 L596,256.3 M596,256.3 L596,250.1" stroke="#5aa97a" stroke-width="0.6" fill="none"/>
<ellipse cx="515.1" cy="204.4" rx="3.3" ry="2.2" transform="rotate(-80 515.1 204.4)" fill="#4e8a3c"/><ellipse cx="519.8" cy="208.4" rx="3.3" ry="2.2" transform="rotate(-20 519.8 208.4)" fill="#4e8a3c"/><ellipse cx="518.7" cy="214.5" rx="3.3" ry="2.2" transform="rotate(40 518.7 214.5)" fill="#4e8a3c"/><ellipse cx="512.9" cy="216.6" rx="3.3" ry="2.2" transform="rotate(100 512.9 216.6)" fill="#4e8a3c"/><ellipse cx="508.2" cy="212.6" rx="3.3" ry="2.2" transform="rotate(160 508.2 212.6)" fill="#4e8a3c"/><ellipse cx="509.3" cy="206.5" rx="3.3" ry="2.2" transform="rotate(220 509.3 206.5)" fill="#4e8a3c"/>
<circle cx="514" cy="210.5" r="4.6" fill="#6f8fd0"/>
<circle cx="514" cy="210.5" r="1.6" fill="#b8c8ee"/>
<ellipse cx="574.1" cy="203.4" rx="3.3" ry="2.2" transform="rotate(-80 574.1 203.4)" fill="#4e8a3c"/><ellipse cx="578.8" cy="207.4" rx="3.3" ry="2.2" transform="rotate(-20 578.8 207.4)" fill="#4e8a3c"/><ellipse cx="577.7" cy="213.5" rx="3.3" ry="2.2" transform="rotate(40 577.7 213.5)" fill="#4e8a3c"/><ellipse cx="571.9" cy="215.6" rx="3.3" ry="2.2" transform="rotate(100 571.9 215.6)" fill="#4e8a3c"/><ellipse cx="567.2" cy="211.6" rx="3.3" ry="2.2" transform="rotate(160 567.2 211.6)" fill="#4e8a3c"/><ellipse cx="568.3" cy="205.5" rx="3.3" ry="2.2" transform="rotate(220 568.3 205.5)" fill="#4e8a3c"/>
<circle cx="573" cy="209.5" r="4.6" fill="#6f8fd0"/>
<circle cx="573" cy="209.5" r="1.6" fill="#b8c8ee"/>
<path d="M604,298 Q612.4,293.8 619.6,298 M604,298 Q609.6,305.8 617.3,306.9 M604,298 Q605,309.7 614.8,314.4 M604,298 Q606.3,307.3 602.9,313.9 M604,298 Q594.2,304.9 594.3,315.4 M604,298 Q592.2,298.8 587.2,308.5 M604,298 Q595.6,303.3 587.7,301 M604,298 Q594,297.9 588.5,292.1 M604,298 Q598,288 589.2,285.4 M604,298 Q597.3,290.2 598.7,281.6 M604,298 Q600.4,287.7 607.1,280.1 M604,298 Q614.3,292.2 616,282.3 M604,298 Q610.4,289.9 619.3,290.1" stroke="#cdd2c8" stroke-width="1.2" fill="none" stroke-linecap="round"/>
<path d="M605.7,293 L603.5,294.2 L603.2,296.3 L602.3,294.6 L600.1,295.2 L601.2,293 L600.1,291.2 L602.1,291.9 L603.9,290.3 L603.7,292.5Z" fill="#5d60de"/>
<path d="M612.1,298.7 L610.2,298.8 L609.9,301.2 L608.4,299.4 L606.6,300.3 L607.6,298 L606.3,296.4 L608.6,296.8 L609.4,295 L610.2,297.5Z" fill="#5d60de"/>
<path d="M604.3,302.3 L602.3,302.8 L602.2,305.1 L600.6,303.4 L598.3,303.6 L599.7,302.1 L598.2,300.6 L600.4,300.8 L601.5,298.9 L602.3,301.4Z" fill="#5d60de"/>
<path d="M627,320 Q636.1,315.5 643.9,318.3 M627,320 Q631.1,330.6 641.8,332 M627,320 Q629.4,331.6 638.9,335.8 M627,320 Q623.6,331.5 630.5,339.7 M627,320 Q623,327.8 624.6,334.5 M627,320 Q615.5,322.4 611.4,332 M627,320 Q619,327.9 609.1,325.4 M627,320 Q615.9,324.2 607.3,318.9 M627,320 Q616.8,313.8 614.4,304.6 M627,320 Q621.1,311.9 624.2,303.5 M627,320 Q633.8,310.5 632.6,301.4 M627,320 Q630.3,310.2 639,307.5 M627,320 Q637,321.7 643.3,315.2" stroke="#cdd2c8" stroke-width="1.2" fill="none" stroke-linecap="round"/>
<path d="M629.2,315.5 L627.1,316 L626.4,318.3 L625.4,316.3 L623.4,316.8 L624.7,315.1 L623.5,313.2 L625.8,313.7 L627.6,312.3 L627.3,314.4Z" fill="#5d60de"/>
<path d="M635,320.6 L633,322 L633.3,324 L631.4,322.5 L629.2,323 L630.5,321.1 L629.6,318.9 L631.3,319.9 L633.1,318.2 L633,320.4Z" fill="#5d60de"/>
<path d="M628.6,325.3 L626.7,325.3 L626.4,327.8 L625,326.1 L622.8,326.5 L624,324.5 L622.9,322.8 L625.2,323.4 L626.1,321.6 L626.5,323.9Z" fill="#5d60de"/>
<path d="M661,344 Q667.6,349.5 675.1,346.7 M661,344 Q669.5,344.8 673.9,349.9 M661,344 Q669,349.8 667.5,359.1 M661,344 Q658.8,352.1 663,357.9 M661,344 Q655.8,351.3 657.2,358.5 M661,344 Q651.1,349.2 648.2,357.6 M661,344 Q650.4,342.9 644.9,351.4 M661,344 Q652.7,337 643.6,339.2 M661,344 Q651,341.8 646.7,334.6 M661,344 Q661.7,332.8 653.1,327 M661,344 Q659.4,334.2 664,327.7 M661,344 Q669.6,337.1 669.6,327.8 M661,344 Q666.2,336.9 673,335.5" stroke="#cdd2c8" stroke-width="1.2" fill="none" stroke-linecap="round"/>
<path d="M662.1,339.1 L660.1,340.1 L659.8,342.5 L658.7,340.8 L656.6,341.7 L657.5,339.3 L656.1,337.9 L658.5,338.1 L660.3,336.6 L659.9,338.5Z" fill="#5d60de"/>
<path d="M669.2,344.3 L667.2,344.9 L666.5,347.4 L665.5,345.5 L663.2,345.8 L664.6,344.1 L663.8,341.9 L665.5,342.9 L667.5,341.4 L667,343.3Z" fill="#5d60de"/>
<path d="M661.2,348.4 L659.3,348.6 L658.8,351.1 L657.8,349.4 L655.6,350.1 L656.6,348.1 L655.2,346.5 L657.8,346.6 L658.5,344.8 L659.2,347.3Z" fill="#5d60de"/>
<path d="M682,369 Q692.4,374.2 701.3,369.9 M682,369 Q688.4,378 698.3,377.4 M682,369 Q691.9,374.9 691.4,385.7 M682,369 Q684.8,378.2 680.9,385 M682,369 Q675.4,375.2 675.3,382.5 M682,369 Q673.9,372.6 672.2,380 M682,369 Q673,365.7 666.4,371.9 M682,369 Q673.4,372.9 666.4,368 M682,369 Q672.6,366.2 670,357.9 M682,369 Q680.8,360.5 675.1,356.4 M682,369 Q676.8,358.4 683.2,349.3 M682,369 Q681.3,357.9 689.8,352.2 M682,369 Q691.9,366.7 695.3,358.6" stroke="#cdd2c8" stroke-width="1.2" fill="none" stroke-linecap="round"/>
<path d="M682,364.6 L680,365.9 L679.4,368.3 L678.5,366.5 L675.9,366.5 L677.4,365.2 L676.1,363.4 L678.2,363.9 L679.4,362 L679.9,364.3Z" fill="#5d60de"/>
<path d="M690.2,368.5 L688.1,369.4 L688.4,371.3 L686.5,369.8 L684.7,370.8 L685.6,368.6 L684.2,366.8 L686.8,367.1 L687.8,365.4 L688.2,367.8Z" fill="#5d60de"/>
<path d="M682.4,373.7 L680.4,373.8 L679.9,376.3 L678.6,374.4 L676.6,375.1 L677.8,373.2 L676.4,371.6 L678.6,371.9 L680,370 L680.4,372.4Z" fill="#5d60de"/>
<path d="M558.3,335 L540,332 L520,331 L500,331.5 L486.7,333.3 L472,338.5 L460,346.7 L448,356 L440,366.7 L434,377 L431.7,386.7 L430.8,396 L431.7,406.7 L434.5,419 L440,433.3 L447,446.5 L456.7,460 L467,473 L480,486.7 L496,498.5 L513.3,510 L530,520.5 L546.7,530 L562,536.5 L576.7,541.7" fill="none" stroke="#cdcac6" stroke-width="0.8"/>
<path d="M670.3,388 L682,396 L693.9,406 L704,417.5 L713.3,431 L721,446 L727.2,461.7 L731,475.5 L732.8,489.4 L732.2,502 L730,514.4 L724,524.5 L716,533.9 L704,541.5 L691,547.8 L677,551.5 L663.3,553.3 L639.7,553.9" fill="none" stroke="#cdcac6" stroke-width="0.8"/>
<path d="M519.7,332.2V337.2M517.2,333.7L519.7,337.2L522.2,333.7 M473.7,347.5V352.5M471.2,349L473.7,352.5L476.2,349 M504.4,347.5V352.5M501.9,349L504.4,352.5L506.9,349 M535,347.5V352.5M532.5,349L535,352.5L537.5,349 M565.8,347.5V352.5M563.2,349L565.8,352.5L568.2,349 M458.3,362.8V367.8M455.8,364.3L458.3,367.8L460.8,364.3 M489,362.8V367.8M486.5,364.3L489,367.8L491.5,364.3 M519.7,362.8V367.8M517.2,364.3L519.7,367.8L522.2,364.3 M550.4,362.8V367.8M547.9,364.3L550.4,367.8L552.9,364.3 M581.1,362.8V367.8M578.6,364.3L581.1,367.8L583.6,364.3 M473.7,378.2V383.2M471.2,379.7L473.7,383.2L476.2,379.7 M504.4,378.2V383.2M501.9,379.7L504.4,383.2L506.9,379.7 M535,378.2V383.2M532.5,379.7L535,383.2L537.5,379.7 M565.8,378.2V383.2M563.2,379.7L565.8,383.2L568.2,379.7 M596.5,378.2V383.2M594,379.7L596.5,383.2L599,379.7 M458.3,393.5V398.5M455.8,395L458.3,398.5L460.8,395 M489,393.5V398.5M486.5,395L489,398.5L491.5,395 M519.7,393.5V398.5M517.2,395L519.7,398.5L522.2,395 M550.4,393.5V398.5M547.9,395L550.4,398.5L552.9,395 M581.1,393.5V398.5M578.6,395L581.1,398.5L583.6,395 M611.8,393.5V398.5M609.3,395L611.8,398.5L614.3,395 M673.2,393.5V398.5M670.7,395L673.2,398.5L675.7,395 M473.7,408.8V413.8M471.2,410.3L473.7,413.8L476.2,410.3 M504.4,408.8V413.8M501.9,410.3L504.4,413.8L506.9,410.3 M535,408.8V413.8M532.5,410.3L535,413.8L537.5,410.3 M565.8,408.8V413.8M563.2,410.3L565.8,413.8L568.2,410.3 M596.5,408.8V413.8M594,410.3L596.5,413.8L599,410.3 M688.5,408.8V413.8M686,410.3L688.5,413.8L691,410.3 M458.3,424.1V429.1M455.8,425.6L458.3,429.1L460.8,425.6 M489,424.1V429.1M486.5,425.6L489,429.1L491.5,425.6 M519.7,424.1V429.1M517.2,425.6L519.7,429.1L522.2,425.6 M550.4,424.1V429.1M547.9,425.6L550.4,429.1L552.9,425.6 M581.1,424.1V429.1M578.6,425.6L581.1,429.1L583.6,425.6 M611.8,424.1V429.1M609.3,425.6L611.8,429.1L614.3,425.6 M673.2,424.1V429.1M670.7,425.6L673.2,429.1L675.7,425.6 M703.9,424.1V429.1M701.4,425.6L703.9,429.1L706.4,425.6 M473.7,439.5V444.5M471.2,441L473.7,444.5L476.2,441 M504.4,439.5V444.5M501.9,441L504.4,444.5L506.9,441 M535,439.5V444.5M532.5,441L535,444.5L537.5,441 M565.8,439.5V444.5M563.2,441L565.8,444.5L568.2,441 M596.5,439.5V444.5M594,441L596.5,444.5L599,441 M688.5,439.5V444.5M686,441L688.5,444.5L691,441 M458.3,454.8V459.8M455.8,456.3L458.3,459.8L460.8,456.3 M489,454.8V459.8M486.5,456.3L489,459.8L491.5,456.3 M519.7,454.8V459.8M517.2,456.3L519.7,459.8L522.2,456.3 M550.4,454.8V459.8M547.9,456.3L550.4,459.8L552.9,456.3 M581.1,454.8V459.8M578.6,456.3L581.1,459.8L583.6,456.3 M611.8,454.8V459.8M609.3,456.3L611.8,459.8L614.3,456.3 M673.2,454.8V459.8M670.7,456.3L673.2,459.8L675.7,456.3 M703.9,454.8V459.8M701.4,456.3L703.9,459.8L706.4,456.3 M473.7,470.1V475.1M471.2,471.6L473.7,475.1L476.2,471.6 M504.4,470.1V475.1M501.9,471.6L504.4,475.1L506.9,471.6 M535,470.1V475.1M532.5,471.6L535,475.1L537.5,471.6 M565.8,470.1V475.1M563.2,471.6L565.8,475.1L568.2,471.6 M596.5,470.1V475.1M594,471.6L596.5,475.1L599,471.6 M688.5,470.1V475.1M686,471.6L688.5,475.1L691,471.6 M719.2,470.1V475.1M716.8,471.6L719.2,475.1L721.8,471.6 M489,485.5V490.5M486.5,487L489,490.5L491.5,487 M519.7,485.5V490.5M517.2,487L519.7,490.5L522.2,487 M550.4,485.5V490.5M547.9,487L550.4,490.5L552.9,487 M581.1,485.5V490.5M578.6,487L581.1,490.5L583.6,487 M611.8,485.5V490.5M609.3,487L611.8,490.5L614.3,487 M673.2,485.5V490.5M670.7,487L673.2,490.5L675.7,487 M703.9,485.5V490.5M701.4,487L703.9,490.5L706.4,487 M535,500.8V505.8M532.5,502.3L535,505.8L537.5,502.3 M565.8,500.8V505.8M563.2,502.3L565.8,505.8L568.2,502.3 M596.5,500.8V505.8M594,502.3L596.5,505.8L599,502.3 M688.5,500.8V505.8M686,502.3L688.5,505.8L691,502.3 M719.2,500.8V505.8M716.8,502.3L719.2,505.8L721.8,502.3 M550.4,516.1V521.1M547.9,517.6L550.4,521.1L552.9,517.6 M581.1,516.1V521.1M578.6,517.6L581.1,521.1L583.6,517.6 M673.2,516.1V521.1M670.7,517.6L673.2,521.1L675.7,517.6 M703.9,516.1V521.1M701.4,517.6L703.9,521.1L706.4,517.6 M565.8,531.5V536.5M563.2,533L565.8,536.5L568.2,533 M688.5,531.5V536.5M686,533L688.5,536.5L691,533" fill="none" stroke="#d9d9d9" stroke-width="0.6"/>
<polyline points="581.7,61.4 573.3,61.4 555,86.6" stroke="#c2c2c2" stroke-width="0.8" fill="none"/>
<polygon points="549.4,93.5 554.1,84.5 557.3,87" fill="#111"/>
<polyline points="853.5,145.3 847,145.3 776.5,199.7" stroke="#c2c2c2" stroke-width="0.8" fill="none"/>
<polygon points="768.3,204.6 775.9,197.8 777.9,201.2" fill="#111"/>
<polyline points="857.5,212.5 848.8,212.5 798.4,248.9" stroke="#c2c2c2" stroke-width="0.8" fill="none"/>
<polygon points="789.2,253.7 797.1,247.3 799,250.8" fill="#111"/>
<polyline points="1017.5,257.3 1008.3,257.3 950,297.5" stroke="#c2c2c2" stroke-width="0.8" fill="none"/>
<polygon points="941.5,302.5 949.1,295.7 951.1,299.2" fill="#111"/>
<polyline points="287.7,228.6 295.8,228.6 328.8,267.8" stroke="#c2c2c2" stroke-width="0.8" fill="none"/>
<polygon points="335.1,275.5 327.2,269 330.3,266.5" fill="#111"/>
<polyline points="872.5,436.2 863.8,436.2 845.4,453.8" stroke="#c2c2c2" stroke-width="0.8" fill="none"/>
<polygon points="837.9,459.6 844.6,451.9 847,455" fill="#111"/>
<polyline points="305.6,492.5 314,492.5 317.8,508.1" stroke="#c2c2c2" stroke-width="0.8" fill="none"/>
<polygon points="320.6,517.8 315.9,508.7 319.7,507.6" fill="#111"/>
<polyline points="342.4,671 350.7,671 420.8,598.8" stroke="#c2c2c2" stroke-width="0.8" fill="none"/>
<polygon points="427.1,591.8 421.9,600.6 418.9,597.9" fill="#111"/>
<polyline points="592.4,664 601,664 578.5,620.2" stroke="#c2c2c2" stroke-width="0.8" fill="none"/>
<polygon points="573.1,611.9 580.2,619.2 576.9,621.4" fill="#111"/>
<polyline points="670.9,650.3 662.1,650.3 654.8,616.3" stroke="#c2c2c2" stroke-width="0.8" fill="none"/>
<polygon points="652.4,606.5 656.7,615.7 652.8,616.7" fill="#111"/>
<polyline points="850,644.4 841,644.4 728.9,499.7" stroke="#c2c2c2" stroke-width="0.8" fill="none"/>
<polygon points="723,492.5 730.9,499 727.8,501.5" fill="#111"/>
<circle cx="322" cy="604.4" r="5.8" fill="#fff" stroke="#c8c8c8" stroke-width="0.8"/>
<circle cx="401" cy="604.4" r="5.8" fill="#fff" stroke="#c8c8c8" stroke-width="0.8"/>
<circle cx="479.5" cy="604.4" r="5.8" fill="#fff" stroke="#c8c8c8" stroke-width="0.8"/>
<circle cx="627.5" cy="604.4" r="5.8" fill="#fff" stroke="#c8c8c8" stroke-width="0.8"/>
<circle cx="706" cy="604.4" r="5.8" fill="#fff" stroke="#c8c8c8" stroke-width="0.8"/>
<circle cx="784.5" cy="604.4" r="5.8" fill="#fff" stroke="#c8c8c8" stroke-width="0.8"/>
<rect x="536.5" y="583.2" width="72" height="21.2" fill="#fff" stroke="#b8b0b8" stroke-width="0.8"/>
<line x1="542.6" y1="583.2" x2="542.6" y2="604.4" stroke="#b8b0b8" stroke-width="0.8"/>
<line x1="552.6" y1="583.2" x2="552.6" y2="604.4" stroke="#b8b0b8" stroke-width="0.8"/>
<line x1="563.5" y1="583.2" x2="563.5" y2="604.4" stroke="#b8b0b8" stroke-width="0.8"/>
<line x1="573.6" y1="583.2" x2="573.6" y2="604.4" stroke="#b8b0b8" stroke-width="0.8"/>
<line x1="583.8" y1="583.2" x2="583.8" y2="604.4" stroke="#b8b0b8" stroke-width="0.8"/>
<line x1="593.7" y1="583.2" x2="593.7" y2="604.4" stroke="#b8b0b8" stroke-width="0.8"/>
<line x1="602.3" y1="583.2" x2="602.3" y2="604.4" stroke="#b8b0b8" stroke-width="0.8"/>
<line x1="536.5" y1="588.5" x2="608.5" y2="588.5" stroke="#b8b0b8" stroke-width="0.8"/>
<line x1="536.5" y1="598.2" x2="608.5" y2="598.2" stroke="#b8b0b8" stroke-width="0.8"/>
<rect x="536.4" y="583.2" width="6.2" height="6.3" fill="#a47a18"/>
<rect x="536.4" y="598" width="6.2" height="6.3" fill="#a47a18"/>
<rect x="602.3" y="583.2" width="6.2" height="6.3" fill="#a47a18"/>
<rect x="602.3" y="598" width="6.2" height="6.3" fill="#a47a18"/>
<g font-family="Liberation Sans, sans-serif" stroke="#ffffff" stroke-width="0.3" stroke-opacity="0.6">
<text x="582.4" y="59.4" font-size="11.3" fill="#262626" textLength="83.7" lengthAdjust="spacingAndGlyphs">LARGE FORMAT</text>
<text x="582.4" y="73.4" font-size="11.3" fill="#262626" textLength="122.2" lengthAdjust="spacingAndGlyphs">PAVERS TO VERANDAH</text>
<text x="855.2" y="143.5" font-size="11.3" fill="#262626" textLength="90.2" lengthAdjust="spacingAndGlyphs">DRY STONE WALL</text>
<text x="855.2" y="157.7" font-size="11.3" fill="#262626" textLength="110.7" lengthAdjust="spacingAndGlyphs">CIRCA 300 MM WIDE</text>
<text x="857.7" y="217.6" font-size="11.3" fill="#262626" textLength="79.2" lengthAdjust="spacingAndGlyphs">COFFEE NOOK</text>
<text x="1018.7" y="247.5" font-size="11.3" fill="#262626" textLength="131.4" lengthAdjust="spacingAndGlyphs">BORROWED LANDSCAPE</text>
<text x="1018.7" y="261.6" font-size="11.3" fill="#262626" textLength="84.7" lengthAdjust="spacingAndGlyphs">CREATES SHADE</text>
<text x="1018.7" y="275.6" font-size="11.3" fill="#262626" textLength="70.4" lengthAdjust="spacingAndGlyphs">FOR OUR SITE</text>
<text x="157" y="233.5" font-size="11.3" fill="#262626" textLength="130.1" lengthAdjust="spacingAndGlyphs">LIGHT SCREEN PLANTING</text>
<text x="874.2" y="440.9" font-size="11.3" fill="#262626" textLength="136.3" lengthAdjust="spacingAndGlyphs">HEAVY SCREEN PLANTING</text>
<text x="124.1" y="476.2" font-size="11.3" fill="#262626" textLength="156.8" lengthAdjust="spacingAndGlyphs">REMOVE TWO EXISTING TREES.</text>
<text x="124.1" y="490.3" font-size="11.3" fill="#262626" textLength="125.6" lengthAdjust="spacingAndGlyphs">REPLACE WITH LAYERED</text>
<text x="124.1" y="504.4" font-size="11.3" fill="#262626" textLength="179.5" lengthAdjust="spacingAndGlyphs">PLANTING GRADING FROM SMALL</text>
<text x="124.1" y="518.4" font-size="11.3" fill="#262626" textLength="142" lengthAdjust="spacingAndGlyphs">TO MEDIUM AT FENCE LINE.</text>
<text x="303" y="676.2" font-size="11.3" fill="#262626" textLength="38.3" lengthAdjust="spacingAndGlyphs">HEDGE</text>
<text x="440.9" y="662.5" font-size="11.3" fill="#262626" textLength="150.5" lengthAdjust="spacingAndGlyphs">CUSTOM ARBOR INCLUDING</text>
<text x="466.6" y="676.6" font-size="11.3" fill="#262626" textLength="99.8" lengthAdjust="spacingAndGlyphs">GATE AND PAVERS</text>
<text x="691.2" y="633.6" font-size="11.3" fill="#262626" textLength="116.9" lengthAdjust="spacingAndGlyphs">WOODEN FENCE AND</text>
<text x="675.1" y="647.9" font-size="11.3" fill="#262626" textLength="149.4" lengthAdjust="spacingAndGlyphs">CUSTOM ARBOR ENTRANCE,</text>
<text x="671.9" y="662.3" font-size="11.3" fill="#262626" textLength="155.2" lengthAdjust="spacingAndGlyphs">DESIGN AND CONSTRUCTION</text>
<text x="723.6" y="676.4" font-size="11.3" fill="#262626" textLength="52.1" lengthAdjust="spacingAndGlyphs">BY CLIENT</text>
<text x="850.5" y="649.4" font-size="11.3" fill="#262626" textLength="96.2" lengthAdjust="spacingAndGlyphs">NEW GRASS AREA</text>
</g>
<rect x="884" y="683.8" width="42.7" height="2.8" fill="#8c9a1e"/>
<rect x="926.7" y="680.4" width="42.7" height="2.8" fill="#6f9a2a"/>
<rect x="969.3" y="683.8" width="42.7" height="2.8" fill="#8c9a1e"/>
<rect x="1012" y="680.4" width="42.7" height="2.8" fill="#6f9a2a"/>
<rect x="1054.6" y="683.8" width="42.7" height="2.8" fill="#8c9a1e"/>
<text x="885.3" y="678" font-family="Liberation Sans, sans-serif" font-size="6" fill="#d4d4d4" text-anchor="middle">0</text>
<text x="928" y="678" font-family="Liberation Sans, sans-serif" font-size="6" fill="#d4d4d4" text-anchor="middle">1</text>
<text x="970.7" y="678" font-family="Liberation Sans, sans-serif" font-size="6" fill="#d4d4d4" text-anchor="middle">2</text>
<text x="1013.4" y="678" font-family="Liberation Sans, sans-serif" font-size="6" fill="#d4d4d4" text-anchor="middle">3</text>
<text x="1056.1" y="678" font-family="Liberation Sans, sans-serif" font-size="6" fill="#d4d4d4" text-anchor="middle">4</text>
<text x="1098.8" y="678" font-family="Liberation Sans, sans-serif" font-size="6" fill="#d4d4d4" text-anchor="middle">5m</text>
<circle cx="1021.3" cy="641.6" r="14" fill="none" stroke="#c8c4c4" stroke-width="0.6"/>
<line x1="1001.6" y1="661.3" x2="1030.6" y2="631.5" stroke="#c8c8c8" stroke-width="0.7"/>
<polygon points="1002,630.5 1002,634.2 1031,632" fill="#e01010"/>
<polygon points="1029.1,660.8 1032.6,660.8 1031,631.5" fill="#e01010"/>
</svg></body></html>
